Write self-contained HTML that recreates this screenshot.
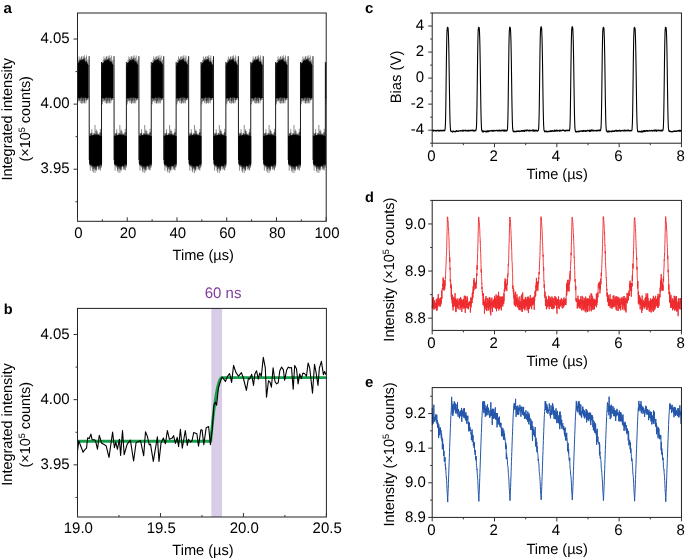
<!DOCTYPE html>
<html><head><meta charset="utf-8"><style>
html,body{margin:0;padding:0;background:#fff;}
svg{display:block;}
text{font-family:"Liberation Sans", sans-serif;text-rendering:geometricPrecision;}
</style></head><body>
<svg width="685" height="560" viewBox="0 0 685 560" font-family='"Liberation Sans", sans-serif'>
<rect width="685" height="560" fill="#fff"/>
<clipPath id="ca"><rect x="77.5" y="13" width="248.7" height="208.3"/></clipPath>
<path clip-path="url(#ca)" d="M52.28 65.68 L52.78 65.39 L53.28 62.95 L53.78 63.99 L54.28 62.5 L54.78 61.59 L55.28 61.13 L55.78 60.62 L56.28 60.76 L56.78 61.08 L57.28 60.83 L57.78 60.82 L58.28 59.69 L58.78 59.88 L59.28 61.65 L59.78 61.65 L60.28 62.62 L60.78 62.59 L61.28 62.01 L61.78 63.79 L62.28 64.16 L62.78 64.74 L63.28 65.09 L63.28 97.86 L62.78 97.31 L62.28 98.09 L61.78 97.36 L61.28 97.9 L60.78 97.39 L60.28 96.9 L59.78 97.25 L59.28 96.74 L58.78 97.23 L58.28 96.93 L57.78 97.26 L57.28 97.52 L56.78 96.44 L56.28 96.64 L55.78 97.38 L55.28 97.44 L54.78 96.91 L54.28 98.2 L53.78 97.59 L53.28 98.12 L52.78 97.75 L52.28 98ZM64.68 135.99 L65.18 136.06 L65.68 136.46 L66.18 135.96 L66.68 135.75 L67.18 135.75 L67.68 136.3 L68.18 135.39 L68.68 136.37 L69.18 134.95 L69.68 135.23 L70.18 135.93 L70.68 135.76 L71.18 135.08 L71.68 135.47 L72.18 135.21 L72.68 136.04 L73.18 135.94 L73.68 135.39 L74.18 136.04 L74.68 135.76 L75.18 136.03 L75.68 136.23 L76.18 136.06 L76.68 136.71 L76.68 163.17 L76.18 163.79 L75.68 164.05 L75.18 164.25 L74.68 163.82 L74.18 165.37 L73.68 166.03 L73.18 165.27 L72.68 165.11 L72.18 165.27 L71.68 165.78 L71.18 166.5 L70.68 165.51 L70.18 165.92 L69.68 165.86 L69.18 166.22 L68.68 165.96 L68.18 165.49 L67.68 165.35 L67.18 164.73 L66.68 163.93 L66.18 164.18 L65.68 164.47 L65.18 163.69 L64.68 163.23ZM77.15 65.68 L77.65 65.39 L78.15 62.95 L78.65 63.99 L79.15 62.5 L79.65 61.59 L80.15 61.13 L80.65 60.62 L81.15 60.76 L81.65 61.08 L82.15 60.83 L82.65 60.82 L83.15 59.69 L83.65 59.88 L84.15 61.65 L84.65 61.65 L85.15 62.62 L85.65 62.59 L86.15 62.01 L86.65 63.79 L87.15 64.16 L87.65 64.74 L88.15 65.09 L88.15 97.86 L87.65 97.31 L87.15 98.09 L86.65 97.36 L86.15 97.9 L85.65 97.39 L85.15 96.9 L84.65 97.25 L84.15 96.74 L83.65 97.23 L83.15 96.93 L82.65 97.26 L82.15 97.52 L81.65 96.44 L81.15 96.64 L80.65 97.38 L80.15 97.44 L79.65 96.91 L79.15 98.2 L78.65 97.59 L78.15 98.12 L77.65 97.75 L77.15 98ZM89.55 135.99 L90.05 136.06 L90.55 136.46 L91.05 135.96 L91.55 135.75 L92.05 135.75 L92.55 136.3 L93.05 135.39 L93.55 136.37 L94.05 134.95 L94.55 135.23 L95.05 135.93 L95.55 135.76 L96.05 135.08 L96.55 135.47 L97.05 135.21 L97.55 136.04 L98.05 135.94 L98.55 135.39 L99.05 136.04 L99.55 135.76 L100.05 136.03 L100.55 136.23 L101.05 136.06 L101.55 136.71 L101.55 163.17 L101.05 163.79 L100.55 164.05 L100.05 164.25 L99.55 163.82 L99.05 165.37 L98.55 166.03 L98.05 165.27 L97.55 165.11 L97.05 165.27 L96.55 165.78 L96.05 166.5 L95.55 165.51 L95.05 165.92 L94.55 165.86 L94.05 166.22 L93.55 165.96 L93.05 165.49 L92.55 165.35 L92.05 164.73 L91.55 163.93 L91.05 164.18 L90.55 164.47 L90.05 163.69 L89.55 163.23ZM102.02 65.68 L102.52 65.39 L103.02 62.95 L103.52 63.99 L104.02 62.5 L104.52 61.59 L105.02 61.13 L105.52 60.62 L106.02 60.76 L106.52 61.08 L107.02 60.83 L107.52 60.82 L108.02 59.69 L108.52 59.88 L109.02 61.65 L109.52 61.65 L110.02 62.62 L110.52 62.59 L111.02 62.01 L111.52 63.79 L112.02 64.16 L112.52 64.74 L113.02 65.09 L113.02 97.86 L112.52 97.31 L112.02 98.09 L111.52 97.36 L111.02 97.9 L110.52 97.39 L110.02 96.9 L109.52 97.25 L109.02 96.74 L108.52 97.23 L108.02 96.93 L107.52 97.26 L107.02 97.52 L106.52 96.44 L106.02 96.64 L105.52 97.38 L105.02 97.44 L104.52 96.91 L104.02 98.2 L103.52 97.59 L103.02 98.12 L102.52 97.75 L102.02 98ZM114.42 135.99 L114.92 136.06 L115.42 136.46 L115.92 135.96 L116.42 135.75 L116.92 135.75 L117.42 136.3 L117.92 135.39 L118.42 136.37 L118.92 134.95 L119.42 135.23 L119.92 135.93 L120.42 135.76 L120.92 135.08 L121.42 135.47 L121.92 135.21 L122.42 136.04 L122.92 135.94 L123.42 135.39 L123.92 136.04 L124.42 135.76 L124.92 136.03 L125.42 136.23 L125.92 136.06 L126.42 136.71 L126.42 163.17 L125.92 163.79 L125.42 164.05 L124.92 164.25 L124.42 163.82 L123.92 165.37 L123.42 166.03 L122.92 165.27 L122.42 165.11 L121.92 165.27 L121.42 165.78 L120.92 166.5 L120.42 165.51 L119.92 165.92 L119.42 165.86 L118.92 166.22 L118.42 165.96 L117.92 165.49 L117.42 165.35 L116.92 164.73 L116.42 163.93 L115.92 164.18 L115.42 164.47 L114.92 163.69 L114.42 163.23ZM126.89 65.68 L127.39 65.39 L127.89 62.95 L128.39 63.99 L128.89 62.5 L129.39 61.59 L129.89 61.13 L130.39 60.62 L130.89 60.76 L131.39 61.08 L131.89 60.83 L132.39 60.82 L132.89 59.69 L133.39 59.88 L133.89 61.65 L134.39 61.65 L134.89 62.62 L135.39 62.59 L135.89 62.01 L136.39 63.79 L136.89 64.16 L137.39 64.74 L137.89 65.09 L137.89 97.86 L137.39 97.31 L136.89 98.09 L136.39 97.36 L135.89 97.9 L135.39 97.39 L134.89 96.9 L134.39 97.25 L133.89 96.74 L133.39 97.23 L132.89 96.93 L132.39 97.26 L131.89 97.52 L131.39 96.44 L130.89 96.64 L130.39 97.38 L129.89 97.44 L129.39 96.91 L128.89 98.2 L128.39 97.59 L127.89 98.12 L127.39 97.75 L126.89 98ZM139.29 135.99 L139.79 136.06 L140.29 136.46 L140.79 135.96 L141.29 135.75 L141.79 135.75 L142.29 136.3 L142.79 135.39 L143.29 136.37 L143.79 134.95 L144.29 135.23 L144.79 135.93 L145.29 135.76 L145.79 135.08 L146.29 135.47 L146.79 135.21 L147.29 136.04 L147.79 135.94 L148.29 135.39 L148.79 136.04 L149.29 135.76 L149.79 136.03 L150.29 136.23 L150.79 136.06 L151.29 136.71 L151.29 163.17 L150.79 163.79 L150.29 164.05 L149.79 164.25 L149.29 163.82 L148.79 165.37 L148.29 166.03 L147.79 165.27 L147.29 165.11 L146.79 165.27 L146.29 165.78 L145.79 166.5 L145.29 165.51 L144.79 165.92 L144.29 165.86 L143.79 166.22 L143.29 165.96 L142.79 165.49 L142.29 165.35 L141.79 164.73 L141.29 163.93 L140.79 164.18 L140.29 164.47 L139.79 163.69 L139.29 163.23ZM151.76 65.68 L152.26 65.39 L152.76 62.95 L153.26 63.99 L153.76 62.5 L154.26 61.59 L154.76 61.13 L155.26 60.62 L155.76 60.76 L156.26 61.08 L156.76 60.83 L157.26 60.82 L157.76 59.69 L158.26 59.88 L158.76 61.65 L159.26 61.65 L159.76 62.62 L160.26 62.59 L160.76 62.01 L161.26 63.79 L161.76 64.16 L162.26 64.74 L162.76 65.09 L162.76 97.86 L162.26 97.31 L161.76 98.09 L161.26 97.36 L160.76 97.9 L160.26 97.39 L159.76 96.9 L159.26 97.25 L158.76 96.74 L158.26 97.23 L157.76 96.93 L157.26 97.26 L156.76 97.52 L156.26 96.44 L155.76 96.64 L155.26 97.38 L154.76 97.44 L154.26 96.91 L153.76 98.2 L153.26 97.59 L152.76 98.12 L152.26 97.75 L151.76 98ZM164.16 135.99 L164.66 136.06 L165.16 136.46 L165.66 135.96 L166.16 135.75 L166.66 135.75 L167.16 136.3 L167.66 135.39 L168.16 136.37 L168.66 134.95 L169.16 135.23 L169.66 135.93 L170.16 135.76 L170.66 135.08 L171.16 135.47 L171.66 135.21 L172.16 136.04 L172.66 135.94 L173.16 135.39 L173.66 136.04 L174.16 135.76 L174.66 136.03 L175.16 136.23 L175.66 136.06 L176.16 136.71 L176.16 163.17 L175.66 163.79 L175.16 164.05 L174.66 164.25 L174.16 163.82 L173.66 165.37 L173.16 166.03 L172.66 165.27 L172.16 165.11 L171.66 165.27 L171.16 165.78 L170.66 166.5 L170.16 165.51 L169.66 165.92 L169.16 165.86 L168.66 166.22 L168.16 165.96 L167.66 165.49 L167.16 165.35 L166.66 164.73 L166.16 163.93 L165.66 164.18 L165.16 164.47 L164.66 163.69 L164.16 163.23ZM176.63 65.68 L177.13 65.39 L177.63 62.95 L178.13 63.99 L178.63 62.5 L179.13 61.59 L179.63 61.13 L180.13 60.62 L180.63 60.76 L181.13 61.08 L181.63 60.83 L182.13 60.82 L182.63 59.69 L183.13 59.88 L183.63 61.65 L184.13 61.65 L184.63 62.62 L185.13 62.59 L185.63 62.01 L186.13 63.79 L186.63 64.16 L187.13 64.74 L187.63 65.09 L187.63 97.86 L187.13 97.31 L186.63 98.09 L186.13 97.36 L185.63 97.9 L185.13 97.39 L184.63 96.9 L184.13 97.25 L183.63 96.74 L183.13 97.23 L182.63 96.93 L182.13 97.26 L181.63 97.52 L181.13 96.44 L180.63 96.64 L180.13 97.38 L179.63 97.44 L179.13 96.91 L178.63 98.2 L178.13 97.59 L177.63 98.12 L177.13 97.75 L176.63 98ZM189.03 135.99 L189.53 136.06 L190.03 136.46 L190.53 135.96 L191.03 135.75 L191.53 135.75 L192.03 136.3 L192.53 135.39 L193.03 136.37 L193.53 134.95 L194.03 135.23 L194.53 135.93 L195.03 135.76 L195.53 135.08 L196.03 135.47 L196.53 135.21 L197.03 136.04 L197.53 135.94 L198.03 135.39 L198.53 136.04 L199.03 135.76 L199.53 136.03 L200.03 136.23 L200.53 136.06 L201.03 136.71 L201.03 163.17 L200.53 163.79 L200.03 164.05 L199.53 164.25 L199.03 163.82 L198.53 165.37 L198.03 166.03 L197.53 165.27 L197.03 165.11 L196.53 165.27 L196.03 165.78 L195.53 166.5 L195.03 165.51 L194.53 165.92 L194.03 165.86 L193.53 166.22 L193.03 165.96 L192.53 165.49 L192.03 165.35 L191.53 164.73 L191.03 163.93 L190.53 164.18 L190.03 164.47 L189.53 163.69 L189.03 163.23ZM201.5 65.68 L202 65.39 L202.5 62.95 L203 63.99 L203.5 62.5 L204 61.59 L204.5 61.13 L205 60.62 L205.5 60.76 L206 61.08 L206.5 60.83 L207 60.82 L207.5 59.69 L208 59.88 L208.5 61.65 L209 61.65 L209.5 62.62 L210 62.59 L210.5 62.01 L211 63.79 L211.5 64.16 L212 64.74 L212.5 65.09 L212.5 97.86 L212 97.31 L211.5 98.09 L211 97.36 L210.5 97.9 L210 97.39 L209.5 96.9 L209 97.25 L208.5 96.74 L208 97.23 L207.5 96.93 L207 97.26 L206.5 97.52 L206 96.44 L205.5 96.64 L205 97.38 L204.5 97.44 L204 96.91 L203.5 98.2 L203 97.59 L202.5 98.12 L202 97.75 L201.5 98ZM213.9 135.99 L214.4 136.06 L214.9 136.46 L215.4 135.96 L215.9 135.75 L216.4 135.75 L216.9 136.3 L217.4 135.39 L217.9 136.37 L218.4 134.95 L218.9 135.23 L219.4 135.93 L219.9 135.76 L220.4 135.08 L220.9 135.47 L221.4 135.21 L221.9 136.04 L222.4 135.94 L222.9 135.39 L223.4 136.04 L223.9 135.76 L224.4 136.03 L224.9 136.23 L225.4 136.06 L225.9 136.71 L225.9 163.17 L225.4 163.79 L224.9 164.05 L224.4 164.25 L223.9 163.82 L223.4 165.37 L222.9 166.03 L222.4 165.27 L221.9 165.11 L221.4 165.27 L220.9 165.78 L220.4 166.5 L219.9 165.51 L219.4 165.92 L218.9 165.86 L218.4 166.22 L217.9 165.96 L217.4 165.49 L216.9 165.35 L216.4 164.73 L215.9 163.93 L215.4 164.18 L214.9 164.47 L214.4 163.69 L213.9 163.23ZM226.37 65.68 L226.87 65.39 L227.37 62.95 L227.87 63.99 L228.37 62.5 L228.87 61.59 L229.37 61.13 L229.87 60.62 L230.37 60.76 L230.87 61.08 L231.37 60.83 L231.87 60.82 L232.37 59.69 L232.87 59.88 L233.37 61.65 L233.87 61.65 L234.37 62.62 L234.87 62.59 L235.37 62.01 L235.87 63.79 L236.37 64.16 L236.87 64.74 L237.37 65.09 L237.37 97.86 L236.87 97.31 L236.37 98.09 L235.87 97.36 L235.37 97.9 L234.87 97.39 L234.37 96.9 L233.87 97.25 L233.37 96.74 L232.87 97.23 L232.37 96.93 L231.87 97.26 L231.37 97.52 L230.87 96.44 L230.37 96.64 L229.87 97.38 L229.37 97.44 L228.87 96.91 L228.37 98.2 L227.87 97.59 L227.37 98.12 L226.87 97.75 L226.37 98ZM238.77 135.99 L239.27 136.06 L239.77 136.46 L240.27 135.96 L240.77 135.75 L241.27 135.75 L241.77 136.3 L242.27 135.39 L242.77 136.37 L243.27 134.95 L243.77 135.23 L244.27 135.93 L244.77 135.76 L245.27 135.08 L245.77 135.47 L246.27 135.21 L246.77 136.04 L247.27 135.94 L247.77 135.39 L248.27 136.04 L248.77 135.76 L249.27 136.03 L249.77 136.23 L250.27 136.06 L250.77 136.71 L250.77 163.17 L250.27 163.79 L249.77 164.05 L249.27 164.25 L248.77 163.82 L248.27 165.37 L247.77 166.03 L247.27 165.27 L246.77 165.11 L246.27 165.27 L245.77 165.78 L245.27 166.5 L244.77 165.51 L244.27 165.92 L243.77 165.86 L243.27 166.22 L242.77 165.96 L242.27 165.49 L241.77 165.35 L241.27 164.73 L240.77 163.93 L240.27 164.18 L239.77 164.47 L239.27 163.69 L238.77 163.23ZM251.24 65.68 L251.74 65.39 L252.24 62.95 L252.74 63.99 L253.24 62.5 L253.74 61.59 L254.24 61.13 L254.74 60.62 L255.24 60.76 L255.74 61.08 L256.24 60.83 L256.74 60.82 L257.24 59.69 L257.74 59.88 L258.24 61.65 L258.74 61.65 L259.24 62.62 L259.74 62.59 L260.24 62.01 L260.74 63.79 L261.24 64.16 L261.74 64.74 L262.24 65.09 L262.24 97.86 L261.74 97.31 L261.24 98.09 L260.74 97.36 L260.24 97.9 L259.74 97.39 L259.24 96.9 L258.74 97.25 L258.24 96.74 L257.74 97.23 L257.24 96.93 L256.74 97.26 L256.24 97.52 L255.74 96.44 L255.24 96.64 L254.74 97.38 L254.24 97.44 L253.74 96.91 L253.24 98.2 L252.74 97.59 L252.24 98.12 L251.74 97.75 L251.24 98ZM263.64 135.99 L264.14 136.06 L264.64 136.46 L265.14 135.96 L265.64 135.75 L266.14 135.75 L266.64 136.3 L267.14 135.39 L267.64 136.37 L268.14 134.95 L268.64 135.23 L269.14 135.93 L269.64 135.76 L270.14 135.08 L270.64 135.47 L271.14 135.21 L271.64 136.04 L272.14 135.94 L272.64 135.39 L273.14 136.04 L273.64 135.76 L274.14 136.03 L274.64 136.23 L275.14 136.06 L275.64 136.71 L275.64 163.17 L275.14 163.79 L274.64 164.05 L274.14 164.25 L273.64 163.82 L273.14 165.37 L272.64 166.03 L272.14 165.27 L271.64 165.11 L271.14 165.27 L270.64 165.78 L270.14 166.5 L269.64 165.51 L269.14 165.92 L268.64 165.86 L268.14 166.22 L267.64 165.96 L267.14 165.49 L266.64 165.35 L266.14 164.73 L265.64 163.93 L265.14 164.18 L264.64 164.47 L264.14 163.69 L263.64 163.23ZM276.11 65.68 L276.61 65.39 L277.11 62.95 L277.61 63.99 L278.11 62.5 L278.61 61.59 L279.11 61.13 L279.61 60.62 L280.11 60.76 L280.61 61.08 L281.11 60.83 L281.61 60.82 L282.11 59.69 L282.61 59.88 L283.11 61.65 L283.61 61.65 L284.11 62.62 L284.61 62.59 L285.11 62.01 L285.61 63.79 L286.11 64.16 L286.61 64.74 L287.11 65.09 L287.11 97.86 L286.61 97.31 L286.11 98.09 L285.61 97.36 L285.11 97.9 L284.61 97.39 L284.11 96.9 L283.61 97.25 L283.11 96.74 L282.61 97.23 L282.11 96.93 L281.61 97.26 L281.11 97.52 L280.61 96.44 L280.11 96.64 L279.61 97.38 L279.11 97.44 L278.61 96.91 L278.11 98.2 L277.61 97.59 L277.11 98.12 L276.61 97.75 L276.11 98ZM288.51 135.99 L289.01 136.06 L289.51 136.46 L290.01 135.96 L290.51 135.75 L291.01 135.75 L291.51 136.3 L292.01 135.39 L292.51 136.37 L293.01 134.95 L293.51 135.23 L294.01 135.93 L294.51 135.76 L295.01 135.08 L295.51 135.47 L296.01 135.21 L296.51 136.04 L297.01 135.94 L297.51 135.39 L298.01 136.04 L298.51 135.76 L299.01 136.03 L299.51 136.23 L300.01 136.06 L300.51 136.71 L300.51 163.17 L300.01 163.79 L299.51 164.05 L299.01 164.25 L298.51 163.82 L298.01 165.37 L297.51 166.03 L297.01 165.27 L296.51 165.11 L296.01 165.27 L295.51 165.78 L295.01 166.5 L294.51 165.51 L294.01 165.92 L293.51 165.86 L293.01 166.22 L292.51 165.96 L292.01 165.49 L291.51 165.35 L291.01 164.73 L290.51 163.93 L290.01 164.18 L289.51 164.47 L289.01 163.69 L288.51 163.23ZM300.98 65.68 L301.48 65.39 L301.98 62.95 L302.48 63.99 L302.98 62.5 L303.48 61.59 L303.98 61.13 L304.48 60.62 L304.98 60.76 L305.48 61.08 L305.98 60.83 L306.48 60.82 L306.98 59.69 L307.48 59.88 L307.98 61.65 L308.48 61.65 L308.98 62.62 L309.48 62.59 L309.98 62.01 L310.48 63.79 L310.98 64.16 L311.48 64.74 L311.98 65.09 L311.98 97.86 L311.48 97.31 L310.98 98.09 L310.48 97.36 L309.98 97.9 L309.48 97.39 L308.98 96.9 L308.48 97.25 L307.98 96.74 L307.48 97.23 L306.98 96.93 L306.48 97.26 L305.98 97.52 L305.48 96.44 L304.98 96.64 L304.48 97.38 L303.98 97.44 L303.48 96.91 L302.98 98.2 L302.48 97.59 L301.98 98.12 L301.48 97.75 L300.98 98ZM313.38 135.99 L313.88 136.06 L314.38 136.46 L314.88 135.96 L315.38 135.75 L315.88 135.75 L316.38 136.3 L316.88 135.39 L317.38 136.37 L317.88 134.95 L318.38 135.23 L318.88 135.93 L319.38 135.76 L319.88 135.08 L320.38 135.47 L320.88 135.21 L321.38 136.04 L321.88 135.94 L322.38 135.39 L322.88 136.04 L323.38 135.76 L323.88 136.03 L324.38 136.23 L324.88 136.06 L325.38 136.71 L325.38 163.17 L324.88 163.79 L324.38 164.05 L323.88 164.25 L323.38 163.82 L322.88 165.37 L322.38 166.03 L321.88 165.27 L321.38 165.11 L320.88 165.27 L320.38 165.78 L319.88 166.5 L319.38 165.51 L318.88 165.92 L318.38 165.86 L317.88 166.22 L317.38 165.96 L316.88 165.49 L316.38 165.35 L315.88 164.73 L315.38 163.93 L314.88 164.18 L314.38 164.47 L313.88 163.69 L313.38 163.23ZM325.85 65.68 L326.35 65.39 L326.85 62.95 L327.35 63.99 L327.85 62.5 L328.35 61.59 L328.85 61.13 L329.35 60.62 L329.85 60.76 L330.35 61.08 L330.85 60.83 L331.35 60.82 L331.85 59.69 L332.35 59.88 L332.85 61.65 L333.35 61.65 L333.85 62.62 L334.35 62.59 L334.85 62.01 L335.35 63.79 L335.85 64.16 L336.35 64.74 L336.85 65.09 L336.85 97.86 L336.35 97.31 L335.85 98.09 L335.35 97.36 L334.85 97.9 L334.35 97.39 L333.85 96.9 L333.35 97.25 L332.85 96.74 L332.35 97.23 L331.85 96.93 L331.35 97.26 L330.85 97.52 L330.35 96.44 L329.85 96.64 L329.35 97.38 L328.85 97.44 L328.35 96.91 L327.85 98.2 L327.35 97.59 L326.85 98.12 L326.35 97.75 L325.85 98ZM338.25 135.99 L338.75 136.06 L339.25 136.46 L339.75 135.96 L340.25 135.75 L340.75 135.75 L341.25 136.3 L341.75 135.39 L342.25 136.37 L342.75 134.95 L343.25 135.23 L343.75 135.93 L344.25 135.76 L344.75 135.08 L345.25 135.47 L345.75 135.21 L346.25 136.04 L346.75 135.94 L347.25 135.39 L347.75 136.04 L348.25 135.76 L348.75 136.03 L349.25 136.23 L349.75 136.06 L350.25 136.71 L350.25 163.17 L349.75 163.79 L349.25 164.05 L348.75 164.25 L348.25 163.82 L347.75 165.37 L347.25 166.03 L346.75 165.27 L346.25 165.11 L345.75 165.27 L345.25 165.78 L344.75 166.5 L344.25 165.51 L343.75 165.92 L343.25 165.86 L342.75 166.22 L342.25 165.96 L341.75 165.49 L341.25 165.35 L340.75 164.73 L340.25 163.93 L339.75 164.18 L339.25 164.47 L338.75 163.69 L338.25 163.23ZM350.72 65.68 L351.22 65.39 L351.72 62.95 L352.22 63.99 L352.72 62.5 L353.22 61.59 L353.72 61.13 L354.22 60.62 L354.72 60.76 L355.22 61.08 L355.72 60.83 L356.22 60.82 L356.72 59.69 L357.22 59.88 L357.72 61.65 L358.22 61.65 L358.72 62.62 L359.22 62.59 L359.72 62.01 L360.22 63.79 L360.72 64.16 L361.22 64.74 L361.72 65.09 L361.72 97.86 L361.22 97.31 L360.72 98.09 L360.22 97.36 L359.72 97.9 L359.22 97.39 L358.72 96.9 L358.22 97.25 L357.72 96.74 L357.22 97.23 L356.72 96.93 L356.22 97.26 L355.72 97.52 L355.22 96.44 L354.72 96.64 L354.22 97.38 L353.72 97.44 L353.22 96.91 L352.72 98.2 L352.22 97.59 L351.72 98.12 L351.22 97.75 L350.72 98ZM363.12 135.99 L363.62 136.06 L364.12 136.46 L364.62 135.96 L365.12 135.75 L365.62 135.75 L366.12 136.3 L366.62 135.39 L367.12 136.37 L367.62 134.95 L368.12 135.23 L368.62 135.93 L369.12 135.76 L369.62 135.08 L370.12 135.47 L370.62 135.21 L371.12 136.04 L371.62 135.94 L372.12 135.39 L372.62 136.04 L373.12 135.76 L373.62 136.03 L374.12 136.23 L374.62 136.06 L375.12 136.71 L375.12 163.17 L374.62 163.79 L374.12 164.05 L373.62 164.25 L373.12 163.82 L372.62 165.37 L372.12 166.03 L371.62 165.27 L371.12 165.11 L370.62 165.27 L370.12 165.78 L369.62 166.5 L369.12 165.51 L368.62 165.92 L368.12 165.86 L367.62 166.22 L367.12 165.96 L366.62 165.49 L366.12 165.35 L365.62 164.73 L365.12 163.93 L364.62 164.18 L364.12 164.47 L363.62 163.69 L363.12 163.23ZM51.78 165.5L51.78 62M64.28 56.2L64.38 160M76.65 165.5L76.65 62M89.15 56.2L89.25 160M101.52 165.5L101.52 62M114.02 56.2L114.12 160M126.39 165.5L126.39 62M138.89 56.2L138.99 160M151.26 165.5L151.26 62M163.76 56.2L163.86 160M176.13 165.5L176.13 62M188.63 56.2L188.73 160M201 165.5L201 62M213.5 56.2L213.6 160M225.87 165.5L225.87 62M238.37 56.2L238.47 160M250.74 165.5L250.74 62M263.24 56.2L263.34 160M275.61 165.5L275.61 62M288.11 56.2L288.21 160M300.48 165.5L300.48 62M312.98 56.2L313.08 160M325.35 165.5L325.35 62M337.85 56.2L337.95 160M350.22 165.5L350.22 62M362.72 56.2L362.82 160" fill="#000" stroke="#000" stroke-width="0.9" stroke-linejoin="round"/>
<path clip-path="url(#ca)" d="M52.53 65.85L52.53 62.44M52.53 97.11L52.53 98.32M52.65 65.65L52.65 63.53M52.65 97.07L52.65 104.37M53.17 64.81L53.17 62.98M53.17 96.9L53.17 101.75M53.4 64.47L53.4 59.91M53.4 96.83L53.4 97.8M53.65 64.12L53.65 62.96M53.65 96.76L53.65 98.58M54.22 63.4L54.22 56.43M54.22 96.62L54.22 101.13M54.33 63.27L54.33 62.23M54.33 96.59L54.33 100.86M54.82 62.75L54.82 60.41M54.82 96.49L54.82 100.02M55.06 62.53L55.06 58.98M55.06 96.45L55.06 98.32M55.38 62.25L55.38 58.46M55.38 96.39L55.38 103.08M55.86 61.91L55.86 61M55.86 96.32L55.86 98.25M55.99 61.83L55.99 59.82M55.99 96.31L55.99 100.69M56.4 61.62L56.4 56.8M56.4 96.26L56.4 97.55M56.82 61.45L56.82 56.28M56.82 96.23L56.82 103.53M57.21 61.36L57.21 60.5M57.21 96.21L57.21 103.51M57.4 61.32L57.4 59.07M57.4 96.2L57.4 101.18M57.86 61.3L57.86 58.94M57.86 96.2L57.86 97.03M58.06 61.31L58.06 59.49M58.06 96.2L58.06 100.98M58.35 61.35L58.35 56.2M58.35 96.21L58.35 103.05M58.67 61.43L58.67 60.19M58.67 96.23L58.67 99.36M59.11 61.59L59.11 57.74M59.11 96.26L59.11 97.57M59.48 61.77L59.48 55.23M59.48 96.29L59.48 103.59M59.65 61.88L59.65 58.11M59.65 96.32L59.65 102.47M60 62.11L60 60.1M60 96.36L60 100.2M60.57 62.58L60.57 61.38M60.57 96.46L60.57 97.43M60.88 62.89L60.88 57.64M60.88 96.52L60.88 97.83M61.08 63.09L61.08 60.62M61.08 96.56L61.08 103.24M61.46 63.53L61.46 61.1M61.46 96.65L61.46 100.71M61.65 63.77L61.65 55.47M61.65 96.69L61.65 98.99M62.08 64.36L62.08 62.71M62.08 96.81L62.08 100.18M62.32 64.71L62.32 61.85M62.32 96.88L62.32 99.52M62.83 65.5L62.83 63.6M62.83 97.04L62.83 97.92M63.03 65.86L63.03 59.69M63.03 97.11L63.03 99.91M64.87 137.24L64.87 135.58M64.87 162.38L64.87 165.06M65.11 137.16L65.11 135.91M65.11 162.61L65.11 165.5M65.4 137.07L65.4 132.96M65.4 162.88L65.4 170.68M65.79 136.96L65.79 133.76M65.79 163.21L65.79 165.47M66.18 136.86L66.18 134.05M66.18 163.51L66.18 166.31M66.53 136.78L66.53 133.04M66.53 163.76L66.53 166.43M66.94 136.69L66.94 129.21M66.94 164.03L66.94 167.54M67.14 136.65L67.14 132.56M67.14 164.15L67.14 165.51M67.63 136.56L67.63 135.71M67.63 164.42L67.63 166.96M67.79 136.53L67.79 135.3M67.79 164.5L67.79 170.99M68.26 136.46L68.26 135.28M68.26 164.71L68.26 169.14M68.41 136.44L68.41 134.62M68.41 164.77L68.41 172.57M68.79 136.4L68.79 133.28M68.79 164.9L68.79 165.76M69.08 136.37L69.08 135.3M69.08 164.98L69.08 168.63M69.44 136.34L69.44 133.05M69.44 165.07L69.44 167.72M69.86 136.32L69.86 133.68M69.86 165.14L69.86 169.44M70.12 136.31L70.12 125.01M70.12 165.17L70.12 172.97M70.51 136.3L70.51 134.03M70.51 165.2L70.51 167.82M70.86 136.3L70.86 134.36M70.86 165.2L70.86 169.78M71.14 136.31L71.14 131.09M71.14 165.18L71.14 169.87M71.42 136.32L71.42 129.46M71.42 165.15L71.42 171.13M71.87 136.34L71.87 133.83M71.87 165.08L71.87 168.69M72.24 136.37L72.24 131M72.24 165L72.24 165.86M72.47 136.39L72.47 133.21M72.47 164.93L72.47 166.18M72.82 136.43L72.82 134.34M72.82 164.82L72.82 166.38M73.23 136.48L73.23 134.78M73.23 164.66L73.23 166.96M73.59 136.53L73.59 134.38M73.59 164.5L73.59 169.72M73.84 136.58L73.84 133.52M73.84 164.37L73.84 165.6M74.19 136.64L74.19 135.32M74.19 164.18L74.19 168.56M74.43 136.69L74.43 135.81M74.43 164.03L74.43 167.49M74.98 136.81L74.98 133.16M74.98 163.66L74.98 169.76M75.24 136.88L75.24 132.15M75.24 163.47L75.24 165.29M75.52 136.95L75.52 128.8M75.52 163.25L75.52 170.49M75.97 137.08L75.97 132.27M75.97 162.87L75.97 167.23M76.3 137.18L76.3 136.28M76.3 162.57L76.3 163.43M76.45 137.22L76.45 136.39M76.45 162.43L76.45 167.59M77.4 65.85L77.4 62.44M77.4 97.11L77.4 98.32M77.52 65.65L77.52 63.53M77.52 97.07L77.52 104.37M78.04 64.81L78.04 62.98M78.04 96.9L78.04 101.75M78.27 64.47L78.27 59.91M78.27 96.83L78.27 97.8M78.52 64.12L78.52 62.96M78.52 96.76L78.52 98.58M79.09 63.4L79.09 56.43M79.09 96.62L79.09 101.13M79.2 63.27L79.2 62.23M79.2 96.59L79.2 100.86M79.69 62.75L79.69 60.41M79.69 96.49L79.69 100.02M79.93 62.53L79.93 58.98M79.93 96.45L79.93 98.32M80.25 62.25L80.25 58.46M80.25 96.39L80.25 103.08M80.73 61.91L80.73 61M80.73 96.32L80.73 98.25M80.86 61.83L80.86 59.82M80.86 96.31L80.86 100.69M81.27 61.62L81.27 56.8M81.27 96.26L81.27 97.55M81.69 61.45L81.69 56.28M81.69 96.23L81.69 103.53M82.08 61.36L82.08 60.5M82.08 96.21L82.08 103.51M82.27 61.32L82.27 59.07M82.27 96.2L82.27 101.18M82.73 61.3L82.73 58.94M82.73 96.2L82.73 97.03M82.93 61.31L82.93 59.49M82.93 96.2L82.93 100.98M83.22 61.35L83.22 56.2M83.22 96.21L83.22 103.05M83.54 61.43L83.54 60.19M83.54 96.23L83.54 99.36M83.98 61.59L83.98 57.74M83.98 96.26L83.98 97.57M84.35 61.77L84.35 55.23M84.35 96.29L84.35 103.59M84.52 61.88L84.52 58.11M84.52 96.32L84.52 102.47M84.87 62.11L84.87 60.1M84.87 96.36L84.87 100.2M85.44 62.58L85.44 61.38M85.44 96.46L85.44 97.43M85.75 62.89L85.75 57.64M85.75 96.52L85.75 97.83M85.95 63.09L85.95 60.62M85.95 96.56L85.95 103.24M86.33 63.53L86.33 61.1M86.33 96.65L86.33 100.71M86.52 63.77L86.52 55.47M86.52 96.69L86.52 98.99M86.95 64.36L86.95 62.71M86.95 96.81L86.95 100.18M87.19 64.71L87.19 61.85M87.19 96.88L87.19 99.52M87.7 65.5L87.7 63.6M87.7 97.04L87.7 97.92M87.9 65.86L87.9 59.69M87.9 97.11L87.9 99.91M89.74 137.24L89.74 135.58M89.74 162.38L89.74 165.06M89.98 137.16L89.98 135.91M89.98 162.61L89.98 165.5M90.27 137.07L90.27 132.96M90.27 162.88L90.27 170.68M90.66 136.96L90.66 133.76M90.66 163.21L90.66 165.47M91.05 136.86L91.05 134.05M91.05 163.51L91.05 166.31M91.4 136.78L91.4 133.04M91.4 163.76L91.4 166.43M91.81 136.69L91.81 129.21M91.81 164.03L91.81 167.54M92.01 136.65L92.01 132.56M92.01 164.15L92.01 165.51M92.5 136.56L92.5 135.71M92.5 164.42L92.5 166.96M92.66 136.53L92.66 135.3M92.66 164.5L92.66 170.99M93.13 136.46L93.13 135.28M93.13 164.71L93.13 169.14M93.28 136.44L93.28 134.62M93.28 164.77L93.28 172.57M93.66 136.4L93.66 133.28M93.66 164.9L93.66 165.76M93.95 136.37L93.95 135.3M93.95 164.98L93.95 168.63M94.31 136.34L94.31 133.05M94.31 165.07L94.31 167.72M94.73 136.32L94.73 133.68M94.73 165.14L94.73 169.44M94.99 136.31L94.99 125.01M94.99 165.17L94.99 172.97M95.38 136.3L95.38 134.03M95.38 165.2L95.38 167.82M95.73 136.3L95.73 134.36M95.73 165.2L95.73 169.78M96.01 136.31L96.01 131.09M96.01 165.18L96.01 169.87M96.29 136.32L96.29 129.46M96.29 165.15L96.29 171.13M96.74 136.34L96.74 133.83M96.74 165.08L96.74 168.69M97.11 136.37L97.11 131M97.11 165L97.11 165.86M97.34 136.39L97.34 133.21M97.34 164.93L97.34 166.18M97.69 136.43L97.69 134.34M97.69 164.82L97.69 166.38M98.1 136.48L98.1 134.78M98.1 164.66L98.1 166.96M98.46 136.53L98.46 134.38M98.46 164.5L98.46 169.72M98.71 136.58L98.71 133.52M98.71 164.37L98.71 165.6M99.06 136.64L99.06 135.32M99.06 164.18L99.06 168.56M99.3 136.69L99.3 135.81M99.3 164.03L99.3 167.49M99.85 136.81L99.85 133.16M99.85 163.66L99.85 169.76M100.11 136.88L100.11 132.15M100.11 163.47L100.11 165.29M100.39 136.95L100.39 128.8M100.39 163.25L100.39 170.49M100.84 137.08L100.84 132.27M100.84 162.87L100.84 167.23M101.17 137.18L101.17 136.28M101.17 162.57L101.17 163.43M101.32 137.22L101.32 136.39M101.32 162.43L101.32 167.59M102.27 65.85L102.27 62.44M102.27 97.11L102.27 98.32M102.39 65.65L102.39 63.53M102.39 97.07L102.39 104.37M102.91 64.81L102.91 62.98M102.91 96.9L102.91 101.75M103.14 64.47L103.14 59.91M103.14 96.83L103.14 97.8M103.39 64.12L103.39 62.96M103.39 96.76L103.39 98.58M103.96 63.4L103.96 56.43M103.96 96.62L103.96 101.13M104.07 63.27L104.07 62.23M104.07 96.59L104.07 100.86M104.56 62.75L104.56 60.41M104.56 96.49L104.56 100.02M104.8 62.53L104.8 58.98M104.8 96.45L104.8 98.32M105.12 62.25L105.12 58.46M105.12 96.39L105.12 103.08M105.6 61.91L105.6 61M105.6 96.32L105.6 98.25M105.73 61.83L105.73 59.82M105.73 96.31L105.73 100.69M106.14 61.62L106.14 56.8M106.14 96.26L106.14 97.55M106.56 61.45L106.56 56.28M106.56 96.23L106.56 103.53M106.95 61.36L106.95 60.5M106.95 96.21L106.95 103.51M107.14 61.32L107.14 59.07M107.14 96.2L107.14 101.18M107.6 61.3L107.6 58.94M107.6 96.2L107.6 97.03M107.8 61.31L107.8 59.49M107.8 96.2L107.8 100.98M108.09 61.35L108.09 56.2M108.09 96.21L108.09 103.05M108.41 61.43L108.41 60.19M108.41 96.23L108.41 99.36M108.85 61.59L108.85 57.74M108.85 96.26L108.85 97.57M109.22 61.77L109.22 55.23M109.22 96.29L109.22 103.59M109.39 61.88L109.39 58.11M109.39 96.32L109.39 102.47M109.74 62.11L109.74 60.1M109.74 96.36L109.74 100.2M110.31 62.58L110.31 61.38M110.31 96.46L110.31 97.43M110.62 62.89L110.62 57.64M110.62 96.52L110.62 97.83M110.82 63.09L110.82 60.62M110.82 96.56L110.82 103.24M111.2 63.53L111.2 61.1M111.2 96.65L111.2 100.71M111.39 63.77L111.39 55.47M111.39 96.69L111.39 98.99M111.82 64.36L111.82 62.71M111.82 96.81L111.82 100.18M112.06 64.71L112.06 61.85M112.06 96.88L112.06 99.52M112.57 65.5L112.57 63.6M112.57 97.04L112.57 97.92M112.77 65.86L112.77 59.69M112.77 97.11L112.77 99.91M114.61 137.24L114.61 135.58M114.61 162.38L114.61 165.06M114.85 137.16L114.85 135.91M114.85 162.61L114.85 165.5M115.14 137.07L115.14 132.96M115.14 162.88L115.14 170.68M115.53 136.96L115.53 133.76M115.53 163.21L115.53 165.47M115.92 136.86L115.92 134.05M115.92 163.51L115.92 166.31M116.27 136.78L116.27 133.04M116.27 163.76L116.27 166.43M116.68 136.69L116.68 129.21M116.68 164.03L116.68 167.54M116.88 136.65L116.88 132.56M116.88 164.15L116.88 165.51M117.37 136.56L117.37 135.71M117.37 164.42L117.37 166.96M117.53 136.53L117.53 135.3M117.53 164.5L117.53 170.99M118 136.46L118 135.28M118 164.71L118 169.14M118.15 136.44L118.15 134.62M118.15 164.77L118.15 172.57M118.53 136.4L118.53 133.28M118.53 164.9L118.53 165.76M118.82 136.37L118.82 135.3M118.82 164.98L118.82 168.63M119.18 136.34L119.18 133.05M119.18 165.07L119.18 167.72M119.6 136.32L119.6 133.68M119.6 165.14L119.6 169.44M119.86 136.31L119.86 125.01M119.86 165.17L119.86 172.97M120.25 136.3L120.25 134.03M120.25 165.2L120.25 167.82M120.6 136.3L120.6 134.36M120.6 165.2L120.6 169.78M120.88 136.31L120.88 131.09M120.88 165.18L120.88 169.87M121.16 136.32L121.16 129.46M121.16 165.15L121.16 171.13M121.61 136.34L121.61 133.83M121.61 165.08L121.61 168.69M121.98 136.37L121.98 131M121.98 165L121.98 165.86M122.21 136.39L122.21 133.21M122.21 164.93L122.21 166.18M122.56 136.43L122.56 134.34M122.56 164.82L122.56 166.38M122.97 136.48L122.97 134.78M122.97 164.66L122.97 166.96M123.33 136.53L123.33 134.38M123.33 164.5L123.33 169.72M123.58 136.58L123.58 133.52M123.58 164.37L123.58 165.6M123.93 136.64L123.93 135.32M123.93 164.18L123.93 168.56M124.17 136.69L124.17 135.81M124.17 164.03L124.17 167.49M124.72 136.81L124.72 133.16M124.72 163.66L124.72 169.76M124.98 136.88L124.98 132.15M124.98 163.47L124.98 165.29M125.26 136.95L125.26 128.8M125.26 163.25L125.26 170.49M125.71 137.08L125.71 132.27M125.71 162.87L125.71 167.23M126.04 137.18L126.04 136.28M126.04 162.57L126.04 163.43M126.19 137.22L126.19 136.39M126.19 162.43L126.19 167.59M127.14 65.85L127.14 62.44M127.14 97.11L127.14 98.32M127.26 65.65L127.26 63.53M127.26 97.07L127.26 104.37M127.78 64.81L127.78 62.98M127.78 96.9L127.78 101.75M128.01 64.47L128.01 59.91M128.01 96.83L128.01 97.8M128.26 64.12L128.26 62.96M128.26 96.76L128.26 98.58M128.83 63.4L128.83 56.43M128.83 96.62L128.83 101.13M128.94 63.27L128.94 62.23M128.94 96.59L128.94 100.86M129.43 62.75L129.43 60.41M129.43 96.49L129.43 100.02M129.67 62.53L129.67 58.98M129.67 96.45L129.67 98.32M129.99 62.25L129.99 58.46M129.99 96.39L129.99 103.08M130.47 61.91L130.47 61M130.47 96.32L130.47 98.25M130.6 61.83L130.6 59.82M130.6 96.31L130.6 100.69M131.01 61.62L131.01 56.8M131.01 96.26L131.01 97.55M131.43 61.45L131.43 56.28M131.43 96.23L131.43 103.53M131.82 61.36L131.82 60.5M131.82 96.21L131.82 103.51M132.01 61.32L132.01 59.07M132.01 96.2L132.01 101.18M132.47 61.3L132.47 58.94M132.47 96.2L132.47 97.03M132.67 61.31L132.67 59.49M132.67 96.2L132.67 100.98M132.96 61.35L132.96 56.2M132.96 96.21L132.96 103.05M133.28 61.43L133.28 60.19M133.28 96.23L133.28 99.36M133.72 61.59L133.72 57.74M133.72 96.26L133.72 97.57M134.09 61.77L134.09 55.23M134.09 96.29L134.09 103.59M134.26 61.88L134.26 58.11M134.26 96.32L134.26 102.47M134.61 62.11L134.61 60.1M134.61 96.36L134.61 100.2M135.18 62.58L135.18 61.38M135.18 96.46L135.18 97.43M135.49 62.89L135.49 57.64M135.49 96.52L135.49 97.83M135.69 63.09L135.69 60.62M135.69 96.56L135.69 103.24M136.07 63.53L136.07 61.1M136.07 96.65L136.07 100.71M136.26 63.77L136.26 55.47M136.26 96.69L136.26 98.99M136.69 64.36L136.69 62.71M136.69 96.81L136.69 100.18M136.93 64.71L136.93 61.85M136.93 96.88L136.93 99.52M137.44 65.5L137.44 63.6M137.44 97.04L137.44 97.92M137.64 65.86L137.64 59.69M137.64 97.11L137.64 99.91M139.48 137.24L139.48 135.58M139.48 162.38L139.48 165.06M139.72 137.16L139.72 135.91M139.72 162.61L139.72 165.5M140.01 137.07L140.01 132.96M140.01 162.88L140.01 170.68M140.4 136.96L140.4 133.76M140.4 163.21L140.4 165.47M140.79 136.86L140.79 134.05M140.79 163.51L140.79 166.31M141.14 136.78L141.14 133.04M141.14 163.76L141.14 166.43M141.55 136.69L141.55 129.21M141.55 164.03L141.55 167.54M141.75 136.65L141.75 132.56M141.75 164.15L141.75 165.51M142.24 136.56L142.24 135.71M142.24 164.42L142.24 166.96M142.4 136.53L142.4 135.3M142.4 164.5L142.4 170.99M142.87 136.46L142.87 135.28M142.87 164.71L142.87 169.14M143.02 136.44L143.02 134.62M143.02 164.77L143.02 172.57M143.4 136.4L143.4 133.28M143.4 164.9L143.4 165.76M143.69 136.37L143.69 135.3M143.69 164.98L143.69 168.63M144.05 136.34L144.05 133.05M144.05 165.07L144.05 167.72M144.47 136.32L144.47 133.68M144.47 165.14L144.47 169.44M144.73 136.31L144.73 125.01M144.73 165.17L144.73 172.97M145.12 136.3L145.12 134.03M145.12 165.2L145.12 167.82M145.47 136.3L145.47 134.36M145.47 165.2L145.47 169.78M145.75 136.31L145.75 131.09M145.75 165.18L145.75 169.87M146.03 136.32L146.03 129.46M146.03 165.15L146.03 171.13M146.48 136.34L146.48 133.83M146.48 165.08L146.48 168.69M146.85 136.37L146.85 131M146.85 165L146.85 165.86M147.08 136.39L147.08 133.21M147.08 164.93L147.08 166.18M147.43 136.43L147.43 134.34M147.43 164.82L147.43 166.38M147.84 136.48L147.84 134.78M147.84 164.66L147.84 166.96M148.2 136.53L148.2 134.38M148.2 164.5L148.2 169.72M148.45 136.58L148.45 133.52M148.45 164.37L148.45 165.6M148.8 136.64L148.8 135.32M148.8 164.18L148.8 168.56M149.04 136.69L149.04 135.81M149.04 164.03L149.04 167.49M149.59 136.81L149.59 133.16M149.59 163.66L149.59 169.76M149.85 136.88L149.85 132.15M149.85 163.47L149.85 165.29M150.13 136.95L150.13 128.8M150.13 163.25L150.13 170.49M150.58 137.08L150.58 132.27M150.58 162.87L150.58 167.23M150.91 137.18L150.91 136.28M150.91 162.57L150.91 163.43M151.06 137.22L151.06 136.39M151.06 162.43L151.06 167.59M152.01 65.85L152.01 62.44M152.01 97.11L152.01 98.32M152.13 65.65L152.13 63.53M152.13 97.07L152.13 104.37M152.65 64.81L152.65 62.98M152.65 96.9L152.65 101.75M152.88 64.47L152.88 59.91M152.88 96.83L152.88 97.8M153.13 64.12L153.13 62.96M153.13 96.76L153.13 98.58M153.7 63.4L153.7 56.43M153.7 96.62L153.7 101.13M153.81 63.27L153.81 62.23M153.81 96.59L153.81 100.86M154.3 62.75L154.3 60.41M154.3 96.49L154.3 100.02M154.54 62.53L154.54 58.98M154.54 96.45L154.54 98.32M154.86 62.25L154.86 58.46M154.86 96.39L154.86 103.08M155.34 61.91L155.34 61M155.34 96.32L155.34 98.25M155.47 61.83L155.47 59.82M155.47 96.31L155.47 100.69M155.88 61.62L155.88 56.8M155.88 96.26L155.88 97.55M156.3 61.45L156.3 56.28M156.3 96.23L156.3 103.53M156.69 61.36L156.69 60.5M156.69 96.21L156.69 103.51M156.88 61.32L156.88 59.07M156.88 96.2L156.88 101.18M157.34 61.3L157.34 58.94M157.34 96.2L157.34 97.03M157.54 61.31L157.54 59.49M157.54 96.2L157.54 100.98M157.83 61.35L157.83 56.2M157.83 96.21L157.83 103.05M158.15 61.43L158.15 60.19M158.15 96.23L158.15 99.36M158.59 61.59L158.59 57.74M158.59 96.26L158.59 97.57M158.96 61.77L158.96 55.23M158.96 96.29L158.96 103.59M159.13 61.88L159.13 58.11M159.13 96.32L159.13 102.47M159.48 62.11L159.48 60.1M159.48 96.36L159.48 100.2M160.05 62.58L160.05 61.38M160.05 96.46L160.05 97.43M160.36 62.89L160.36 57.64M160.36 96.52L160.36 97.83M160.56 63.09L160.56 60.62M160.56 96.56L160.56 103.24M160.94 63.53L160.94 61.1M160.94 96.65L160.94 100.71M161.13 63.77L161.13 55.47M161.13 96.69L161.13 98.99M161.56 64.36L161.56 62.71M161.56 96.81L161.56 100.18M161.8 64.71L161.8 61.85M161.8 96.88L161.8 99.52M162.31 65.5L162.31 63.6M162.31 97.04L162.31 97.92M162.51 65.86L162.51 59.69M162.51 97.11L162.51 99.91M164.35 137.24L164.35 135.58M164.35 162.38L164.35 165.06M164.59 137.16L164.59 135.91M164.59 162.61L164.59 165.5M164.88 137.07L164.88 132.96M164.88 162.88L164.88 170.68M165.27 136.96L165.27 133.76M165.27 163.21L165.27 165.47M165.66 136.86L165.66 134.05M165.66 163.51L165.66 166.31M166.01 136.78L166.01 133.04M166.01 163.76L166.01 166.43M166.42 136.69L166.42 129.21M166.42 164.03L166.42 167.54M166.62 136.65L166.62 132.56M166.62 164.15L166.62 165.51M167.11 136.56L167.11 135.71M167.11 164.42L167.11 166.96M167.27 136.53L167.27 135.3M167.27 164.5L167.27 170.99M167.74 136.46L167.74 135.28M167.74 164.71L167.74 169.14M167.89 136.44L167.89 134.62M167.89 164.77L167.89 172.57M168.27 136.4L168.27 133.28M168.27 164.9L168.27 165.76M168.56 136.37L168.56 135.3M168.56 164.98L168.56 168.63M168.92 136.34L168.92 133.05M168.92 165.07L168.92 167.72M169.34 136.32L169.34 133.68M169.34 165.14L169.34 169.44M169.6 136.31L169.6 125.01M169.6 165.17L169.6 172.97M169.99 136.3L169.99 134.03M169.99 165.2L169.99 167.82M170.34 136.3L170.34 134.36M170.34 165.2L170.34 169.78M170.62 136.31L170.62 131.09M170.62 165.18L170.62 169.87M170.9 136.32L170.9 129.46M170.9 165.15L170.9 171.13M171.35 136.34L171.35 133.83M171.35 165.08L171.35 168.69M171.72 136.37L171.72 131M171.72 165L171.72 165.86M171.95 136.39L171.95 133.21M171.95 164.93L171.95 166.18M172.3 136.43L172.3 134.34M172.3 164.82L172.3 166.38M172.71 136.48L172.71 134.78M172.71 164.66L172.71 166.96M173.07 136.53L173.07 134.38M173.07 164.5L173.07 169.72M173.32 136.58L173.32 133.52M173.32 164.37L173.32 165.6M173.67 136.64L173.67 135.32M173.67 164.18L173.67 168.56M173.91 136.69L173.91 135.81M173.91 164.03L173.91 167.49M174.46 136.81L174.46 133.16M174.46 163.66L174.46 169.76M174.72 136.88L174.72 132.15M174.72 163.47L174.72 165.29M175 136.95L175 128.8M175 163.25L175 170.49M175.45 137.08L175.45 132.27M175.45 162.87L175.45 167.23M175.78 137.18L175.78 136.28M175.78 162.57L175.78 163.43M175.93 137.22L175.93 136.39M175.93 162.43L175.93 167.59M176.88 65.85L176.88 62.44M176.88 97.11L176.88 98.32M177 65.65L177 63.53M177 97.07L177 104.37M177.52 64.81L177.52 62.98M177.52 96.9L177.52 101.75M177.75 64.47L177.75 59.91M177.75 96.83L177.75 97.8M178 64.12L178 62.96M178 96.76L178 98.58M178.57 63.4L178.57 56.43M178.57 96.62L178.57 101.13M178.68 63.27L178.68 62.23M178.68 96.59L178.68 100.86M179.17 62.75L179.17 60.41M179.17 96.49L179.17 100.02M179.41 62.53L179.41 58.98M179.41 96.45L179.41 98.32M179.73 62.25L179.73 58.46M179.73 96.39L179.73 103.08M180.21 61.91L180.21 61M180.21 96.32L180.21 98.25M180.34 61.83L180.34 59.82M180.34 96.31L180.34 100.69M180.75 61.62L180.75 56.8M180.75 96.26L180.75 97.55M181.17 61.45L181.17 56.28M181.17 96.23L181.17 103.53M181.56 61.36L181.56 60.5M181.56 96.21L181.56 103.51M181.75 61.32L181.75 59.07M181.75 96.2L181.75 101.18M182.21 61.3L182.21 58.94M182.21 96.2L182.21 97.03M182.41 61.31L182.41 59.49M182.41 96.2L182.41 100.98M182.7 61.35L182.7 56.2M182.7 96.21L182.7 103.05M183.02 61.43L183.02 60.19M183.02 96.23L183.02 99.36M183.46 61.59L183.46 57.74M183.46 96.26L183.46 97.57M183.83 61.77L183.83 55.23M183.83 96.29L183.83 103.59M184 61.88L184 58.11M184 96.32L184 102.47M184.35 62.11L184.35 60.1M184.35 96.36L184.35 100.2M184.92 62.58L184.92 61.38M184.92 96.46L184.92 97.43M185.23 62.89L185.23 57.64M185.23 96.52L185.23 97.83M185.43 63.09L185.43 60.62M185.43 96.56L185.43 103.24M185.81 63.53L185.81 61.1M185.81 96.65L185.81 100.71M186 63.77L186 55.47M186 96.69L186 98.99M186.43 64.36L186.43 62.71M186.43 96.81L186.43 100.18M186.67 64.71L186.67 61.85M186.67 96.88L186.67 99.52M187.18 65.5L187.18 63.6M187.18 97.04L187.18 97.92M187.38 65.86L187.38 59.69M187.38 97.11L187.38 99.91M189.22 137.24L189.22 135.58M189.22 162.38L189.22 165.06M189.46 137.16L189.46 135.91M189.46 162.61L189.46 165.5M189.75 137.07L189.75 132.96M189.75 162.88L189.75 170.68M190.14 136.96L190.14 133.76M190.14 163.21L190.14 165.47M190.53 136.86L190.53 134.05M190.53 163.51L190.53 166.31M190.88 136.78L190.88 133.04M190.88 163.76L190.88 166.43M191.29 136.69L191.29 129.21M191.29 164.03L191.29 167.54M191.49 136.65L191.49 132.56M191.49 164.15L191.49 165.51M191.98 136.56L191.98 135.71M191.98 164.42L191.98 166.96M192.14 136.53L192.14 135.3M192.14 164.5L192.14 170.99M192.61 136.46L192.61 135.28M192.61 164.71L192.61 169.14M192.76 136.44L192.76 134.62M192.76 164.77L192.76 172.57M193.14 136.4L193.14 133.28M193.14 164.9L193.14 165.76M193.43 136.37L193.43 135.3M193.43 164.98L193.43 168.63M193.79 136.34L193.79 133.05M193.79 165.07L193.79 167.72M194.21 136.32L194.21 133.68M194.21 165.14L194.21 169.44M194.47 136.31L194.47 125.01M194.47 165.17L194.47 172.97M194.86 136.3L194.86 134.03M194.86 165.2L194.86 167.82M195.21 136.3L195.21 134.36M195.21 165.2L195.21 169.78M195.49 136.31L195.49 131.09M195.49 165.18L195.49 169.87M195.77 136.32L195.77 129.46M195.77 165.15L195.77 171.13M196.22 136.34L196.22 133.83M196.22 165.08L196.22 168.69M196.59 136.37L196.59 131M196.59 165L196.59 165.86M196.82 136.39L196.82 133.21M196.82 164.93L196.82 166.18M197.17 136.43L197.17 134.34M197.17 164.82L197.17 166.38M197.58 136.48L197.58 134.78M197.58 164.66L197.58 166.96M197.94 136.53L197.94 134.38M197.94 164.5L197.94 169.72M198.19 136.58L198.19 133.52M198.19 164.37L198.19 165.6M198.54 136.64L198.54 135.32M198.54 164.18L198.54 168.56M198.78 136.69L198.78 135.81M198.78 164.03L198.78 167.49M199.33 136.81L199.33 133.16M199.33 163.66L199.33 169.76M199.59 136.88L199.59 132.15M199.59 163.47L199.59 165.29M199.87 136.95L199.87 128.8M199.87 163.25L199.87 170.49M200.32 137.08L200.32 132.27M200.32 162.87L200.32 167.23M200.65 137.18L200.65 136.28M200.65 162.57L200.65 163.43M200.8 137.22L200.8 136.39M200.8 162.43L200.8 167.59M201.75 65.85L201.75 62.44M201.75 97.11L201.75 98.32M201.87 65.65L201.87 63.53M201.87 97.07L201.87 104.37M202.39 64.81L202.39 62.98M202.39 96.9L202.39 101.75M202.62 64.47L202.62 59.91M202.62 96.83L202.62 97.8M202.87 64.12L202.87 62.96M202.87 96.76L202.87 98.58M203.44 63.4L203.44 56.43M203.44 96.62L203.44 101.13M203.55 63.27L203.55 62.23M203.55 96.59L203.55 100.86M204.04 62.75L204.04 60.41M204.04 96.49L204.04 100.02M204.28 62.53L204.28 58.98M204.28 96.45L204.28 98.32M204.6 62.25L204.6 58.46M204.6 96.39L204.6 103.08M205.08 61.91L205.08 61M205.08 96.32L205.08 98.25M205.21 61.83L205.21 59.82M205.21 96.31L205.21 100.69M205.62 61.62L205.62 56.8M205.62 96.26L205.62 97.55M206.04 61.45L206.04 56.28M206.04 96.23L206.04 103.53M206.43 61.36L206.43 60.5M206.43 96.21L206.43 103.51M206.62 61.32L206.62 59.07M206.62 96.2L206.62 101.18M207.08 61.3L207.08 58.94M207.08 96.2L207.08 97.03M207.28 61.31L207.28 59.49M207.28 96.2L207.28 100.98M207.57 61.35L207.57 56.2M207.57 96.21L207.57 103.05M207.89 61.43L207.89 60.19M207.89 96.23L207.89 99.36M208.33 61.59L208.33 57.74M208.33 96.26L208.33 97.57M208.7 61.77L208.7 55.23M208.7 96.29L208.7 103.59M208.87 61.88L208.87 58.11M208.87 96.32L208.87 102.47M209.22 62.11L209.22 60.1M209.22 96.36L209.22 100.2M209.79 62.58L209.79 61.38M209.79 96.46L209.79 97.43M210.1 62.89L210.1 57.64M210.1 96.52L210.1 97.83M210.3 63.09L210.3 60.62M210.3 96.56L210.3 103.24M210.68 63.53L210.68 61.1M210.68 96.65L210.68 100.71M210.87 63.77L210.87 55.47M210.87 96.69L210.87 98.99M211.3 64.36L211.3 62.71M211.3 96.81L211.3 100.18M211.54 64.71L211.54 61.85M211.54 96.88L211.54 99.52M212.05 65.5L212.05 63.6M212.05 97.04L212.05 97.92M212.25 65.86L212.25 59.69M212.25 97.11L212.25 99.91M214.09 137.24L214.09 135.58M214.09 162.38L214.09 165.06M214.33 137.16L214.33 135.91M214.33 162.61L214.33 165.5M214.62 137.07L214.62 132.96M214.62 162.88L214.62 170.68M215.01 136.96L215.01 133.76M215.01 163.21L215.01 165.47M215.4 136.86L215.4 134.05M215.4 163.51L215.4 166.31M215.75 136.78L215.75 133.04M215.75 163.76L215.75 166.43M216.16 136.69L216.16 129.21M216.16 164.03L216.16 167.54M216.36 136.65L216.36 132.56M216.36 164.15L216.36 165.51M216.85 136.56L216.85 135.71M216.85 164.42L216.85 166.96M217.01 136.53L217.01 135.3M217.01 164.5L217.01 170.99M217.48 136.46L217.48 135.28M217.48 164.71L217.48 169.14M217.63 136.44L217.63 134.62M217.63 164.77L217.63 172.57M218.01 136.4L218.01 133.28M218.01 164.9L218.01 165.76M218.3 136.37L218.3 135.3M218.3 164.98L218.3 168.63M218.66 136.34L218.66 133.05M218.66 165.07L218.66 167.72M219.08 136.32L219.08 133.68M219.08 165.14L219.08 169.44M219.34 136.31L219.34 125.01M219.34 165.17L219.34 172.97M219.73 136.3L219.73 134.03M219.73 165.2L219.73 167.82M220.08 136.3L220.08 134.36M220.08 165.2L220.08 169.78M220.36 136.31L220.36 131.09M220.36 165.18L220.36 169.87M220.64 136.32L220.64 129.46M220.64 165.15L220.64 171.13M221.09 136.34L221.09 133.83M221.09 165.08L221.09 168.69M221.46 136.37L221.46 131M221.46 165L221.46 165.86M221.69 136.39L221.69 133.21M221.69 164.93L221.69 166.18M222.04 136.43L222.04 134.34M222.04 164.82L222.04 166.38M222.45 136.48L222.45 134.78M222.45 164.66L222.45 166.96M222.81 136.53L222.81 134.38M222.81 164.5L222.81 169.72M223.06 136.58L223.06 133.52M223.06 164.37L223.06 165.6M223.41 136.64L223.41 135.32M223.41 164.18L223.41 168.56M223.65 136.69L223.65 135.81M223.65 164.03L223.65 167.49M224.2 136.81L224.2 133.16M224.2 163.66L224.2 169.76M224.46 136.88L224.46 132.15M224.46 163.47L224.46 165.29M224.74 136.95L224.74 128.8M224.74 163.25L224.74 170.49M225.19 137.08L225.19 132.27M225.19 162.87L225.19 167.23M225.52 137.18L225.52 136.28M225.52 162.57L225.52 163.43M225.67 137.22L225.67 136.39M225.67 162.43L225.67 167.59M226.62 65.85L226.62 62.44M226.62 97.11L226.62 98.32M226.74 65.65L226.74 63.53M226.74 97.07L226.74 104.37M227.26 64.81L227.26 62.98M227.26 96.9L227.26 101.75M227.49 64.47L227.49 59.91M227.49 96.83L227.49 97.8M227.74 64.12L227.74 62.96M227.74 96.76L227.74 98.58M228.31 63.4L228.31 56.43M228.31 96.62L228.31 101.13M228.42 63.27L228.42 62.23M228.42 96.59L228.42 100.86M228.91 62.75L228.91 60.41M228.91 96.49L228.91 100.02M229.15 62.53L229.15 58.98M229.15 96.45L229.15 98.32M229.47 62.25L229.47 58.46M229.47 96.39L229.47 103.08M229.95 61.91L229.95 61M229.95 96.32L229.95 98.25M230.08 61.83L230.08 59.82M230.08 96.31L230.08 100.69M230.49 61.62L230.49 56.8M230.49 96.26L230.49 97.55M230.91 61.45L230.91 56.28M230.91 96.23L230.91 103.53M231.3 61.36L231.3 60.5M231.3 96.21L231.3 103.51M231.49 61.32L231.49 59.07M231.49 96.2L231.49 101.18M231.95 61.3L231.95 58.94M231.95 96.2L231.95 97.03M232.15 61.31L232.15 59.49M232.15 96.2L232.15 100.98M232.44 61.35L232.44 56.2M232.44 96.21L232.44 103.05M232.76 61.43L232.76 60.19M232.76 96.23L232.76 99.36M233.2 61.59L233.2 57.74M233.2 96.26L233.2 97.57M233.57 61.77L233.57 55.23M233.57 96.29L233.57 103.59M233.74 61.88L233.74 58.11M233.74 96.32L233.74 102.47M234.09 62.11L234.09 60.1M234.09 96.36L234.09 100.2M234.66 62.58L234.66 61.38M234.66 96.46L234.66 97.43M234.97 62.89L234.97 57.64M234.97 96.52L234.97 97.83M235.17 63.09L235.17 60.62M235.17 96.56L235.17 103.24M235.55 63.53L235.55 61.1M235.55 96.65L235.55 100.71M235.74 63.77L235.74 55.47M235.74 96.69L235.74 98.99M236.17 64.36L236.17 62.71M236.17 96.81L236.17 100.18M236.41 64.71L236.41 61.85M236.41 96.88L236.41 99.52M236.92 65.5L236.92 63.6M236.92 97.04L236.92 97.92M237.12 65.86L237.12 59.69M237.12 97.11L237.12 99.91M238.96 137.24L238.96 135.58M238.96 162.38L238.96 165.06M239.2 137.16L239.2 135.91M239.2 162.61L239.2 165.5M239.49 137.07L239.49 132.96M239.49 162.88L239.49 170.68M239.88 136.96L239.88 133.76M239.88 163.21L239.88 165.47M240.27 136.86L240.27 134.05M240.27 163.51L240.27 166.31M240.62 136.78L240.62 133.04M240.62 163.76L240.62 166.43M241.03 136.69L241.03 129.21M241.03 164.03L241.03 167.54M241.23 136.65L241.23 132.56M241.23 164.15L241.23 165.51M241.72 136.56L241.72 135.71M241.72 164.42L241.72 166.96M241.88 136.53L241.88 135.3M241.88 164.5L241.88 170.99M242.35 136.46L242.35 135.28M242.35 164.71L242.35 169.14M242.5 136.44L242.5 134.62M242.5 164.77L242.5 172.57M242.88 136.4L242.88 133.28M242.88 164.9L242.88 165.76M243.17 136.37L243.17 135.3M243.17 164.98L243.17 168.63M243.53 136.34L243.53 133.05M243.53 165.07L243.53 167.72M243.95 136.32L243.95 133.68M243.95 165.14L243.95 169.44M244.21 136.31L244.21 125.01M244.21 165.17L244.21 172.97M244.6 136.3L244.6 134.03M244.6 165.2L244.6 167.82M244.95 136.3L244.95 134.36M244.95 165.2L244.95 169.78M245.23 136.31L245.23 131.09M245.23 165.18L245.23 169.87M245.51 136.32L245.51 129.46M245.51 165.15L245.51 171.13M245.96 136.34L245.96 133.83M245.96 165.08L245.96 168.69M246.33 136.37L246.33 131M246.33 165L246.33 165.86M246.56 136.39L246.56 133.21M246.56 164.93L246.56 166.18M246.91 136.43L246.91 134.34M246.91 164.82L246.91 166.38M247.32 136.48L247.32 134.78M247.32 164.66L247.32 166.96M247.68 136.53L247.68 134.38M247.68 164.5L247.68 169.72M247.93 136.58L247.93 133.52M247.93 164.37L247.93 165.6M248.28 136.64L248.28 135.32M248.28 164.18L248.28 168.56M248.52 136.69L248.52 135.81M248.52 164.03L248.52 167.49M249.07 136.81L249.07 133.16M249.07 163.66L249.07 169.76M249.33 136.88L249.33 132.15M249.33 163.47L249.33 165.29M249.61 136.95L249.61 128.8M249.61 163.25L249.61 170.49M250.06 137.08L250.06 132.27M250.06 162.87L250.06 167.23M250.39 137.18L250.39 136.28M250.39 162.57L250.39 163.43M250.54 137.22L250.54 136.39M250.54 162.43L250.54 167.59M251.49 65.85L251.49 62.44M251.49 97.11L251.49 98.32M251.61 65.65L251.61 63.53M251.61 97.07L251.61 104.37M252.13 64.81L252.13 62.98M252.13 96.9L252.13 101.75M252.36 64.47L252.36 59.91M252.36 96.83L252.36 97.8M252.61 64.12L252.61 62.96M252.61 96.76L252.61 98.58M253.18 63.4L253.18 56.43M253.18 96.62L253.18 101.13M253.29 63.27L253.29 62.23M253.29 96.59L253.29 100.86M253.78 62.75L253.78 60.41M253.78 96.49L253.78 100.02M254.02 62.53L254.02 58.98M254.02 96.45L254.02 98.32M254.34 62.25L254.34 58.46M254.34 96.39L254.34 103.08M254.82 61.91L254.82 61M254.82 96.32L254.82 98.25M254.95 61.83L254.95 59.82M254.95 96.31L254.95 100.69M255.36 61.62L255.36 56.8M255.36 96.26L255.36 97.55M255.78 61.45L255.78 56.28M255.78 96.23L255.78 103.53M256.17 61.36L256.17 60.5M256.17 96.21L256.17 103.51M256.36 61.32L256.36 59.07M256.36 96.2L256.36 101.18M256.82 61.3L256.82 58.94M256.82 96.2L256.82 97.03M257.02 61.31L257.02 59.49M257.02 96.2L257.02 100.98M257.31 61.35L257.31 56.2M257.31 96.21L257.31 103.05M257.63 61.43L257.63 60.19M257.63 96.23L257.63 99.36M258.07 61.59L258.07 57.74M258.07 96.26L258.07 97.57M258.44 61.77L258.44 55.23M258.44 96.29L258.44 103.59M258.61 61.88L258.61 58.11M258.61 96.32L258.61 102.47M258.96 62.11L258.96 60.1M258.96 96.36L258.96 100.2M259.53 62.58L259.53 61.38M259.53 96.46L259.53 97.43M259.84 62.89L259.84 57.64M259.84 96.52L259.84 97.83M260.04 63.09L260.04 60.62M260.04 96.56L260.04 103.24M260.42 63.53L260.42 61.1M260.42 96.65L260.42 100.71M260.61 63.77L260.61 55.47M260.61 96.69L260.61 98.99M261.04 64.36L261.04 62.71M261.04 96.81L261.04 100.18M261.28 64.71L261.28 61.85M261.28 96.88L261.28 99.52M261.79 65.5L261.79 63.6M261.79 97.04L261.79 97.92M261.99 65.86L261.99 59.69M261.99 97.11L261.99 99.91M263.83 137.24L263.83 135.58M263.83 162.38L263.83 165.06M264.07 137.16L264.07 135.91M264.07 162.61L264.07 165.5M264.36 137.07L264.36 132.96M264.36 162.88L264.36 170.68M264.75 136.96L264.75 133.76M264.75 163.21L264.75 165.47M265.14 136.86L265.14 134.05M265.14 163.51L265.14 166.31M265.49 136.78L265.49 133.04M265.49 163.76L265.49 166.43M265.9 136.69L265.9 129.21M265.9 164.03L265.9 167.54M266.1 136.65L266.1 132.56M266.1 164.15L266.1 165.51M266.59 136.56L266.59 135.71M266.59 164.42L266.59 166.96M266.75 136.53L266.75 135.3M266.75 164.5L266.75 170.99M267.22 136.46L267.22 135.28M267.22 164.71L267.22 169.14M267.37 136.44L267.37 134.62M267.37 164.77L267.37 172.57M267.75 136.4L267.75 133.28M267.75 164.9L267.75 165.76M268.04 136.37L268.04 135.3M268.04 164.98L268.04 168.63M268.4 136.34L268.4 133.05M268.4 165.07L268.4 167.72M268.82 136.32L268.82 133.68M268.82 165.14L268.82 169.44M269.08 136.31L269.08 125.01M269.08 165.17L269.08 172.97M269.47 136.3L269.47 134.03M269.47 165.2L269.47 167.82M269.82 136.3L269.82 134.36M269.82 165.2L269.82 169.78M270.1 136.31L270.1 131.09M270.1 165.18L270.1 169.87M270.38 136.32L270.38 129.46M270.38 165.15L270.38 171.13M270.83 136.34L270.83 133.83M270.83 165.08L270.83 168.69M271.2 136.37L271.2 131M271.2 165L271.2 165.86M271.43 136.39L271.43 133.21M271.43 164.93L271.43 166.18M271.78 136.43L271.78 134.34M271.78 164.82L271.78 166.38M272.19 136.48L272.19 134.78M272.19 164.66L272.19 166.96M272.55 136.53L272.55 134.38M272.55 164.5L272.55 169.72M272.8 136.58L272.8 133.52M272.8 164.37L272.8 165.6M273.15 136.64L273.15 135.32M273.15 164.18L273.15 168.56M273.39 136.69L273.39 135.81M273.39 164.03L273.39 167.49M273.94 136.81L273.94 133.16M273.94 163.66L273.94 169.76M274.2 136.88L274.2 132.15M274.2 163.47L274.2 165.29M274.48 136.95L274.48 128.8M274.48 163.25L274.48 170.49M274.93 137.08L274.93 132.27M274.93 162.87L274.93 167.23M275.26 137.18L275.26 136.28M275.26 162.57L275.26 163.43M275.41 137.22L275.41 136.39M275.41 162.43L275.41 167.59M276.36 65.85L276.36 62.44M276.36 97.11L276.36 98.32M276.48 65.65L276.48 63.53M276.48 97.07L276.48 104.37M277 64.81L277 62.98M277 96.9L277 101.75M277.23 64.47L277.23 59.91M277.23 96.83L277.23 97.8M277.48 64.12L277.48 62.96M277.48 96.76L277.48 98.58M278.05 63.4L278.05 56.43M278.05 96.62L278.05 101.13M278.16 63.27L278.16 62.23M278.16 96.59L278.16 100.86M278.65 62.75L278.65 60.41M278.65 96.49L278.65 100.02M278.89 62.53L278.89 58.98M278.89 96.45L278.89 98.32M279.21 62.25L279.21 58.46M279.21 96.39L279.21 103.08M279.69 61.91L279.69 61M279.69 96.32L279.69 98.25M279.82 61.83L279.82 59.82M279.82 96.31L279.82 100.69M280.23 61.62L280.23 56.8M280.23 96.26L280.23 97.55M280.65 61.45L280.65 56.28M280.65 96.23L280.65 103.53M281.04 61.36L281.04 60.5M281.04 96.21L281.04 103.51M281.23 61.32L281.23 59.07M281.23 96.2L281.23 101.18M281.69 61.3L281.69 58.94M281.69 96.2L281.69 97.03M281.89 61.31L281.89 59.49M281.89 96.2L281.89 100.98M282.18 61.35L282.18 56.2M282.18 96.21L282.18 103.05M282.5 61.43L282.5 60.19M282.5 96.23L282.5 99.36M282.94 61.59L282.94 57.74M282.94 96.26L282.94 97.57M283.31 61.77L283.31 55.23M283.31 96.29L283.31 103.59M283.48 61.88L283.48 58.11M283.48 96.32L283.48 102.47M283.83 62.11L283.83 60.1M283.83 96.36L283.83 100.2M284.4 62.58L284.4 61.38M284.4 96.46L284.4 97.43M284.71 62.89L284.71 57.64M284.71 96.52L284.71 97.83M284.91 63.09L284.91 60.62M284.91 96.56L284.91 103.24M285.29 63.53L285.29 61.1M285.29 96.65L285.29 100.71M285.48 63.77L285.48 55.47M285.48 96.69L285.48 98.99M285.91 64.36L285.91 62.71M285.91 96.81L285.91 100.18M286.15 64.71L286.15 61.85M286.15 96.88L286.15 99.52M286.66 65.5L286.66 63.6M286.66 97.04L286.66 97.92M286.86 65.86L286.86 59.69M286.86 97.11L286.86 99.91M288.7 137.24L288.7 135.58M288.7 162.38L288.7 165.06M288.94 137.16L288.94 135.91M288.94 162.61L288.94 165.5M289.23 137.07L289.23 132.96M289.23 162.88L289.23 170.68M289.62 136.96L289.62 133.76M289.62 163.21L289.62 165.47M290.01 136.86L290.01 134.05M290.01 163.51L290.01 166.31M290.36 136.78L290.36 133.04M290.36 163.76L290.36 166.43M290.77 136.69L290.77 129.21M290.77 164.03L290.77 167.54M290.97 136.65L290.97 132.56M290.97 164.15L290.97 165.51M291.46 136.56L291.46 135.71M291.46 164.42L291.46 166.96M291.62 136.53L291.62 135.3M291.62 164.5L291.62 170.99M292.09 136.46L292.09 135.28M292.09 164.71L292.09 169.14M292.24 136.44L292.24 134.62M292.24 164.77L292.24 172.57M292.62 136.4L292.62 133.28M292.62 164.9L292.62 165.76M292.91 136.37L292.91 135.3M292.91 164.98L292.91 168.63M293.27 136.34L293.27 133.05M293.27 165.07L293.27 167.72M293.69 136.32L293.69 133.68M293.69 165.14L293.69 169.44M293.95 136.31L293.95 125.01M293.95 165.17L293.95 172.97M294.34 136.3L294.34 134.03M294.34 165.2L294.34 167.82M294.69 136.3L294.69 134.36M294.69 165.2L294.69 169.78M294.97 136.31L294.97 131.09M294.97 165.18L294.97 169.87M295.25 136.32L295.25 129.46M295.25 165.15L295.25 171.13M295.7 136.34L295.7 133.83M295.7 165.08L295.7 168.69M296.07 136.37L296.07 131M296.07 165L296.07 165.86M296.3 136.39L296.3 133.21M296.3 164.93L296.3 166.18M296.65 136.43L296.65 134.34M296.65 164.82L296.65 166.38M297.06 136.48L297.06 134.78M297.06 164.66L297.06 166.96M297.42 136.53L297.42 134.38M297.42 164.5L297.42 169.72M297.67 136.58L297.67 133.52M297.67 164.37L297.67 165.6M298.02 136.64L298.02 135.32M298.02 164.18L298.02 168.56M298.26 136.69L298.26 135.81M298.26 164.03L298.26 167.49M298.81 136.81L298.81 133.16M298.81 163.66L298.81 169.76M299.07 136.88L299.07 132.15M299.07 163.47L299.07 165.29M299.35 136.95L299.35 128.8M299.35 163.25L299.35 170.49M299.8 137.08L299.8 132.27M299.8 162.87L299.8 167.23M300.13 137.18L300.13 136.28M300.13 162.57L300.13 163.43M300.28 137.22L300.28 136.39M300.28 162.43L300.28 167.59M301.23 65.85L301.23 62.44M301.23 97.11L301.23 98.32M301.35 65.65L301.35 63.53M301.35 97.07L301.35 104.37M301.87 64.81L301.87 62.98M301.87 96.9L301.87 101.75M302.1 64.47L302.1 59.91M302.1 96.83L302.1 97.8M302.35 64.12L302.35 62.96M302.35 96.76L302.35 98.58M302.92 63.4L302.92 56.43M302.92 96.62L302.92 101.13M303.03 63.27L303.03 62.23M303.03 96.59L303.03 100.86M303.52 62.75L303.52 60.41M303.52 96.49L303.52 100.02M303.76 62.53L303.76 58.98M303.76 96.45L303.76 98.32M304.08 62.25L304.08 58.46M304.08 96.39L304.08 103.08M304.56 61.91L304.56 61M304.56 96.32L304.56 98.25M304.69 61.83L304.69 59.82M304.69 96.31L304.69 100.69M305.1 61.62L305.1 56.8M305.1 96.26L305.1 97.55M305.52 61.45L305.52 56.28M305.52 96.23L305.52 103.53M305.91 61.36L305.91 60.5M305.91 96.21L305.91 103.51M306.1 61.32L306.1 59.07M306.1 96.2L306.1 101.18M306.56 61.3L306.56 58.94M306.56 96.2L306.56 97.03M306.76 61.31L306.76 59.49M306.76 96.2L306.76 100.98M307.05 61.35L307.05 56.2M307.05 96.21L307.05 103.05M307.37 61.43L307.37 60.19M307.37 96.23L307.37 99.36M307.81 61.59L307.81 57.74M307.81 96.26L307.81 97.57M308.18 61.77L308.18 55.23M308.18 96.29L308.18 103.59M308.35 61.88L308.35 58.11M308.35 96.32L308.35 102.47M308.7 62.11L308.7 60.1M308.7 96.36L308.7 100.2M309.27 62.58L309.27 61.38M309.27 96.46L309.27 97.43M309.58 62.89L309.58 57.64M309.58 96.52L309.58 97.83M309.78 63.09L309.78 60.62M309.78 96.56L309.78 103.24M310.16 63.53L310.16 61.1M310.16 96.65L310.16 100.71M310.35 63.77L310.35 55.47M310.35 96.69L310.35 98.99M310.78 64.36L310.78 62.71M310.78 96.81L310.78 100.18M311.02 64.71L311.02 61.85M311.02 96.88L311.02 99.52M311.53 65.5L311.53 63.6M311.53 97.04L311.53 97.92M311.73 65.86L311.73 59.69M311.73 97.11L311.73 99.91M313.57 137.24L313.57 135.58M313.57 162.38L313.57 165.06M313.81 137.16L313.81 135.91M313.81 162.61L313.81 165.5M314.1 137.07L314.1 132.96M314.1 162.88L314.1 170.68M314.49 136.96L314.49 133.76M314.49 163.21L314.49 165.47M314.88 136.86L314.88 134.05M314.88 163.51L314.88 166.31M315.23 136.78L315.23 133.04M315.23 163.76L315.23 166.43M315.64 136.69L315.64 129.21M315.64 164.03L315.64 167.54M315.84 136.65L315.84 132.56M315.84 164.15L315.84 165.51M316.33 136.56L316.33 135.71M316.33 164.42L316.33 166.96M316.49 136.53L316.49 135.3M316.49 164.5L316.49 170.99M316.96 136.46L316.96 135.28M316.96 164.71L316.96 169.14M317.11 136.44L317.11 134.62M317.11 164.77L317.11 172.57M317.49 136.4L317.49 133.28M317.49 164.9L317.49 165.76M317.78 136.37L317.78 135.3M317.78 164.98L317.78 168.63M318.14 136.34L318.14 133.05M318.14 165.07L318.14 167.72M318.56 136.32L318.56 133.68M318.56 165.14L318.56 169.44M318.82 136.31L318.82 125.01M318.82 165.17L318.82 172.97M319.21 136.3L319.21 134.03M319.21 165.2L319.21 167.82M319.56 136.3L319.56 134.36M319.56 165.2L319.56 169.78M319.84 136.31L319.84 131.09M319.84 165.18L319.84 169.87M320.12 136.32L320.12 129.46M320.12 165.15L320.12 171.13M320.57 136.34L320.57 133.83M320.57 165.08L320.57 168.69M320.94 136.37L320.94 131M320.94 165L320.94 165.86M321.17 136.39L321.17 133.21M321.17 164.93L321.17 166.18M321.52 136.43L321.52 134.34M321.52 164.82L321.52 166.38M321.93 136.48L321.93 134.78M321.93 164.66L321.93 166.96M322.29 136.53L322.29 134.38M322.29 164.5L322.29 169.72M322.54 136.58L322.54 133.52M322.54 164.37L322.54 165.6M322.89 136.64L322.89 135.32M322.89 164.18L322.89 168.56M323.13 136.69L323.13 135.81M323.13 164.03L323.13 167.49M323.68 136.81L323.68 133.16M323.68 163.66L323.68 169.76M323.94 136.88L323.94 132.15M323.94 163.47L323.94 165.29M324.22 136.95L324.22 128.8M324.22 163.25L324.22 170.49M324.67 137.08L324.67 132.27M324.67 162.87L324.67 167.23M325 137.18L325 136.28M325 162.57L325 163.43M325.15 137.22L325.15 136.39M325.15 162.43L325.15 167.59M326.1 65.85L326.1 62.44M326.1 97.11L326.1 98.32M326.22 65.65L326.22 63.53M326.22 97.07L326.22 104.37M326.74 64.81L326.74 62.98M326.74 96.9L326.74 101.75M326.97 64.47L326.97 59.91M326.97 96.83L326.97 97.8M327.22 64.12L327.22 62.96M327.22 96.76L327.22 98.58M327.79 63.4L327.79 56.43M327.79 96.62L327.79 101.13M327.9 63.27L327.9 62.23M327.9 96.59L327.9 100.86M328.39 62.75L328.39 60.41M328.39 96.49L328.39 100.02M328.63 62.53L328.63 58.98M328.63 96.45L328.63 98.32M328.95 62.25L328.95 58.46M328.95 96.39L328.95 103.08M329.43 61.91L329.43 61M329.43 96.32L329.43 98.25M329.56 61.83L329.56 59.82M329.56 96.31L329.56 100.69M329.97 61.62L329.97 56.8M329.97 96.26L329.97 97.55M330.39 61.45L330.39 56.28M330.39 96.23L330.39 103.53M330.78 61.36L330.78 60.5M330.78 96.21L330.78 103.51M330.97 61.32L330.97 59.07M330.97 96.2L330.97 101.18M331.43 61.3L331.43 58.94M331.43 96.2L331.43 97.03M331.63 61.31L331.63 59.49M331.63 96.2L331.63 100.98M331.92 61.35L331.92 56.2M331.92 96.21L331.92 103.05M332.24 61.43L332.24 60.19M332.24 96.23L332.24 99.36M332.68 61.59L332.68 57.74M332.68 96.26L332.68 97.57M333.05 61.77L333.05 55.23M333.05 96.29L333.05 103.59M333.22 61.88L333.22 58.11M333.22 96.32L333.22 102.47M333.57 62.11L333.57 60.1M333.57 96.36L333.57 100.2M334.14 62.58L334.14 61.38M334.14 96.46L334.14 97.43M334.45 62.89L334.45 57.64M334.45 96.52L334.45 97.83M334.65 63.09L334.65 60.62M334.65 96.56L334.65 103.24M335.03 63.53L335.03 61.1M335.03 96.65L335.03 100.71M335.22 63.77L335.22 55.47M335.22 96.69L335.22 98.99M335.65 64.36L335.65 62.71M335.65 96.81L335.65 100.18M335.89 64.71L335.89 61.85M335.89 96.88L335.89 99.52M336.4 65.5L336.4 63.6M336.4 97.04L336.4 97.92M336.6 65.86L336.6 59.69M336.6 97.11L336.6 99.91M338.44 137.24L338.44 135.58M338.44 162.38L338.44 165.06M338.68 137.16L338.68 135.91M338.68 162.61L338.68 165.5M338.97 137.07L338.97 132.96M338.97 162.88L338.97 170.68M339.36 136.96L339.36 133.76M339.36 163.21L339.36 165.47M339.75 136.86L339.75 134.05M339.75 163.51L339.75 166.31M340.1 136.78L340.1 133.04M340.1 163.76L340.1 166.43M340.51 136.69L340.51 129.21M340.51 164.03L340.51 167.54M340.71 136.65L340.71 132.56M340.71 164.15L340.71 165.51M341.2 136.56L341.2 135.71M341.2 164.42L341.2 166.96M341.36 136.53L341.36 135.3M341.36 164.5L341.36 170.99M341.83 136.46L341.83 135.28M341.83 164.71L341.83 169.14M341.98 136.44L341.98 134.62M341.98 164.77L341.98 172.57M342.36 136.4L342.36 133.28M342.36 164.9L342.36 165.76M342.65 136.37L342.65 135.3M342.65 164.98L342.65 168.63M343.01 136.34L343.01 133.05M343.01 165.07L343.01 167.72M343.43 136.32L343.43 133.68M343.43 165.14L343.43 169.44M343.69 136.31L343.69 125.01M343.69 165.17L343.69 172.97M344.08 136.3L344.08 134.03M344.08 165.2L344.08 167.82M344.43 136.3L344.43 134.36M344.43 165.2L344.43 169.78M344.71 136.31L344.71 131.09M344.71 165.18L344.71 169.87M344.99 136.32L344.99 129.46M344.99 165.15L344.99 171.13M345.44 136.34L345.44 133.83M345.44 165.08L345.44 168.69M345.81 136.37L345.81 131M345.81 165L345.81 165.86M346.04 136.39L346.04 133.21M346.04 164.93L346.04 166.18M346.39 136.43L346.39 134.34M346.39 164.82L346.39 166.38M346.8 136.48L346.8 134.78M346.8 164.66L346.8 166.96M347.16 136.53L347.16 134.38M347.16 164.5L347.16 169.72M347.41 136.58L347.41 133.52M347.41 164.37L347.41 165.6M347.76 136.64L347.76 135.32M347.76 164.18L347.76 168.56M348 136.69L348 135.81M348 164.03L348 167.49M348.55 136.81L348.55 133.16M348.55 163.66L348.55 169.76M348.81 136.88L348.81 132.15M348.81 163.47L348.81 165.29M349.09 136.95L349.09 128.8M349.09 163.25L349.09 170.49M349.54 137.08L349.54 132.27M349.54 162.87L349.54 167.23M349.87 137.18L349.87 136.28M349.87 162.57L349.87 163.43M350.02 137.22L350.02 136.39M350.02 162.43L350.02 167.59M350.97 65.85L350.97 62.44M350.97 97.11L350.97 98.32M351.09 65.65L351.09 63.53M351.09 97.07L351.09 104.37M351.61 64.81L351.61 62.98M351.61 96.9L351.61 101.75M351.84 64.47L351.84 59.91M351.84 96.83L351.84 97.8M352.09 64.12L352.09 62.96M352.09 96.76L352.09 98.58M352.66 63.4L352.66 56.43M352.66 96.62L352.66 101.13M352.77 63.27L352.77 62.23M352.77 96.59L352.77 100.86M353.26 62.75L353.26 60.41M353.26 96.49L353.26 100.02M353.5 62.53L353.5 58.98M353.5 96.45L353.5 98.32M353.82 62.25L353.82 58.46M353.82 96.39L353.82 103.08M354.3 61.91L354.3 61M354.3 96.32L354.3 98.25M354.43 61.83L354.43 59.82M354.43 96.31L354.43 100.69M354.84 61.62L354.84 56.8M354.84 96.26L354.84 97.55M355.26 61.45L355.26 56.28M355.26 96.23L355.26 103.53M355.65 61.36L355.65 60.5M355.65 96.21L355.65 103.51M355.84 61.32L355.84 59.07M355.84 96.2L355.84 101.18M356.3 61.3L356.3 58.94M356.3 96.2L356.3 97.03M356.5 61.31L356.5 59.49M356.5 96.2L356.5 100.98M356.79 61.35L356.79 56.2M356.79 96.21L356.79 103.05M357.11 61.43L357.11 60.19M357.11 96.23L357.11 99.36M357.55 61.59L357.55 57.74M357.55 96.26L357.55 97.57M357.92 61.77L357.92 55.23M357.92 96.29L357.92 103.59M358.09 61.88L358.09 58.11M358.09 96.32L358.09 102.47M358.44 62.11L358.44 60.1M358.44 96.36L358.44 100.2M359.01 62.58L359.01 61.38M359.01 96.46L359.01 97.43M359.32 62.89L359.32 57.64M359.32 96.52L359.32 97.83M359.52 63.09L359.52 60.62M359.52 96.56L359.52 103.24M359.9 63.53L359.9 61.1M359.9 96.65L359.9 100.71M360.09 63.77L360.09 55.47M360.09 96.69L360.09 98.99M360.52 64.36L360.52 62.71M360.52 96.81L360.52 100.18M360.76 64.71L360.76 61.85M360.76 96.88L360.76 99.52M361.27 65.5L361.27 63.6M361.27 97.04L361.27 97.92M361.47 65.86L361.47 59.69M361.47 97.11L361.47 99.91M363.31 137.24L363.31 135.58M363.31 162.38L363.31 165.06M363.55 137.16L363.55 135.91M363.55 162.61L363.55 165.5M363.84 137.07L363.84 132.96M363.84 162.88L363.84 170.68M364.23 136.96L364.23 133.76M364.23 163.21L364.23 165.47M364.62 136.86L364.62 134.05M364.62 163.51L364.62 166.31M364.97 136.78L364.97 133.04M364.97 163.76L364.97 166.43M365.38 136.69L365.38 129.21M365.38 164.03L365.38 167.54M365.58 136.65L365.58 132.56M365.58 164.15L365.58 165.51M366.07 136.56L366.07 135.71M366.07 164.42L366.07 166.96M366.23 136.53L366.23 135.3M366.23 164.5L366.23 170.99M366.7 136.46L366.7 135.28M366.7 164.71L366.7 169.14M366.85 136.44L366.85 134.62M366.85 164.77L366.85 172.57M367.23 136.4L367.23 133.28M367.23 164.9L367.23 165.76M367.52 136.37L367.52 135.3M367.52 164.98L367.52 168.63M367.88 136.34L367.88 133.05M367.88 165.07L367.88 167.72M368.3 136.32L368.3 133.68M368.3 165.14L368.3 169.44M368.56 136.31L368.56 125.01M368.56 165.17L368.56 172.97M368.95 136.3L368.95 134.03M368.95 165.2L368.95 167.82M369.3 136.3L369.3 134.36M369.3 165.2L369.3 169.78M369.58 136.31L369.58 131.09M369.58 165.18L369.58 169.87M369.86 136.32L369.86 129.46M369.86 165.15L369.86 171.13M370.31 136.34L370.31 133.83M370.31 165.08L370.31 168.69M370.68 136.37L370.68 131M370.68 165L370.68 165.86M370.91 136.39L370.91 133.21M370.91 164.93L370.91 166.18M371.26 136.43L371.26 134.34M371.26 164.82L371.26 166.38M371.67 136.48L371.67 134.78M371.67 164.66L371.67 166.96M372.03 136.53L372.03 134.38M372.03 164.5L372.03 169.72M372.28 136.58L372.28 133.52M372.28 164.37L372.28 165.6M372.63 136.64L372.63 135.32M372.63 164.18L372.63 168.56M372.87 136.69L372.87 135.81M372.87 164.03L372.87 167.49M373.42 136.81L373.42 133.16M373.42 163.66L373.42 169.76M373.68 136.88L373.68 132.15M373.68 163.47L373.68 165.29M373.96 136.95L373.96 128.8M373.96 163.25L373.96 170.49M374.41 137.08L374.41 132.27M374.41 162.87L374.41 167.23M374.74 137.18L374.74 136.28M374.74 162.57L374.74 163.43M374.89 137.22L374.89 136.39M374.89 162.43L374.89 167.59" fill="none" stroke="#000" stroke-width="0.45"/>
<rect x="77.5" y="13" width="248.7" height="208.3" fill="none" stroke="#222" stroke-width="1.0"/>
<line x1="73.5" y1="169.23" x2="77.5" y2="169.23" stroke="#333" stroke-width="1.0"/>
<line x1="73.5" y1="104.13" x2="77.5" y2="104.13" stroke="#333" stroke-width="1.0"/>
<line x1="73.5" y1="39.04" x2="77.5" y2="39.04" stroke="#333" stroke-width="1.0"/>
<line x1="75.5" y1="201.77" x2="77.5" y2="201.77" stroke="#333" stroke-width="1.0"/>
<line x1="75.5" y1="136.68" x2="77.5" y2="136.68" stroke="#333" stroke-width="1.0"/>
<line x1="75.5" y1="71.58" x2="77.5" y2="71.58" stroke="#333" stroke-width="1.0"/>
<line x1="77.5" y1="221.3" x2="77.5" y2="217.3" stroke="#333" stroke-width="1.0"/>
<line x1="127.24" y1="221.3" x2="127.24" y2="217.3" stroke="#333" stroke-width="1.0"/>
<line x1="176.98" y1="221.3" x2="176.98" y2="217.3" stroke="#333" stroke-width="1.0"/>
<line x1="226.72" y1="221.3" x2="226.72" y2="217.3" stroke="#333" stroke-width="1.0"/>
<line x1="276.46" y1="221.3" x2="276.46" y2="217.3" stroke="#333" stroke-width="1.0"/>
<line x1="326.2" y1="221.3" x2="326.2" y2="217.3" stroke="#333" stroke-width="1.0"/>
<line x1="102.37" y1="221.3" x2="102.37" y2="219.3" stroke="#333" stroke-width="1.0"/>
<line x1="152.11" y1="221.3" x2="152.11" y2="219.3" stroke="#333" stroke-width="1.0"/>
<line x1="201.85" y1="221.3" x2="201.85" y2="219.3" stroke="#333" stroke-width="1.0"/>
<line x1="251.59" y1="221.3" x2="251.59" y2="219.3" stroke="#333" stroke-width="1.0"/>
<line x1="301.33" y1="221.3" x2="301.33" y2="219.3" stroke="#333" stroke-width="1.0"/>
<rect x="211.35" y="308.4" width="10.7" height="208.6" fill="#d8cce6"/>
<path d="M77.5 441.25 L77.67 441.25 L77.83 441.25 L78 441.25 L78.16 441.25 L78.33 441.25 L78.5 441.25 L78.66 441.25 L78.83 441.25 L78.99 441.25 L79.16 441.25 L79.33 441.25 L79.49 441.25 L79.66 441.25 L79.82 441.25 L79.99 441.25 L80.16 441.25 L80.32 441.25 L80.49 441.25 L80.65 441.25 L80.82 441.25 L80.99 441.25 L81.15 441.25 L81.32 441.25 L81.49 441.25 L81.65 441.25 L81.82 441.25 L81.98 441.25 L82.15 441.25 L82.32 441.25 L82.48 441.25 L82.65 441.25 L82.81 441.25 L82.98 441.25 L83.15 441.25 L83.31 441.25 L83.48 441.25 L83.64 441.25 L83.81 441.25 L83.98 441.25 L84.14 441.25 L84.31 441.25 L84.47 441.25 L84.64 441.25 L84.81 441.25 L84.97 441.25 L85.14 441.25 L85.3 441.25 L85.47 441.25 L85.64 441.25 L85.8 441.25 L85.97 441.25 L86.13 441.25 L86.3 441.25 L86.47 441.25 L86.63 441.25 L86.8 441.25 L86.96 441.25 L87.13 441.25 L87.3 441.25 L87.46 441.25 L87.63 441.25 L87.79 441.25 L87.96 441.25 L88.13 441.25 L88.29 441.25 L88.46 441.25 L88.62 441.25 L88.79 441.25 L88.96 441.25 L89.12 441.25 L89.29 441.25 L89.46 441.25 L89.62 441.25 L89.79 441.25 L89.95 441.25 L90.12 441.25 L90.29 441.25 L90.45 441.25 L90.62 441.25 L90.78 441.25 L90.95 441.25 L91.12 441.25 L91.28 441.25 L91.45 441.25 L91.61 441.25 L91.78 441.25 L91.95 441.25 L92.11 441.25 L92.28 441.25 L92.44 441.25 L92.61 441.25 L92.78 441.25 L92.94 441.25 L93.11 441.25 L93.27 441.25 L93.44 441.25 L93.61 441.25 L93.77 441.25 L93.94 441.25 L94.1 441.25 L94.27 441.25 L94.44 441.25 L94.6 441.25 L94.77 441.25 L94.93 441.25 L95.1 441.25 L95.27 441.25 L95.43 441.25 L95.6 441.25 L95.76 441.25 L95.93 441.25 L96.1 441.25 L96.26 441.25 L96.43 441.25 L96.6 441.25 L96.76 441.25 L96.93 441.25 L97.09 441.25 L97.26 441.25 L97.43 441.25 L97.59 441.25 L97.76 441.25 L97.92 441.25 L98.09 441.25 L98.26 441.25 L98.42 441.25 L98.59 441.25 L98.75 441.25 L98.92 441.25 L99.09 441.25 L99.25 441.25 L99.42 441.25 L99.58 441.25 L99.75 441.25 L99.92 441.25 L100.08 441.25 L100.25 441.25 L100.41 441.25 L100.58 441.25 L100.75 441.25 L100.91 441.25 L101.08 441.25 L101.24 441.25 L101.41 441.25 L101.58 441.25 L101.74 441.25 L101.91 441.25 L102.07 441.25 L102.24 441.25 L102.41 441.25 L102.57 441.25 L102.74 441.25 L102.9 441.25 L103.07 441.25 L103.24 441.25 L103.4 441.25 L103.57 441.25 L103.73 441.25 L103.9 441.25 L104.07 441.25 L104.23 441.25 L104.4 441.25 L104.57 441.25 L104.73 441.25 L104.9 441.25 L105.06 441.25 L105.23 441.25 L105.4 441.25 L105.56 441.25 L105.73 441.25 L105.89 441.25 L106.06 441.25 L106.23 441.25 L106.39 441.25 L106.56 441.25 L106.72 441.25 L106.89 441.25 L107.06 441.25 L107.22 441.25 L107.39 441.25 L107.55 441.25 L107.72 441.25 L107.89 441.25 L108.05 441.25 L108.22 441.25 L108.38 441.25 L108.55 441.25 L108.72 441.25 L108.88 441.25 L109.05 441.25 L109.21 441.25 L109.38 441.25 L109.55 441.25 L109.71 441.25 L109.88 441.25 L110.04 441.25 L110.21 441.25 L110.38 441.25 L110.54 441.25 L110.71 441.25 L110.87 441.25 L111.04 441.25 L111.21 441.25 L111.37 441.25 L111.54 441.25 L111.71 441.25 L111.87 441.25 L112.04 441.25 L112.2 441.25 L112.37 441.25 L112.54 441.25 L112.7 441.25 L112.87 441.25 L113.03 441.25 L113.2 441.25 L113.37 441.25 L113.53 441.25 L113.7 441.25 L113.86 441.25 L114.03 441.25 L114.2 441.25 L114.36 441.25 L114.53 441.25 L114.69 441.25 L114.86 441.25 L115.03 441.25 L115.19 441.25 L115.36 441.25 L115.52 441.25 L115.69 441.25 L115.86 441.25 L116.02 441.25 L116.19 441.25 L116.35 441.25 L116.52 441.25 L116.69 441.25 L116.85 441.25 L117.02 441.25 L117.18 441.25 L117.35 441.25 L117.52 441.25 L117.68 441.25 L117.85 441.25 L118.01 441.25 L118.18 441.25 L118.35 441.25 L118.51 441.25 L118.68 441.25 L118.84 441.25 L119.01 441.25 L119.18 441.25 L119.34 441.25 L119.51 441.25 L119.68 441.25 L119.84 441.25 L120.01 441.25 L120.17 441.25 L120.34 441.25 L120.51 441.25 L120.67 441.25 L120.84 441.25 L121 441.25 L121.17 441.25 L121.34 441.25 L121.5 441.25 L121.67 441.25 L121.83 441.25 L122 441.25 L122.17 441.25 L122.33 441.25 L122.5 441.25 L122.66 441.25 L122.83 441.25 L123 441.25 L123.16 441.25 L123.33 441.25 L123.49 441.25 L123.66 441.25 L123.83 441.25 L123.99 441.25 L124.16 441.25 L124.32 441.25 L124.49 441.25 L124.66 441.25 L124.82 441.25 L124.99 441.25 L125.15 441.25 L125.32 441.25 L125.49 441.25 L125.65 441.25 L125.82 441.25 L125.98 441.25 L126.15 441.25 L126.32 441.25 L126.48 441.25 L126.65 441.25 L126.82 441.25 L126.98 441.25 L127.15 441.25 L127.31 441.25 L127.48 441.25 L127.65 441.25 L127.81 441.25 L127.98 441.25 L128.14 441.25 L128.31 441.25 L128.48 441.25 L128.64 441.25 L128.81 441.25 L128.97 441.25 L129.14 441.25 L129.31 441.25 L129.47 441.25 L129.64 441.25 L129.8 441.25 L129.97 441.25 L130.14 441.25 L130.3 441.25 L130.47 441.25 L130.63 441.25 L130.8 441.25 L130.97 441.25 L131.13 441.25 L131.3 441.25 L131.46 441.25 L131.63 441.25 L131.8 441.25 L131.96 441.25 L132.13 441.25 L132.29 441.25 L132.46 441.25 L132.63 441.25 L132.79 441.25 L132.96 441.25 L133.12 441.25 L133.29 441.25 L133.46 441.25 L133.62 441.25 L133.79 441.25 L133.95 441.25 L134.12 441.25 L134.29 441.25 L134.45 441.25 L134.62 441.25 L134.79 441.25 L134.95 441.25 L135.12 441.25 L135.28 441.25 L135.45 441.25 L135.62 441.25 L135.78 441.25 L135.95 441.25 L136.11 441.25 L136.28 441.25 L136.45 441.25 L136.61 441.25 L136.78 441.25 L136.94 441.25 L137.11 441.25 L137.28 441.25 L137.44 441.25 L137.61 441.25 L137.77 441.25 L137.94 441.25 L138.11 441.25 L138.27 441.25 L138.44 441.25 L138.6 441.25 L138.77 441.25 L138.94 441.25 L139.1 441.25 L139.27 441.25 L139.43 441.25 L139.6 441.25 L139.77 441.25 L139.93 441.25 L140.1 441.25 L140.26 441.25 L140.43 441.25 L140.6 441.25 L140.76 441.25 L140.93 441.25 L141.09 441.25 L141.26 441.25 L141.43 441.25 L141.59 441.25 L141.76 441.25 L141.93 441.25 L142.09 441.25 L142.26 441.25 L142.42 441.25 L142.59 441.25 L142.76 441.25 L142.92 441.25 L143.09 441.25 L143.25 441.25 L143.42 441.25 L143.59 441.25 L143.75 441.25 L143.92 441.25 L144.08 441.25 L144.25 441.25 L144.42 441.25 L144.58 441.25 L144.75 441.25 L144.91 441.25 L145.08 441.25 L145.25 441.25 L145.41 441.25 L145.58 441.25 L145.74 441.25 L145.91 441.25 L146.08 441.25 L146.24 441.25 L146.41 441.25 L146.57 441.25 L146.74 441.25 L146.91 441.25 L147.07 441.25 L147.24 441.25 L147.4 441.25 L147.57 441.25 L147.74 441.25 L147.9 441.25 L148.07 441.25 L148.23 441.25 L148.4 441.25 L148.57 441.25 L148.73 441.25 L148.9 441.25 L149.06 441.25 L149.23 441.25 L149.4 441.25 L149.56 441.25 L149.73 441.25 L149.9 441.25 L150.06 441.25 L150.23 441.25 L150.39 441.25 L150.56 441.25 L150.73 441.25 L150.89 441.25 L151.06 441.25 L151.22 441.25 L151.39 441.25 L151.56 441.25 L151.72 441.25 L151.89 441.25 L152.05 441.25 L152.22 441.25 L152.39 441.25 L152.55 441.25 L152.72 441.25 L152.88 441.25 L153.05 441.25 L153.22 441.25 L153.38 441.25 L153.55 441.25 L153.71 441.25 L153.88 441.25 L154.05 441.25 L154.21 441.25 L154.38 441.25 L154.54 441.25 L154.71 441.25 L154.88 441.25 L155.04 441.25 L155.21 441.25 L155.37 441.25 L155.54 441.25 L155.71 441.25 L155.87 441.25 L156.04 441.25 L156.2 441.25 L156.37 441.25 L156.54 441.25 L156.7 441.25 L156.87 441.25 L157.04 441.25 L157.2 441.25 L157.37 441.25 L157.53 441.25 L157.7 441.25 L157.87 441.25 L158.03 441.25 L158.2 441.25 L158.36 441.25 L158.53 441.25 L158.7 441.25 L158.86 441.25 L159.03 441.25 L159.19 441.25 L159.36 441.25 L159.53 441.25 L159.69 441.25 L159.86 441.25 L160.02 441.25 L160.19 441.25 L160.36 441.25 L160.52 441.25 L160.69 441.25 L160.85 441.25 L161.02 441.25 L161.19 441.25 L161.35 441.25 L161.52 441.25 L161.68 441.25 L161.85 441.25 L162.02 441.25 L162.18 441.25 L162.35 441.25 L162.51 441.25 L162.68 441.25 L162.85 441.25 L163.01 441.25 L163.18 441.25 L163.34 441.25 L163.51 441.25 L163.68 441.25 L163.84 441.25 L164.01 441.25 L164.17 441.25 L164.34 441.25 L164.51 441.25 L164.67 441.25 L164.84 441.25 L165.01 441.25 L165.17 441.25 L165.34 441.25 L165.5 441.25 L165.67 441.25 L165.84 441.25 L166 441.25 L166.17 441.25 L166.33 441.25 L166.5 441.25 L166.67 441.25 L166.83 441.25 L167 441.25 L167.16 441.25 L167.33 441.25 L167.5 441.25 L167.66 441.25 L167.83 441.25 L167.99 441.25 L168.16 441.25 L168.33 441.25 L168.49 441.25 L168.66 441.25 L168.82 441.25 L168.99 441.25 L169.16 441.25 L169.32 441.25 L169.49 441.25 L169.65 441.25 L169.82 441.25 L169.99 441.25 L170.15 441.25 L170.32 441.25 L170.48 441.25 L170.65 441.25 L170.82 441.25 L170.98 441.25 L171.15 441.25 L171.31 441.25 L171.48 441.25 L171.65 441.25 L171.81 441.25 L171.98 441.25 L172.15 441.25 L172.31 441.25 L172.48 441.25 L172.64 441.25 L172.81 441.25 L172.98 441.25 L173.14 441.25 L173.31 441.25 L173.47 441.25 L173.64 441.25 L173.81 441.25 L173.97 441.25 L174.14 441.25 L174.3 441.25 L174.47 441.25 L174.64 441.25 L174.8 441.25 L174.97 441.25 L175.13 441.25 L175.3 441.25 L175.47 441.25 L175.63 441.25 L175.8 441.25 L175.96 441.25 L176.13 441.25 L176.3 441.25 L176.46 441.25 L176.63 441.25 L176.79 441.25 L176.96 441.25 L177.13 441.25 L177.29 441.25 L177.46 441.25 L177.62 441.25 L177.79 441.25 L177.96 441.25 L178.12 441.25 L178.29 441.25 L178.45 441.25 L178.62 441.25 L178.79 441.25 L178.95 441.25 L179.12 441.25 L179.28 441.25 L179.45 441.25 L179.62 441.25 L179.78 441.25 L179.95 441.25 L180.12 441.25 L180.28 441.25 L180.45 441.25 L180.61 441.25 L180.78 441.25 L180.95 441.25 L181.11 441.25 L181.28 441.25 L181.44 441.25 L181.61 441.25 L181.78 441.25 L181.94 441.25 L182.11 441.25 L182.27 441.25 L182.44 441.25 L182.61 441.25 L182.77 441.25 L182.94 441.25 L183.1 441.25 L183.27 441.25 L183.44 441.25 L183.6 441.25 L183.77 441.25 L183.93 441.25 L184.1 441.25 L184.27 441.25 L184.43 441.25 L184.6 441.25 L184.76 441.25 L184.93 441.25 L185.1 441.25 L185.26 441.25 L185.43 441.25 L185.59 441.25 L185.76 441.25 L185.93 441.25 L186.09 441.25 L186.26 441.25 L186.42 441.25 L186.59 441.25 L186.76 441.25 L186.92 441.25 L187.09 441.25 L187.26 441.25 L187.42 441.25 L187.59 441.25 L187.75 441.25 L187.92 441.25 L188.09 441.25 L188.25 441.25 L188.42 441.25 L188.58 441.25 L188.75 441.25 L188.92 441.25 L189.08 441.25 L189.25 441.25 L189.41 441.25 L189.58 441.25 L189.75 441.25 L189.91 441.25 L190.08 441.25 L190.24 441.25 L190.41 441.25 L190.58 441.25 L190.74 441.25 L190.91 441.25 L191.07 441.25 L191.24 441.25 L191.41 441.25 L191.57 441.25 L191.74 441.25 L191.9 441.25 L192.07 441.25 L192.24 441.25 L192.4 441.25 L192.57 441.25 L192.73 441.25 L192.9 441.25 L193.07 441.25 L193.23 441.25 L193.4 441.25 L193.56 441.25 L193.73 441.25 L193.9 441.25 L194.06 441.25 L194.23 441.25 L194.39 441.25 L194.56 441.25 L194.73 441.25 L194.89 441.25 L195.06 441.25 L195.23 441.25 L195.39 441.25 L195.56 441.25 L195.72 441.25 L195.89 441.25 L196.06 441.25 L196.22 441.25 L196.39 441.25 L196.55 441.25 L196.72 441.25 L196.89 441.25 L197.05 441.25 L197.22 441.25 L197.38 441.25 L197.55 441.25 L197.72 441.25 L197.88 441.25 L198.05 441.25 L198.21 441.25 L198.38 441.25 L198.55 441.25 L198.71 441.25 L198.88 441.25 L199.04 441.25 L199.21 441.25 L199.38 441.25 L199.54 441.25 L199.71 441.25 L199.87 441.25 L200.04 441.25 L200.21 441.25 L200.37 441.25 L200.54 441.25 L200.7 441.25 L200.87 441.25 L201.04 441.25 L201.2 441.25 L201.37 441.25 L201.53 441.25 L201.7 441.25 L201.87 441.25 L202.03 441.25 L202.2 441.25 L202.37 441.25 L202.53 441.25 L202.7 441.25 L202.86 441.25 L203.03 441.25 L203.2 441.25 L203.36 441.25 L203.53 441.25 L203.69 441.25 L203.86 441.25 L204.03 441.25 L204.19 441.25 L204.36 441.25 L204.52 441.25 L204.69 441.25 L204.86 441.25 L205.02 441.25 L205.19 441.25 L205.35 441.25 L205.52 441.25 L205.69 441.25 L205.85 441.25 L206.02 441.25 L206.18 441.25 L206.35 441.25 L206.52 441.25 L206.68 441.25 L206.85 441.25 L207.01 441.25 L207.18 441.25 L207.35 441.25 L207.51 441.25 L207.68 441.25 L207.84 441.25 L208.01 441.25 L208.18 441.25 L208.34 441.25 L208.51 441.25 L208.67 441.25 L208.84 441.25 L209.01 441.25 L209.17 441.25 L209.34 441.25 L209.51 441.25 L209.67 441.25 L209.84 441.25 L210 441.25 L210.17 441.25 L210.34 441.25 L210.5 441.25 L210.67 441.25 L210.83 439.88 L211 438.05 L211.17 436.24 L211.33 434.46 L211.5 432.71 L211.66 430.98 L211.83 429.28 L212 427.61 L212.16 425.97 L212.33 424.35 L212.49 422.76 L212.66 421.2 L212.83 419.67 L212.99 418.16 L213.16 416.68 L213.32 415.23 L213.49 413.81 L213.66 412.41 L213.82 411.04 L213.99 409.7 L214.15 408.39 L214.32 407.1 L214.49 405.84 L214.65 404.61 L214.82 403.41 L214.98 402.23 L215.15 401.08 L215.32 399.96 L215.48 398.87 L215.65 397.8 L215.81 396.76 L215.98 395.75 L216.15 394.77 L216.31 393.81 L216.48 392.88 L216.64 391.98 L216.81 391.1 L216.98 390.26 L217.14 389.44 L217.31 388.65 L217.48 387.88 L217.64 387.15 L217.81 386.44 L217.97 385.75 L218.14 385.1 L218.31 384.47 L218.47 383.87 L218.64 383.3 L218.8 382.76 L218.97 382.24 L219.14 381.75 L219.3 381.29 L219.47 380.85 L219.63 380.45 L219.8 380.07 L219.97 379.71 L220.13 379.39 L220.3 379.09 L220.46 378.82 L220.63 378.58 L220.8 378.37 L220.96 378.18 L221.13 378.02 L221.29 377.89 L221.46 377.78 L221.63 377.7 L221.79 377.65 L221.96 377.63 L222.12 377.63 L222.29 377.63 L222.46 377.63 L222.62 377.63 L222.79 377.63 L222.95 377.63 L223.12 377.63 L223.29 377.63 L223.45 377.63 L223.62 377.63 L223.78 377.63 L223.95 377.63 L224.12 377.63 L224.28 377.63 L224.45 377.63 L224.62 377.63 L224.78 377.63 L224.95 377.63 L225.11 377.63 L225.28 377.63 L225.45 377.63 L225.61 377.63 L225.78 377.63 L225.94 377.63 L226.11 377.63 L226.28 377.63 L226.44 377.63 L226.61 377.63 L226.77 377.63 L226.94 377.63 L227.11 377.63 L227.27 377.63 L227.44 377.63 L227.6 377.63 L227.77 377.63 L227.94 377.63 L228.1 377.63 L228.27 377.63 L228.43 377.63 L228.6 377.63 L228.77 377.63 L228.93 377.63 L229.1 377.63 L229.26 377.63 L229.43 377.63 L229.6 377.63 L229.76 377.63 L229.93 377.63 L230.09 377.63 L230.26 377.63 L230.43 377.63 L230.59 377.63 L230.76 377.63 L230.92 377.63 L231.09 377.63 L231.26 377.63 L231.42 377.63 L231.59 377.63 L231.75 377.63 L231.92 377.63 L232.09 377.63 L232.25 377.63 L232.42 377.63 L232.59 377.63 L232.75 377.63 L232.92 377.63 L233.08 377.63 L233.25 377.63 L233.42 377.63 L233.58 377.63 L233.75 377.63 L233.91 377.63 L234.08 377.63 L234.25 377.63 L234.41 377.63 L234.58 377.63 L234.74 377.63 L234.91 377.63 L235.08 377.63 L235.24 377.63 L235.41 377.63 L235.57 377.63 L235.74 377.63 L235.91 377.63 L236.07 377.63 L236.24 377.63 L236.4 377.63 L236.57 377.63 L236.74 377.63 L236.9 377.63 L237.07 377.63 L237.23 377.63 L237.4 377.63 L237.57 377.63 L237.73 377.63 L237.9 377.63 L238.06 377.63 L238.23 377.63 L238.4 377.63 L238.56 377.63 L238.73 377.63 L238.89 377.63 L239.06 377.63 L239.23 377.63 L239.39 377.63 L239.56 377.63 L239.73 377.63 L239.89 377.63 L240.06 377.63 L240.22 377.63 L240.39 377.63 L240.56 377.63 L240.72 377.63 L240.89 377.63 L241.05 377.63 L241.22 377.63 L241.39 377.63 L241.55 377.63 L241.72 377.63 L241.88 377.63 L242.05 377.63 L242.22 377.63 L242.38 377.63 L242.55 377.63 L242.71 377.63 L242.88 377.63 L243.05 377.63 L243.21 377.63 L243.38 377.63 L243.54 377.63 L243.71 377.63 L243.88 377.63 L244.04 377.63 L244.21 377.63 L244.37 377.63 L244.54 377.63 L244.71 377.63 L244.87 377.63 L245.04 377.63 L245.2 377.63 L245.37 377.63 L245.54 377.63 L245.7 377.63 L245.87 377.63 L246.03 377.63 L246.2 377.63 L246.37 377.63 L246.53 377.63 L246.7 377.63 L246.86 377.63 L247.03 377.63 L247.2 377.63 L247.36 377.63 L247.53 377.63 L247.7 377.63 L247.86 377.63 L248.03 377.63 L248.19 377.63 L248.36 377.63 L248.53 377.63 L248.69 377.63 L248.86 377.63 L249.02 377.63 L249.19 377.63 L249.36 377.63 L249.52 377.63 L249.69 377.63 L249.85 377.63 L250.02 377.63 L250.19 377.63 L250.35 377.63 L250.52 377.63 L250.68 377.63 L250.85 377.63 L251.02 377.63 L251.18 377.63 L251.35 377.63 L251.51 377.63 L251.68 377.63 L251.85 377.63 L252.01 377.63 L252.18 377.63 L252.34 377.63 L252.51 377.63 L252.68 377.63 L252.84 377.63 L253.01 377.63 L253.17 377.63 L253.34 377.63 L253.51 377.63 L253.67 377.63 L253.84 377.63 L254 377.63 L254.17 377.63 L254.34 377.63 L254.5 377.63 L254.67 377.63 L254.84 377.63 L255 377.63 L255.17 377.63 L255.33 377.63 L255.5 377.63 L255.67 377.63 L255.83 377.63 L256 377.63 L256.16 377.63 L256.33 377.63 L256.5 377.63 L256.66 377.63 L256.83 377.63 L256.99 377.63 L257.16 377.63 L257.33 377.63 L257.49 377.63 L257.66 377.63 L257.82 377.63 L257.99 377.63 L258.16 377.63 L258.32 377.63 L258.49 377.63 L258.65 377.63 L258.82 377.63 L258.99 377.63 L259.15 377.63 L259.32 377.63 L259.48 377.63 L259.65 377.63 L259.82 377.63 L259.98 377.63 L260.15 377.63 L260.31 377.63 L260.48 377.63 L260.65 377.63 L260.81 377.63 L260.98 377.63 L261.14 377.63 L261.31 377.63 L261.48 377.63 L261.64 377.63 L261.81 377.63 L261.97 377.63 L262.14 377.63 L262.31 377.63 L262.47 377.63 L262.64 377.63 L262.81 377.63 L262.97 377.63 L263.14 377.63 L263.3 377.63 L263.47 377.63 L263.64 377.63 L263.8 377.63 L263.97 377.63 L264.13 377.63 L264.3 377.63 L264.47 377.63 L264.63 377.63 L264.8 377.63 L264.96 377.63 L265.13 377.63 L265.3 377.63 L265.46 377.63 L265.63 377.63 L265.79 377.63 L265.96 377.63 L266.13 377.63 L266.29 377.63 L266.46 377.63 L266.62 377.63 L266.79 377.63 L266.96 377.63 L267.12 377.63 L267.29 377.63 L267.45 377.63 L267.62 377.63 L267.79 377.63 L267.95 377.63 L268.12 377.63 L268.28 377.63 L268.45 377.63 L268.62 377.63 L268.78 377.63 L268.95 377.63 L269.11 377.63 L269.28 377.63 L269.45 377.63 L269.61 377.63 L269.78 377.63 L269.95 377.63 L270.11 377.63 L270.28 377.63 L270.44 377.63 L270.61 377.63 L270.78 377.63 L270.94 377.63 L271.11 377.63 L271.27 377.63 L271.44 377.63 L271.61 377.63 L271.77 377.63 L271.94 377.63 L272.1 377.63 L272.27 377.63 L272.44 377.63 L272.6 377.63 L272.77 377.63 L272.93 377.63 L273.1 377.63 L273.27 377.63 L273.43 377.63 L273.6 377.63 L273.76 377.63 L273.93 377.63 L274.1 377.63 L274.26 377.63 L274.43 377.63 L274.59 377.63 L274.76 377.63 L274.93 377.63 L275.09 377.63 L275.26 377.63 L275.42 377.63 L275.59 377.63 L275.76 377.63 L275.92 377.63 L276.09 377.63 L276.25 377.63 L276.42 377.63 L276.59 377.63 L276.75 377.63 L276.92 377.63 L277.08 377.63 L277.25 377.63 L277.42 377.63 L277.58 377.63 L277.75 377.63 L277.92 377.63 L278.08 377.63 L278.25 377.63 L278.41 377.63 L278.58 377.63 L278.75 377.63 L278.91 377.63 L279.08 377.63 L279.24 377.63 L279.41 377.63 L279.58 377.63 L279.74 377.63 L279.91 377.63 L280.07 377.63 L280.24 377.63 L280.41 377.63 L280.57 377.63 L280.74 377.63 L280.9 377.63 L281.07 377.63 L281.24 377.63 L281.4 377.63 L281.57 377.63 L281.73 377.63 L281.9 377.63 L282.07 377.63 L282.23 377.63 L282.4 377.63 L282.56 377.63 L282.73 377.63 L282.9 377.63 L283.06 377.63 L283.23 377.63 L283.39 377.63 L283.56 377.63 L283.73 377.63 L283.89 377.63 L284.06 377.63 L284.22 377.63 L284.39 377.63 L284.56 377.63 L284.72 377.63 L284.89 377.63 L285.06 377.63 L285.22 377.63 L285.39 377.63 L285.55 377.63 L285.72 377.63 L285.89 377.63 L286.05 377.63 L286.22 377.63 L286.38 377.63 L286.55 377.63 L286.72 377.63 L286.88 377.63 L287.05 377.63 L287.21 377.63 L287.38 377.63 L287.55 377.63 L287.71 377.63 L287.88 377.63 L288.04 377.63 L288.21 377.63 L288.38 377.63 L288.54 377.63 L288.71 377.63 L288.87 377.63 L289.04 377.63 L289.21 377.63 L289.37 377.63 L289.54 377.63 L289.7 377.63 L289.87 377.63 L290.04 377.63 L290.2 377.63 L290.37 377.63 L290.53 377.63 L290.7 377.63 L290.87 377.63 L291.03 377.63 L291.2 377.63 L291.36 377.63 L291.53 377.63 L291.7 377.63 L291.86 377.63 L292.03 377.63 L292.19 377.63 L292.36 377.63 L292.53 377.63 L292.69 377.63 L292.86 377.63 L293.03 377.63 L293.19 377.63 L293.36 377.63 L293.52 377.63 L293.69 377.63 L293.86 377.63 L294.02 377.63 L294.19 377.63 L294.35 377.63 L294.52 377.63 L294.69 377.63 L294.85 377.63 L295.02 377.63 L295.18 377.63 L295.35 377.63 L295.52 377.63 L295.68 377.63 L295.85 377.63 L296.01 377.63 L296.18 377.63 L296.35 377.63 L296.51 377.63 L296.68 377.63 L296.84 377.63 L297.01 377.63 L297.18 377.63 L297.34 377.63 L297.51 377.63 L297.67 377.63 L297.84 377.63 L298.01 377.63 L298.17 377.63 L298.34 377.63 L298.5 377.63 L298.67 377.63 L298.84 377.63 L299 377.63 L299.17 377.63 L299.33 377.63 L299.5 377.63 L299.67 377.63 L299.83 377.63 L300 377.63 L300.17 377.63 L300.33 377.63 L300.5 377.63 L300.66 377.63 L300.83 377.63 L301 377.63 L301.16 377.63 L301.33 377.63 L301.49 377.63 L301.66 377.63 L301.83 377.63 L301.99 377.63 L302.16 377.63 L302.32 377.63 L302.49 377.63 L302.66 377.63 L302.82 377.63 L302.99 377.63 L303.15 377.63 L303.32 377.63 L303.49 377.63 L303.65 377.63 L303.82 377.63 L303.98 377.63 L304.15 377.63 L304.32 377.63 L304.48 377.63 L304.65 377.63 L304.81 377.63 L304.98 377.63 L305.15 377.63 L305.31 377.63 L305.48 377.63 L305.64 377.63 L305.81 377.63 L305.98 377.63 L306.14 377.63 L306.31 377.63 L306.47 377.63 L306.64 377.63 L306.81 377.63 L306.97 377.63 L307.14 377.63 L307.3 377.63 L307.47 377.63 L307.64 377.63 L307.8 377.63 L307.97 377.63 L308.14 377.63 L308.3 377.63 L308.47 377.63 L308.63 377.63 L308.8 377.63 L308.97 377.63 L309.13 377.63 L309.3 377.63 L309.46 377.63 L309.63 377.63 L309.8 377.63 L309.96 377.63 L310.13 377.63 L310.29 377.63 L310.46 377.63 L310.63 377.63 L310.79 377.63 L310.96 377.63 L311.12 377.63 L311.29 377.63 L311.46 377.63 L311.62 377.63 L311.79 377.63 L311.95 377.63 L312.12 377.63 L312.29 377.63 L312.45 377.63 L312.62 377.63 L312.78 377.63 L312.95 377.63 L313.12 377.63 L313.28 377.63 L313.45 377.63 L313.61 377.63 L313.78 377.63 L313.95 377.63 L314.11 377.63 L314.28 377.63 L314.44 377.63 L314.61 377.63 L314.78 377.63 L314.94 377.63 L315.11 377.63 L315.28 377.63 L315.44 377.63 L315.61 377.63 L315.77 377.63 L315.94 377.63 L316.11 377.63 L316.27 377.63 L316.44 377.63 L316.6 377.63 L316.77 377.63 L316.94 377.63 L317.1 377.63 L317.27 377.63 L317.43 377.63 L317.6 377.63 L317.77 377.63 L317.93 377.63 L318.1 377.63 L318.26 377.63 L318.43 377.63 L318.6 377.63 L318.76 377.63 L318.93 377.63 L319.09 377.63 L319.26 377.63 L319.43 377.63 L319.59 377.63 L319.76 377.63 L319.92 377.63 L320.09 377.63 L320.26 377.63 L320.42 377.63 L320.59 377.63 L320.75 377.63 L320.92 377.63 L321.09 377.63 L321.25 377.63 L321.42 377.63 L321.58 377.63 L321.75 377.63 L321.92 377.63 L322.08 377.63 L322.25 377.63 L322.41 377.63 L322.58 377.63 L322.75 377.63 L322.91 377.63 L323.08 377.63 L323.25 377.63 L323.41 377.63 L323.58 377.63 L323.74 377.63 L323.91 377.63 L324.08 377.63 L324.24 377.63 L324.41 377.63 L324.57 377.63 L324.74 377.63 L324.91 377.63 L325.07 377.63 L325.24 377.63 L325.4 377.63 L325.57 377.63 L325.74 377.63 L325.9 377.63 L326.07 377.63 L326.23 377.63 L326.4 377.63" fill="none" stroke="#14a04b" stroke-width="2.8" stroke-linejoin="round" />
<path d="M77.6 450.5 L78.8 440.9 L83.1 452.2 L84.4 450.1 L86.5 448.1 L87.7 437.7 L89.3 438.5 L90.9 434.1 L92.1 439.7 L94.5 439.7 L95.7 441.3 L97.5 449.3 L99.3 435.3 L101.7 443.3 L104.1 444.5 L106.1 445.7 L109 457.4 L112.6 432.1 L114.4 447.7 L115.8 442.1 L117.4 449.3 L119.4 439.3 L120.6 455.4 L122.5 430.5 L124.2 454.6 L127.2 444.1 L130.4 440.1 L133.6 461 L136.1 442.5 L138.1 441.7 L140.5 440.5 L143.7 455.8 L145.5 431.7 L147.3 436.1 L149.3 444.9 L150.5 444.1 L153.3 461.4 L157.4 436.9 L159 461.4 L161 443.3 L163.4 438.1 L165.4 443.7 L167.4 430.5 L169.4 439.3 L172.2 438.1 L173.6 435.7 L175.4 443.4 L177.2 437.3 L178.6 446.6 L180.4 429.3 L182.3 448.2 L185.3 430.5 L187.3 445.4 L188.5 439.3 L190.5 442.2 L192.1 440.5 L193.7 432.5 L196.9 433.7 L198.5 446.2 L200.9 429.7 L202.1 430.1 L203.8 444.6 L206.2 427.7 L208.6 426.5 L210.4 444.6 L212.2 430.1 L213.9 405.2 L215.5 402.1 L216.6 405.2 L218.4 388.2 L220.2 382 L222 377.1 L223.3 378.4 L225.4 381.5 L227.3 376.6 L229.6 373.5 L231.6 382.4 L233.6 365.4 L235.8 372.1 L238.5 376.2 L240 374.3 L241.4 372.7 L243.2 377.5 L246.4 390.4 L248.4 378.3 L249.6 379.1 L251.7 374.3 L253.5 385.5 L254.9 373.9 L256.5 370.7 L258.3 379.1 L259.7 373.1 L261.3 376.3 L263.3 357.4 L265.3 367.9 L266.5 397.2 L268.5 380.7 L270.1 382.3 L271.4 387.2 L273.1 367.9 L275 381.5 L276.6 383.9 L278.2 382.7 L279.8 370.7 L281.6 367.1 L283.4 369.9 L284.6 380.3 L286.6 370.3 L288.3 367.1 L289.6 367.9 L291.5 367.5 L293.2 389.2 L294.7 365.5 L296.5 368.7 L298.1 383.9 L299.7 373.9 L301.3 378.7 L302.9 373.1 L304.5 373.5 L306.5 376.3 L308.1 363 L309.7 367.9 L312.5 393.2 L314.5 364.2 L316.1 372.7 L318 385.5 L319.4 367.9 L321.4 361.4 L323.4 374.7 L324.6 371.5 L326 374.7" fill="none" stroke="#000" stroke-width="1.1" stroke-linejoin="round" />
<rect x="77.5" y="308.4" width="248.9" height="208.6" fill="none" stroke="#222" stroke-width="1.0"/>
<line x1="73.5" y1="464.85" x2="77.5" y2="464.85" stroke="#333" stroke-width="1.0"/>
<line x1="73.5" y1="399.66" x2="77.5" y2="399.66" stroke="#333" stroke-width="1.0"/>
<line x1="73.5" y1="334.48" x2="77.5" y2="334.48" stroke="#333" stroke-width="1.0"/>
<line x1="75.5" y1="497.44" x2="77.5" y2="497.44" stroke="#333" stroke-width="1.0"/>
<line x1="75.5" y1="432.26" x2="77.5" y2="432.26" stroke="#333" stroke-width="1.0"/>
<line x1="75.5" y1="367.07" x2="77.5" y2="367.07" stroke="#333" stroke-width="1.0"/>
<line x1="77.5" y1="517" x2="77.5" y2="513" stroke="#333" stroke-width="1.0"/>
<line x1="160.47" y1="517" x2="160.47" y2="513" stroke="#333" stroke-width="1.0"/>
<line x1="243.43" y1="517" x2="243.43" y2="513" stroke="#333" stroke-width="1.0"/>
<line x1="326.4" y1="517" x2="326.4" y2="513" stroke="#333" stroke-width="1.0"/>
<line x1="118.98" y1="517" x2="118.98" y2="515" stroke="#333" stroke-width="1.0"/>
<line x1="201.95" y1="517" x2="201.95" y2="515" stroke="#333" stroke-width="1.0"/>
<line x1="284.92" y1="517" x2="284.92" y2="515" stroke="#333" stroke-width="1.0"/>
<path d="M432.2 130.56 L432.36 130.18 L432.51 130.22 L432.67 130.72 L432.82 130.66 L432.98 130.72 L433.14 130.41 L433.29 130.59 L433.45 130.36 L433.6 131.1 L433.76 130.12 L433.91 130.6 L434.07 130.38 L434.23 130.61 L434.38 130.68 L434.54 130.44 L434.69 130.33 L434.85 130.63 L435.01 130.61 L435.16 130.37 L435.32 130.82 L435.47 131 L435.63 130.46 L435.79 130.76 L435.94 131.12 L436.1 130.8 L436.25 130.7 L436.41 130.91 L436.56 131 L436.72 130.56 L436.88 130.31 L437.03 130.64 L437.19 130.78 L437.34 130.46 L437.5 130.37 L437.66 130.66 L437.81 130.41 L437.97 130.27 L438.12 130.63 L438.28 130.8 L438.44 130.47 L438.59 130.5 L438.75 130.26 L438.9 130.94 L439.06 130.76 L439.21 130.81 L439.37 131.07 L439.53 130.53 L439.68 130.42 L439.84 130.78 L439.99 130.17 L440.15 130.34 L440.31 130.39 L440.46 130.46 L440.62 130.3 L440.77 130.95 L440.93 130.39 L441.09 130.4 L441.24 131.08 L441.4 130.47 L441.55 130.64 L441.71 130.35 L441.86 130.7 L442.02 130.58 L442.18 130.47 L442.33 130.82 L442.49 130.4 L442.64 130.6 L442.8 130.43 L442.96 130.72 L443.11 130.26 L443.27 130.4 L443.42 130.62 L443.58 130.39 L443.74 130.21 L443.89 130.06 L444.05 131.02 L444.2 130.32 L444.36 130.43 L444.51 130.58 L444.67 130.79 L444.83 129.97 L444.98 130.24 L445.14 128.7 L445.29 126.43 L445.45 123.61 L445.61 117.5 L445.76 109.67 L445.92 98.89 L446.07 86.56 L446.23 73.77 L446.38 62.62 L446.54 51.4 L446.7 42.18 L446.85 35.36 L447.01 31.31 L447.16 29.12 L447.32 27.64 L447.48 27.36 L447.63 27.38 L447.79 27.57 L447.94 27.52 L448.1 28.37 L448.26 30.82 L448.41 33.84 L448.57 38.65 L448.72 44.63 L448.88 52.06 L449.03 61.88 L449.19 72.74 L449.35 82.92 L449.5 93.9 L449.66 103.3 L449.81 112.29 L449.97 119.11 L450.13 124.29 L450.28 126.8 L450.44 128.49 L450.59 130.62 L450.75 131.16 L450.91 131.09 L451.06 131.62 L451.22 131.5 L451.37 131.55 L451.53 131.4 L451.68 131.15 L451.84 131.46 L452 131.21 L452.15 131.6 L452.31 131.39 L452.46 132.09 L452.62 131.9 L452.78 131.25 L452.93 131.65 L453.09 131.31 L453.24 131.32 L453.4 131.09 L453.56 131.23 L453.71 131.17 L453.87 131.48 L454.02 131.64 L454.18 131.64 L454.33 131.57 L454.49 131.74 L454.65 131.56 L454.8 131.42 L454.96 131.31 L455.11 131.46 L455.27 131.91 L455.43 131.36 L455.58 131.26 L455.74 131 L455.89 131.13 L456.05 131.46 L456.21 131.47 L456.36 130.67 L456.52 131.01 L456.67 130.69 L456.83 130.58 L456.98 131.41 L457.14 131.05 L457.3 131.01 L457.45 130.96 L457.61 130.95 L457.76 131.03 L457.92 131.02 L458.08 131.48 L458.23 131.08 L458.39 131.23 L458.54 130.96 L458.7 131.12 L458.86 130.79 L459.01 130.72 L459.17 130.85 L459.32 130.83 L459.48 130.88 L459.63 131.02 L459.79 130.92 L459.95 131 L460.1 130.74 L460.26 130.83 L460.41 130.65 L460.57 131.19 L460.73 130.54 L460.88 131 L461.04 130.98 L461.19 130.82 L461.35 130.91 L461.51 130.66 L461.66 130.89 L461.82 131.03 L461.97 130.95 L462.13 130.33 L462.28 130.68 L462.44 131.02 L462.6 130.68 L462.75 131.12 L462.91 130.15 L463.06 131.1 L463.22 130.52 L463.38 130.49 L463.53 131.06 L463.69 130.55 L463.84 130.35 L464 130.49 L464.16 130.55 L464.31 130.35 L464.47 130.57 L464.62 130.52 L464.78 130.65 L464.93 130.43 L465.09 130.87 L465.25 130.37 L465.4 130.74 L465.56 130.91 L465.71 130.49 L465.87 130.11 L466.03 130.31 L466.18 130.74 L466.34 130.39 L466.49 130.72 L466.65 130.62 L466.81 130.56 L466.96 131.25 L467.12 130.53 L467.27 130.87 L467.43 130.78 L467.58 131 L467.74 131.01 L467.9 130.85 L468.05 130.34 L468.21 130.1 L468.36 130.58 L468.52 130.26 L468.68 130.65 L468.83 131.12 L468.99 130.53 L469.14 130.45 L469.3 130.7 L469.46 130.49 L469.61 130.41 L469.77 130.82 L469.92 131 L470.08 130.64 L470.23 130.63 L470.39 130.67 L470.55 130.29 L470.7 130.08 L470.86 130.69 L471.01 130.37 L471.17 130.3 L471.33 130.37 L471.48 130.27 L471.64 130.68 L471.79 130.36 L471.95 129.99 L472.1 130.34 L472.26 130.75 L472.42 130.4 L472.57 130.21 L472.73 130.47 L472.88 130.73 L473.04 130.13 L473.2 130.93 L473.35 130.43 L473.51 130.58 L473.66 130.91 L473.82 130.22 L473.98 130.47 L474.13 130.9 L474.29 130.4 L474.44 130.69 L474.6 131.12 L474.75 130.77 L474.91 130.5 L475.07 130.39 L475.22 130.52 L475.38 130.56 L475.53 130.43 L475.69 130.61 L475.85 130.15 L476 130.25 L476.16 129.71 L476.31 128.51 L476.47 126.75 L476.63 122.76 L476.78 116.09 L476.94 108.02 L477.09 97.62 L477.25 85.33 L477.4 72.91 L477.56 60.58 L477.72 50.2 L477.87 41.36 L478.03 35.6 L478.18 30.65 L478.34 28.84 L478.5 28.1 L478.65 27.41 L478.81 27.43 L478.96 27.33 L479.12 28.03 L479.28 28.5 L479.43 30.05 L479.59 34.61 L479.74 38.86 L479.9 45.48 L480.05 53.45 L480.21 63.61 L480.37 74.01 L480.52 84.54 L480.68 95.36 L480.83 104.57 L480.99 113.44 L481.15 119.64 L481.3 123.53 L481.46 127.71 L481.61 129.67 L481.77 130.49 L481.93 131.04 L482.08 131.04 L482.24 131.35 L482.39 131.65 L482.55 131.39 L482.7 130.7 L482.86 131.1 L483.02 132.27 L483.17 131.52 L483.33 131.73 L483.48 131.3 L483.64 131.53 L483.8 130.93 L483.95 131.21 L484.11 131.22 L484.26 131.42 L484.42 131.49 L484.58 131.37 L484.73 131.09 L484.89 131.3 L485.04 131.55 L485.2 131.08 L485.35 131.38 L485.51 131.45 L485.67 131.64 L485.82 131.57 L485.98 131.57 L486.13 132.18 L486.29 131.07 L486.45 131.19 L486.6 131.4 L486.76 131.02 L486.91 131.18 L487.07 131.19 L487.23 131.99 L487.38 131.33 L487.54 131.09 L487.69 130.77 L487.85 130.68 L488 130.78 L488.16 131.51 L488.32 131.79 L488.47 130.98 L488.63 131.11 L488.78 130.83 L488.94 131.12 L489.1 131.01 L489.25 131.48 L489.41 130.9 L489.56 131.14 L489.72 130.9 L489.88 130.85 L490.03 131 L490.19 130.86 L490.34 130.94 L490.5 130.7 L490.65 130.76 L490.81 131.04 L490.97 131.04 L491.12 130.36 L491.28 130.87 L491.43 130.55 L491.59 130.71 L491.75 130.97 L491.9 131.01 L492.06 130.75 L492.21 130.7 L492.37 130.58 L492.53 131.11 L492.68 130.91 L492.84 130.76 L492.99 130.26 L493.15 131.39 L493.3 130.58 L493.46 130.85 L493.62 130.56 L493.77 130.82 L493.93 130.57 L494.08 130.22 L494.24 130.56 L494.4 130.53 L494.55 130.54 L494.71 130.86 L494.86 130.48 L495.02 130.69 L495.17 130.86 L495.33 130.63 L495.49 130.68 L495.64 130.4 L495.8 130.62 L495.95 130.76 L496.11 130.19 L496.27 130.32 L496.42 130.24 L496.58 130.42 L496.73 130.63 L496.89 130.71 L497.05 130.67 L497.2 130.32 L497.36 130.56 L497.51 131.01 L497.67 130.6 L497.82 130.99 L497.98 130.54 L498.14 130.93 L498.29 130.94 L498.45 130.55 L498.6 130.6 L498.76 131.05 L498.92 130.36 L499.07 129.96 L499.23 131 L499.38 130.05 L499.54 130.77 L499.7 130.72 L499.85 130.63 L500.01 130.99 L500.16 130.2 L500.32 130.43 L500.47 130.79 L500.63 130.65 L500.79 131.01 L500.94 130.67 L501.1 130.3 L501.25 131.06 L501.41 130.7 L501.57 130.53 L501.72 130.27 L501.88 130.18 L502.03 130.7 L502.19 130.78 L502.35 130.44 L502.5 130.68 L502.66 130.66 L502.81 130.26 L502.97 130.09 L503.12 130.49 L503.28 130.63 L503.44 130.41 L503.59 131.11 L503.75 130.58 L503.9 130.87 L504.06 129.89 L504.22 130.36 L504.37 130.53 L504.53 130.63 L504.68 131.29 L504.84 130.37 L505 130.1 L505.15 130.78 L505.31 130.37 L505.46 130.36 L505.62 131.01 L505.77 130.3 L505.93 130.18 L506.09 130.51 L506.24 130.59 L506.4 130.34 L506.55 131.01 L506.71 130.54 L506.87 130.24 L507.02 130.83 L507.18 129.97 L507.33 129.82 L507.49 129.06 L507.65 126.09 L507.8 122.21 L507.96 115.52 L508.11 107.24 L508.27 95.79 L508.42 84.06 L508.58 71.11 L508.74 59.4 L508.89 48.91 L509.05 40.18 L509.2 34.46 L509.36 30.76 L509.52 28.86 L509.67 27.25 L509.83 27.13 L509.98 27.42 L510.14 27.32 L510.3 28.07 L510.45 29.08 L510.61 31.64 L510.76 34.65 L510.92 39.58 L511.07 46.53 L511.23 54.42 L511.39 64.14 L511.54 75 L511.7 85.74 L511.85 96.71 L512.01 106.19 L512.17 114.01 L512.32 120.37 L512.48 124.61 L512.63 128.15 L512.79 129.18 L512.95 130.8 L513.1 131.12 L513.26 131.69 L513.41 131.22 L513.57 131.07 L513.72 131.14 L513.88 131.22 L514.04 131.91 L514.19 131.7 L514.35 131.61 L514.5 131.75 L514.66 131.16 L514.82 131.43 L514.97 131.49 L515.13 131.34 L515.28 131.75 L515.44 131.74 L515.6 131.73 L515.75 131.33 L515.91 131.37 L516.06 131.29 L516.22 131.14 L516.37 131.83 L516.53 131.59 L516.69 131.38 L516.84 131.8 L517 131.55 L517.15 131.1 L517.31 131.06 L517.47 131.06 L517.62 131.34 L517.78 131.4 L517.93 131.01 L518.09 131.41 L518.25 131.19 L518.4 130.9 L518.56 131.36 L518.71 131.42 L518.87 131.23 L519.02 131.04 L519.18 131.05 L519.34 131.13 L519.49 131 L519.65 131.6 L519.8 131.37 L519.96 131.05 L520.12 131.35 L520.27 131.45 L520.43 131.39 L520.58 131.29 L520.74 131.07 L520.89 131.29 L521.05 130.91 L521.21 130.48 L521.36 130.99 L521.52 130.57 L521.67 130.83 L521.83 131.22 L521.99 130.96 L522.14 131.15 L522.3 130.64 L522.45 131.17 L522.61 130.45 L522.77 130.65 L522.92 131.38 L523.08 130.57 L523.23 130.34 L523.39 131 L523.54 130.48 L523.7 131.26 L523.86 130.66 L524.01 131.2 L524.17 130.58 L524.32 131.22 L524.48 131.46 L524.64 130.58 L524.79 130.03 L524.95 130.85 L525.1 130.43 L525.26 130.63 L525.42 130.75 L525.57 130.48 L525.73 130.18 L525.88 130.99 L526.04 130.47 L526.19 130.53 L526.35 131.04 L526.51 130.16 L526.66 130.06 L526.82 130.89 L526.97 130.11 L527.13 130.59 L527.29 130.65 L527.44 130.17 L527.6 130.54 L527.75 130.51 L527.91 130.16 L528.07 130.22 L528.22 130.34 L528.38 130.99 L528.53 131.04 L528.69 130.26 L528.84 130.85 L529 130.54 L529.16 130.89 L529.31 130.63 L529.47 130.95 L529.62 130.11 L529.78 130.87 L529.94 130.61 L530.09 130.63 L530.25 130.23 L530.4 130.98 L530.56 130.59 L530.72 130.64 L530.87 130.42 L531.03 130.44 L531.18 130.71 L531.34 130.5 L531.49 130.68 L531.65 130.44 L531.81 130.6 L531.96 130.76 L532.12 130.58 L532.27 130.47 L532.43 129.92 L532.59 130.71 L532.74 130.48 L532.9 130.15 L533.05 131.17 L533.21 131.07 L533.37 130.91 L533.52 130.6 L533.68 129.87 L533.83 130.46 L533.99 130.22 L534.14 130.63 L534.3 131.28 L534.46 131.23 L534.61 130.28 L534.77 130.52 L534.92 130.94 L535.08 130.25 L535.24 131.01 L535.39 130.25 L535.55 130.15 L535.7 130.79 L535.86 130.89 L536.02 130.33 L536.17 130.88 L536.33 130.32 L536.48 130.91 L536.64 130.34 L536.79 130.54 L536.95 130.69 L537.11 130.83 L537.26 130.5 L537.42 131.11 L537.57 130.65 L537.73 130.68 L537.89 130.37 L538.04 130.9 L538.2 129.96 L538.35 130.3 L538.51 129.91 L538.67 127.84 L538.82 125.17 L538.98 121.32 L539.13 114.9 L539.29 105.65 L539.44 94.81 L539.6 82.36 L539.76 69.21 L539.91 57.72 L540.07 47.62 L540.22 39.55 L540.38 33.94 L540.54 30.05 L540.69 28.08 L540.85 27.63 L541 27.3 L541.16 26.63 L541.32 27.3 L541.47 27.91 L541.63 28.39 L541.78 31.74 L541.94 35.59 L542.09 40.21 L542.25 47.52 L542.41 55.92 L542.56 65.57 L542.72 76.46 L542.87 87.62 L543.03 98.04 L543.19 107.41 L543.34 114.69 L543.5 121.22 L543.65 125.45 L543.81 127.49 L543.97 129.9 L544.12 130.23 L544.28 130.73 L544.43 131.36 L544.59 131.81 L544.74 131.31 L544.9 131.26 L545.06 131.18 L545.21 131.45 L545.37 131.13 L545.52 131.08 L545.68 131.78 L545.84 131.07 L545.99 131.43 L546.15 131.64 L546.3 131.57 L546.46 130.94 L546.61 131.19 L546.77 131.99 L546.93 131.44 L547.08 131.5 L547.24 131.51 L547.39 131.6 L547.55 131.86 L547.71 131.19 L547.86 131.69 L548.02 131.52 L548.17 131.57 L548.33 131.6 L548.49 131.16 L548.64 131.25 L548.8 131.54 L548.95 131.61 L549.11 131.45 L549.26 131.03 L549.42 131.25 L549.58 131.21 L549.73 131.35 L549.89 131.31 L550.04 131.16 L550.2 131.73 L550.36 130.73 L550.51 131.4 L550.67 131.32 L550.82 130.75 L550.98 131.05 L551.14 131.09 L551.29 131.25 L551.45 131.51 L551.6 130.99 L551.76 130.69 L551.91 131.27 L552.07 130.6 L552.23 131.3 L552.38 131.17 L552.54 130.8 L552.69 130.93 L552.85 130.72 L553.01 131.11 L553.16 131.18 L553.32 131.4 L553.47 131.2 L553.63 131.15 L553.79 131.24 L553.94 130.73 L554.1 130.99 L554.25 131.36 L554.41 130.07 L554.56 131.01 L554.72 131.12 L554.88 130.39 L555.03 130.4 L555.19 131.06 L555.34 131.14 L555.5 130.99 L555.66 130.38 L555.81 130.78 L555.97 130.92 L556.12 130.69 L556.28 130.33 L556.44 131.06 L556.59 130.77 L556.75 131.05 L556.9 130.02 L557.06 130.12 L557.21 130.36 L557.37 130.67 L557.53 130.44 L557.68 131.22 L557.84 130.54 L557.99 131 L558.15 130.99 L558.31 130.81 L558.46 130.71 L558.62 130.44 L558.77 130.4 L558.93 130.52 L559.09 130.87 L559.24 130.4 L559.4 130.63 L559.55 130.25 L559.71 130.85 L559.86 131.38 L560.02 130.72 L560.18 129.97 L560.33 130.45 L560.49 130.64 L560.64 130.33 L560.8 130.44 L560.96 130.45 L561.11 130.73 L561.27 130.56 L561.42 130.52 L561.58 130.76 L561.74 130.9 L561.89 130.54 L562.05 130.3 L562.2 130.39 L562.36 130.43 L562.51 130.43 L562.67 129.83 L562.83 130.5 L562.98 130.27 L563.14 130.01 L563.29 130.56 L563.45 130.5 L563.61 130.27 L563.76 130.09 L563.92 130.48 L564.07 130.47 L564.23 130.55 L564.39 130.92 L564.54 130.25 L564.7 130.64 L564.85 131.06 L565.01 130.61 L565.16 131.07 L565.32 130.86 L565.48 130.56 L565.63 130.83 L565.79 130.26 L565.94 130.99 L566.1 130.49 L566.26 130.41 L566.41 130.15 L566.57 130.3 L566.72 130.5 L566.88 130.55 L567.04 130.59 L567.19 130.24 L567.35 130.76 L567.5 130.42 L567.66 130.59 L567.81 130.5 L567.97 130.64 L568.13 129.96 L568.28 130.76 L568.44 130.5 L568.59 130.49 L568.75 130.39 L568.91 130.44 L569.06 130.44 L569.22 130.25 L569.37 130.86 L569.53 130.15 L569.68 129.82 L569.84 127.92 L570 125.55 L570.15 120.84 L570.31 113.67 L570.46 103.98 L570.62 92.96 L570.78 80.6 L570.93 67.71 L571.09 56.72 L571.24 47.13 L571.4 38.93 L571.56 33.44 L571.71 29.61 L571.87 27.56 L572.02 27.85 L572.18 26.61 L572.33 26.87 L572.49 27.2 L572.65 27.84 L572.8 28.49 L572.96 32.08 L573.11 35.95 L573.27 41.12 L573.43 48.63 L573.58 56.81 L573.74 67 L573.89 77.7 L574.05 88.64 L574.21 99.43 L574.36 107.93 L574.52 116.16 L574.67 121.38 L574.83 126.16 L574.98 128.23 L575.14 130.12 L575.3 130.72 L575.45 131.33 L575.61 131.95 L575.76 131.72 L575.92 131.42 L576.08 131.27 L576.23 131.88 L576.39 132.07 L576.54 131.72 L576.7 131.53 L576.86 131.66 L577.01 131.71 L577.17 131.23 L577.32 131.2 L577.48 131.26 L577.63 131.74 L577.79 131.45 L577.95 131.52 L578.1 131.87 L578.26 131.2 L578.41 131.43 L578.57 131.58 L578.73 131.03 L578.88 131.21 L579.04 131.17 L579.19 131.06 L579.35 131.19 L579.51 131.75 L579.66 131.48 L579.82 131.07 L579.97 131.56 L580.13 131.32 L580.28 131.2 L580.44 130.89 L580.6 130.91 L580.75 131.01 L580.91 131.3 L581.06 130.97 L581.22 131.07 L581.38 131.25 L581.53 130.79 L581.69 131.02 L581.84 131.36 L582 130.77 L582.16 131.18 L582.31 130.92 L582.47 131.51 L582.62 131.06 L582.78 131.31 L582.93 131.3 L583.09 131.55 L583.25 130.38 L583.4 131.02 L583.56 130.89 L583.71 130.62 L583.87 130.96 L584.03 130.76 L584.18 131.28 L584.34 130.82 L584.49 130.98 L584.65 130.71 L584.81 130.78 L584.96 131.22 L585.12 131.34 L585.27 131.09 L585.43 130.58 L585.58 130.65 L585.74 130.65 L585.9 131.33 L586.05 131.51 L586.21 130.91 L586.36 130.82 L586.52 130.89 L586.68 130.6 L586.83 130.75 L586.99 131.03 L587.14 130.93 L587.3 130.63 L587.46 130.65 L587.61 130.68 L587.77 130.01 L587.92 130.72 L588.08 130.61 L588.23 130.92 L588.39 130.74 L588.55 130.48 L588.7 130.46 L588.86 130.67 L589.01 130.5 L589.17 130.6 L589.33 131.15 L589.48 131.55 L589.64 129.94 L589.79 130.36 L589.95 130.62 L590.11 131.1 L590.26 130.96 L590.42 130.2 L590.57 131.39 L590.73 130.68 L590.88 130.34 L591.04 130.55 L591.2 130.37 L591.35 130.62 L591.51 129.9 L591.66 130.88 L591.82 130.97 L591.98 130.5 L592.13 130.17 L592.29 130.59 L592.44 130.28 L592.6 130.73 L592.76 130.92 L592.91 130.17 L593.07 130.13 L593.22 130.14 L593.38 130.7 L593.53 130.9 L593.69 130.91 L593.85 130.64 L594 130.41 L594.16 130.43 L594.31 130.98 L594.47 130.52 L594.63 130.57 L594.78 130.55 L594.94 130.58 L595.09 130.63 L595.25 130.4 L595.4 130.54 L595.56 130.51 L595.72 130.77 L595.87 130.46 L596.03 130.61 L596.18 131.18 L596.34 130.43 L596.5 130.65 L596.65 130.31 L596.81 130.62 L596.96 130.6 L597.12 130.51 L597.28 130.57 L597.43 130.7 L597.59 131.08 L597.74 130.04 L597.9 131.02 L598.05 130.67 L598.21 130.38 L598.37 130.46 L598.52 130.41 L598.68 130.35 L598.83 130.21 L598.99 130.49 L599.15 129.74 L599.3 130.86 L599.46 130.51 L599.61 130.67 L599.77 130.73 L599.93 130.49 L600.08 130.15 L600.24 130.76 L600.39 130.73 L600.55 130.21 L600.7 129.94 L600.86 128.78 L601.02 127.43 L601.17 124.68 L601.33 119.93 L601.48 112.56 L601.64 103.12 L601.8 92.01 L601.95 79.1 L602.11 66.64 L602.26 55.17 L602.42 45.56 L602.58 37.52 L602.73 32.64 L602.89 29.4 L603.04 28.22 L603.2 27.73 L603.35 27.4 L603.51 27.26 L603.67 27.58 L603.82 28.11 L603.98 29.13 L604.13 32.4 L604.29 36.68 L604.45 42.08 L604.6 49.43 L604.76 58.09 L604.91 68.63 L605.07 79.22 L605.23 89.89 L605.38 100.34 L605.54 109.61 L605.69 116.87 L605.85 122.2 L606 125.97 L606.16 128.34 L606.32 130.07 L606.47 131.18 L606.63 130.77 L606.78 131.26 L606.94 131.3 L607.1 131.35 L607.25 131.75 L607.41 131.55 L607.56 131.4 L607.72 131.18 L607.88 131.46 L608.03 132.37 L608.19 131.55 L608.34 131.38 L608.5 131.11 L608.65 131.28 L608.81 130.77 L608.97 131.07 L609.12 131.09 L609.28 131.2 L609.43 131.86 L609.59 131.21 L609.75 131.28 L609.9 131.59 L610.06 131.26 L610.21 131.3 L610.37 131.54 L610.53 131.43 L610.68 131.46 L610.84 131.31 L610.99 131.48 L611.15 131.19 L611.3 131.88 L611.46 131.4 L611.62 131.78 L611.77 131.42 L611.93 131.12 L612.08 131.25 L612.24 131.27 L612.4 131.2 L612.55 130.75 L612.71 131.5 L612.86 130.91 L613.02 131.58 L613.18 131.26 L613.33 131.07 L613.49 131.34 L613.64 131.02 L613.8 130.85 L613.95 131.38 L614.11 131.05 L614.27 131.12 L614.42 131.55 L614.58 131.03 L614.73 131.19 L614.89 130.56 L615.05 131.18 L615.2 130.42 L615.36 131.05 L615.51 130.32 L615.67 130.71 L615.83 130.72 L615.98 130.61 L616.14 130.57 L616.29 130.41 L616.45 130.3 L616.6 130.89 L616.76 131.13 L616.92 131.53 L617.07 130.86 L617.23 130.53 L617.38 130.63 L617.54 130.69 L617.7 130.82 L617.85 130.89 L618.01 130.78 L618.16 130.58 L618.32 131.19 L618.48 130.47 L618.63 131.09 L618.79 130.71 L618.94 130.84 L619.1 130.76 L619.25 130.94 L619.41 130.97 L619.57 130.7 L619.72 130.94 L619.88 129.92 L620.03 130.74 L620.19 130.81 L620.35 130.77 L620.5 130.92 L620.66 131.31 L620.81 130.68 L620.97 130.51 L621.12 131.03 L621.28 130.6 L621.44 130.94 L621.59 130.61 L621.75 130.49 L621.9 130.45 L622.06 130.47 L622.22 130.79 L622.37 130.33 L622.53 130.71 L622.68 130.48 L622.84 130.38 L623 130.67 L623.15 130.95 L623.31 130.41 L623.46 130.9 L623.62 130.83 L623.77 130.89 L623.93 130.34 L624.09 130.62 L624.24 131.22 L624.4 130.37 L624.55 129.98 L624.71 130.06 L624.87 130.74 L625.02 130.55 L625.18 130.43 L625.33 130.32 L625.49 130.57 L625.65 130.89 L625.8 130.36 L625.96 130.4 L626.11 130.96 L626.27 130.68 L626.42 130.5 L626.58 130.58 L626.74 130.42 L626.89 130.35 L627.05 130.42 L627.2 130.61 L627.36 130.96 L627.52 130.4 L627.67 130.17 L627.83 130.01 L627.98 130.58 L628.14 130.58 L628.3 130.16 L628.45 130.16 L628.61 130.48 L628.76 130.37 L628.92 130.79 L629.07 130.41 L629.23 130.81 L629.39 130.62 L629.54 130.61 L629.7 130.71 L629.85 131.18 L630.01 130.81 L630.17 130.48 L630.32 130.59 L630.48 130.69 L630.63 130.45 L630.79 130.38 L630.95 130.33 L631.1 130.81 L631.26 130.57 L631.41 130.66 L631.57 130.77 L631.72 130.82 L631.88 130.07 L632.04 129.45 L632.19 126.83 L632.35 124.28 L632.5 119.13 L632.66 111.67 L632.82 101.19 L632.97 90.36 L633.13 77.57 L633.28 65.3 L633.44 53.83 L633.6 44.4 L633.75 36.93 L633.91 32.75 L634.06 29.4 L634.22 27.47 L634.37 27.55 L634.53 27.38 L634.69 27.6 L634.84 28.28 L635 28.21 L635.15 29.31 L635.31 33.03 L635.47 37.53 L635.62 42.7 L635.78 50.26 L635.93 59.07 L636.09 69.37 L636.25 80.63 L636.4 91.31 L636.56 102.08 L636.71 110.05 L636.87 117.43 L637.02 122.5 L637.18 126.18 L637.34 128.9 L637.49 130.21 L637.65 131.12 L637.8 131.81 L637.96 131.4 L638.12 131.38 L638.27 131.76 L638.43 131.26 L638.58 131.44 L638.74 131.34 L638.9 131.7 L639.05 131.99 L639.21 131.26 L639.36 131.31 L639.52 131.52 L639.67 131.61 L639.83 131.56 L639.99 131.52 L640.14 131.63 L640.3 132.05 L640.45 131.25 L640.61 131.89 L640.77 131.55 L640.92 131.54 L641.08 131.37 L641.23 131.9 L641.39 131.08 L641.55 131.22 L641.7 131.18 L641.86 131.03 L642.01 131.6 L642.17 132.26 L642.32 131.25 L642.48 130.96 L642.64 130.98 L642.79 131.46 L642.95 131.31 L643.1 131.19 L643.26 131.77 L643.42 131.43 L643.57 131.4 L643.73 130.75 L643.88 131.37 L644.04 130.72 L644.19 131.14 L644.35 131.61 L644.51 130.48 L644.66 131.37 L644.82 130.9 L644.97 130.57 L645.13 131.19 L645.29 131.37 L645.44 130.71 L645.6 130.97 L645.75 131.32 L645.91 131.27 L646.07 131.05 L646.22 130.65 L646.38 130.99 L646.53 130.71 L646.69 130.4 L646.84 130.5 L647 130.44 L647.16 130.48 L647.31 131.28 L647.47 130.46 L647.62 130.7 L647.78 130.82 L647.94 131.08 L648.09 131.22 L648.25 131.07 L648.4 130.75 L648.56 131.07 L648.72 130.96 L648.87 130.89 L649.03 130.51 L649.18 130.78 L649.34 130.73 L649.49 130.3 L649.65 130.77 L649.81 130.5 L649.96 130.96 L650.12 130.56 L650.27 130.61 L650.43 130.59 L650.59 130.77 L650.74 130.93 L650.9 130.72 L651.05 130.76 L651.21 130.32 L651.37 130.36 L651.52 130.96 L651.68 130.43 L651.83 130.74 L651.99 130.47 L652.14 130.74 L652.3 131.02 L652.46 130.31 L652.61 130.47 L652.77 130.94 L652.92 131.13 L653.08 130.74 L653.24 130.93 L653.39 130.69 L653.55 130.41 L653.7 130.16 L653.86 130.68 L654.02 130.19 L654.17 130.25 L654.33 130.7 L654.48 131.06 L654.64 130.33 L654.79 130.4 L654.95 129.9 L655.11 130.17 L655.26 130.35 L655.42 130.09 L655.57 130.87 L655.73 130.52 L655.89 130.65 L656.04 130.07 L656.2 130.41 L656.35 131.45 L656.51 130.18 L656.67 130.83 L656.82 130.35 L656.98 130.71 L657.13 130.5 L657.29 130.39 L657.44 130.51 L657.6 130.84 L657.76 130.17 L657.91 130.45 L658.07 130.57 L658.22 130.36 L658.38 130.72 L658.54 130.03 L658.69 130.5 L658.85 130.46 L659 130.47 L659.16 130.83 L659.32 130.9 L659.47 130.5 L659.63 130.46 L659.78 130.18 L659.94 130.44 L660.09 130.88 L660.25 130.41 L660.41 130.33 L660.56 130.28 L660.72 130.47 L660.87 130.92 L661.03 130.23 L661.19 130.77 L661.34 130.4 L661.5 131.02 L661.65 130.35 L661.81 130.79 L661.97 130.26 L662.12 130.06 L662.28 130.23 L662.43 130.9 L662.59 130.82 L662.74 130.75 L662.9 130.17 L663.06 129.86 L663.21 128.98 L663.37 127.04 L663.52 123.55 L663.68 118.06 L663.84 109.95 L663.99 100.37 L664.15 88.48 L664.3 76.46 L664.46 63.96 L664.62 52.69 L664.77 43.7 L664.93 36.44 L665.08 31.57 L665.24 29.26 L665.39 27.95 L665.55 27.52 L665.71 27.28 L665.86 27.5 L666.02 27.45 L666.17 28.22 L666.33 29.8 L666.49 33.1 L666.64 37.62 L666.8 43.58 L666.95 50.82 L667.11 60.59 L667.27 70.74 L667.42 81.91 L667.58 92.88 L667.73 102.87 L667.89 111.59 L668.04 118.24 L668.2 123.53 L668.36 126.96 L668.51 128.68 L668.67 130.31 L668.82 130.6 L668.98 131.16 L669.14 131.12 L669.29 131.6 L669.45 131.4 L669.6 130.7 L669.76 131.23 L669.91 131.18 L670.07 131.41 L670.23 131.23 L670.38 131.81 L670.54 131.73 L670.69 131.36 L670.85 131.25 L671.01 131.6 L671.16 131.53 L671.32 131.58 L671.47 131.53 L671.63 131.81 L671.79 131.87 L671.94 131.48 L672.1 131.95 L672.25 131.72 L672.41 131.62 L672.56 131.72 L672.72 131.34 L672.88 131.53 L673.03 131.41 L673.19 131.66 L673.34 131.57 L673.5 131.2 L673.66 131.23 L673.81 131.45 L673.97 131.2 L674.12 131.23 L674.28 131.23 L674.44 130.8 L674.59 131.35 L674.75 131.1 L674.9 131.08 L675.06 131.25 L675.21 131.5 L675.37 130.95 L675.53 131.06 L675.68 131.1 L675.84 131.09 L675.99 131.08 L676.15 131.32 L676.31 130.96 L676.46 131.55 L676.62 131.02 L676.77 131.43 L676.93 131.08 L677.09 130.76 L677.24 131.02 L677.4 131.07 L677.55 130.77 L677.71 130.98 L677.86 131.01 L678.02 130.99 L678.18 130.43 L678.33 130.66 L678.49 130.7 L678.64 131.16 L678.8 130.63 L678.96 131.17 L679.11 130.65 L679.27 131.1 L679.42 130.21 L679.58 131.24 L679.74 130.4 L679.89 130.51 L680.05 131.24 L680.2 130.79 L680.36 130.3 L680.51 130.38 L680.67 131.17 L680.83 130.84 L680.98 131.02 L681.14 130.97 L681.29 130.86 L681.45 130.14" fill="none" stroke="#000" stroke-width="1.1" stroke-linejoin="round" />
<rect x="432.2" y="13" width="249.25" height="130.2" fill="none" stroke="#222" stroke-width="1.0"/>
<line x1="428.2" y1="130.18" x2="432.2" y2="130.18" stroke="#333" stroke-width="1.0"/>
<line x1="428.2" y1="104.14" x2="432.2" y2="104.14" stroke="#333" stroke-width="1.0"/>
<line x1="428.2" y1="78.1" x2="432.2" y2="78.1" stroke="#333" stroke-width="1.0"/>
<line x1="428.2" y1="52.06" x2="432.2" y2="52.06" stroke="#333" stroke-width="1.0"/>
<line x1="428.2" y1="26.02" x2="432.2" y2="26.02" stroke="#333" stroke-width="1.0"/>
<line x1="430.2" y1="143.2" x2="432.2" y2="143.2" stroke="#333" stroke-width="1.0"/>
<line x1="430.2" y1="117.16" x2="432.2" y2="117.16" stroke="#333" stroke-width="1.0"/>
<line x1="430.2" y1="91.12" x2="432.2" y2="91.12" stroke="#333" stroke-width="1.0"/>
<line x1="430.2" y1="65.08" x2="432.2" y2="65.08" stroke="#333" stroke-width="1.0"/>
<line x1="430.2" y1="39.04" x2="432.2" y2="39.04" stroke="#333" stroke-width="1.0"/>
<line x1="430.2" y1="13" x2="432.2" y2="13" stroke="#333" stroke-width="1.0"/>
<line x1="432.2" y1="143.2" x2="432.2" y2="147.2" stroke="#333" stroke-width="1.0"/>
<line x1="494.51" y1="143.2" x2="494.51" y2="147.2" stroke="#333" stroke-width="1.0"/>
<line x1="556.83" y1="143.2" x2="556.83" y2="147.2" stroke="#333" stroke-width="1.0"/>
<line x1="619.14" y1="143.2" x2="619.14" y2="147.2" stroke="#333" stroke-width="1.0"/>
<line x1="681.45" y1="143.2" x2="681.45" y2="147.2" stroke="#333" stroke-width="1.0"/>
<line x1="463.36" y1="143.2" x2="463.36" y2="145.2" stroke="#333" stroke-width="1.0"/>
<line x1="525.67" y1="143.2" x2="525.67" y2="145.2" stroke="#333" stroke-width="1.0"/>
<line x1="587.98" y1="143.2" x2="587.98" y2="145.2" stroke="#333" stroke-width="1.0"/>
<line x1="650.29" y1="143.2" x2="650.29" y2="145.2" stroke="#333" stroke-width="1.0"/>
<path d="M432.2 306.26 L432.3 308.17 L432.41 304.22 L432.51 301.76 L432.62 299.13 L432.72 302.9 L432.82 305.34 L432.93 306.19 L433.03 300.55 L433.14 297.3 L433.24 302.3 L433.34 307.83 L433.45 306.82 L433.55 297.42 L433.65 302.55 L433.76 309.66 L433.86 303.6 L433.97 307.57 L434.07 305.61 L434.17 305.08 L434.28 305.91 L434.38 301.26 L434.49 303.52 L434.59 305.45 L434.69 301.78 L434.8 300.23 L434.9 309.31 L435.01 304.22 L435.11 306.87 L435.21 303.91 L435.32 308 L435.42 303.19 L435.52 303.4 L435.63 304.37 L435.73 307.1 L435.84 304.7 L435.94 307.25 L436.04 308.21 L436.15 302.41 L436.25 307.3 L436.36 298.93 L436.46 300.59 L436.56 310.54 L436.67 302.2 L436.77 307.24 L436.88 303.06 L436.98 303.02 L437.08 310.46 L437.19 304.01 L437.29 304.09 L437.39 299.61 L437.5 307.46 L437.6 300.41 L437.71 307.13 L437.81 304.3 L437.91 306.15 L438.02 297.74 L438.12 300.95 L438.23 294.11 L438.33 300.65 L438.43 299.88 L438.54 299.87 L438.64 305.15 L438.75 303.16 L438.85 297.93 L438.95 304.29 L439.06 302.12 L439.16 302.84 L439.27 300.5 L439.37 304.01 L439.47 303.18 L439.58 301.68 L439.68 302.12 L439.78 305.56 L439.89 299.05 L439.99 306.93 L440.1 306.44 L440.2 306.58 L440.3 298.22 L440.41 302.84 L440.51 304.81 L440.62 305.12 L440.72 299.15 L440.82 304.12 L440.93 304.49 L441.03 297.19 L441.14 303.19 L441.24 299.44 L441.34 297.64 L441.45 298.48 L441.55 296.27 L441.65 290.4 L441.76 296.1 L441.86 297.75 L441.97 298.75 L442.07 291.85 L442.17 291.27 L442.28 288 L442.38 289.54 L442.49 288.61 L442.59 288.59 L442.69 287.14 L442.8 284.17 L442.9 285.63 L443.01 283.73 L443.11 277.45 L443.21 282.48 L443.32 289.77 L443.42 278.85 L443.52 284.03 L443.63 288.87 L443.73 283.16 L443.84 286.6 L443.94 289.09 L444.04 289.42 L444.15 290.74 L444.25 287.38 L444.36 283.99 L444.46 288.14 L444.56 285.36 L444.67 280.28 L444.77 289.05 L444.88 283.68 L444.98 284.35 L445.08 285.4 L445.19 283.98 L445.29 279.7 L445.39 276.95 L445.5 277.96 L445.6 274.64 L445.71 271.05 L445.81 270.17 L445.91 266.67 L446.02 265.41 L446.12 262.95 L446.23 257.52 L446.33 257.4 L446.43 255.47 L446.54 251.27 L446.64 250.78 L446.75 246.16 L446.85 240.67 L446.95 236.92 L447.06 231.63 L447.16 228.75 L447.27 224.97 L447.37 217.4 L447.47 216.79 L447.58 218.18 L447.68 217.17 L447.78 218.53 L447.89 220.47 L447.99 220.63 L448.1 221.93 L448.2 221.81 L448.3 225.31 L448.41 226.74 L448.51 228.82 L448.62 231.16 L448.72 234.17 L448.82 235.4 L448.93 236.9 L449.03 240.18 L449.14 245.31 L449.24 248.67 L449.34 249.56 L449.45 254.04 L449.55 256.95 L449.65 262.14 L449.76 257.42 L449.86 262.44 L449.97 269.64 L450.07 267.83 L450.17 269.28 L450.28 281.61 L450.38 279.2 L450.49 281.1 L450.59 280.3 L450.69 284.6 L450.8 286.86 L450.9 288.13 L451.01 283.72 L451.11 284.15 L451.21 294.26 L451.32 296.9 L451.42 285.9 L451.52 299.36 L451.63 298.94 L451.73 297.68 L451.84 296.87 L451.94 295.6 L452.04 298.43 L452.15 303.44 L452.25 298.97 L452.36 300.28 L452.46 294.74 L452.56 301.86 L452.67 306.9 L452.77 306.07 L452.88 297.17 L452.98 304.57 L453.08 310.42 L453.19 304.96 L453.29 302.93 L453.4 298.65 L453.5 306.78 L453.6 300.67 L453.71 300.24 L453.81 305.75 L453.91 303.9 L454.02 296.74 L454.12 296.94 L454.23 300.13 L454.33 302.06 L454.43 299.11 L454.54 303.81 L454.64 303.65 L454.75 306.46 L454.85 303.29 L454.95 303.61 L455.06 293.12 L455.16 304.02 L455.27 298.64 L455.37 298.46 L455.47 304 L455.58 299.02 L455.68 311.31 L455.78 302.97 L455.89 300.17 L455.99 312.13 L456.1 307.58 L456.2 299.44 L456.3 304.26 L456.41 307.35 L456.51 304.69 L456.62 305.31 L456.72 300.65 L456.82 301.65 L456.93 304.35 L457.03 305.76 L457.14 303.51 L457.24 298.45 L457.34 302.03 L457.45 300.97 L457.55 303.87 L457.65 308.06 L457.76 305.93 L457.86 300.92 L457.97 302.94 L458.07 306.64 L458.17 309.26 L458.28 302.91 L458.38 304.56 L458.49 304.6 L458.59 304.53 L458.69 302.27 L458.8 302.23 L458.9 299.78 L459.01 299.91 L459.11 298.42 L459.21 300.35 L459.32 304.55 L459.42 303.52 L459.53 301.5 L459.63 304.46 L459.73 301.3 L459.84 299.08 L459.94 306.26 L460.04 309.82 L460.15 298.93 L460.25 303.25 L460.36 300.71 L460.46 308.21 L460.56 296.95 L460.67 300.6 L460.77 303.78 L460.88 304.61 L460.98 302.9 L461.08 303.93 L461.19 304.34 L461.29 307.43 L461.4 298.68 L461.5 303.46 L461.6 303.04 L461.71 302.97 L461.81 311.98 L461.91 301.38 L462.02 304.52 L462.12 304.38 L462.23 303.06 L462.33 306.89 L462.43 300.21 L462.54 305.87 L462.64 306.63 L462.75 306.48 L462.85 302.73 L462.95 300.57 L463.06 305.5 L463.16 308.86 L463.27 299.41 L463.37 307.22 L463.47 298.92 L463.58 303.51 L463.68 305.87 L463.78 305.66 L463.89 301.61 L463.99 300.04 L464.1 304.03 L464.2 299.83 L464.3 295.64 L464.41 304.07 L464.51 307.52 L464.62 307.17 L464.72 308.41 L464.82 305.65 L464.93 305.96 L465.03 308.16 L465.14 301.35 L465.24 312.89 L465.34 308.14 L465.45 295.89 L465.55 299.48 L465.65 301.37 L465.76 301.61 L465.86 296.78 L465.97 301.31 L466.07 302.99 L466.17 307.79 L466.28 303.54 L466.38 305.96 L466.49 305.86 L466.59 305.89 L466.69 303.42 L466.8 304.47 L466.9 300.05 L467.01 308.12 L467.11 303.87 L467.21 296.41 L467.32 303.09 L467.42 298.83 L467.53 299.05 L467.63 298.38 L467.73 300.5 L467.84 308.27 L467.94 304.17 L468.04 304.58 L468.15 308.86 L468.25 304.87 L468.36 307.74 L468.46 309.26 L468.56 302.36 L468.67 303.28 L468.77 305.63 L468.88 306.58 L468.98 305.07 L469.08 304.51 L469.19 304.55 L469.29 303.23 L469.4 304.61 L469.5 301.58 L469.6 301.06 L469.71 301.64 L469.81 305.35 L469.91 305.15 L470.02 301.28 L470.12 303.56 L470.23 302.96 L470.33 311.87 L470.43 312.58 L470.54 301.44 L470.64 301.41 L470.75 297.47 L470.85 299.85 L470.95 301.59 L471.06 302.24 L471.16 307.38 L471.27 298.84 L471.37 304.09 L471.47 299.88 L471.58 300.77 L471.68 300.26 L471.78 297.73 L471.89 302.41 L471.99 301.66 L472.1 302.92 L472.2 300.71 L472.3 292.79 L472.41 299.51 L472.51 293.26 L472.62 293.81 L472.72 293.35 L472.82 292.2 L472.93 297.76 L473.03 291.79 L473.14 286.41 L473.24 293.46 L473.34 290.05 L473.45 291.25 L473.55 286.65 L473.66 290.61 L473.76 280.3 L473.86 286.55 L473.97 290.05 L474.07 278.04 L474.17 280.69 L474.28 282.23 L474.38 282.32 L474.49 285.64 L474.59 285.56 L474.69 282.81 L474.8 282.68 L474.9 283.14 L475.01 286.01 L475.11 288.64 L475.21 288 L475.32 283.91 L475.42 282.89 L475.53 288.46 L475.63 288.58 L475.73 282.71 L475.84 283.76 L475.94 283.11 L476.04 288.29 L476.15 284.42 L476.25 283.65 L476.36 280.27 L476.46 284.21 L476.56 274.45 L476.67 275.5 L476.77 273.41 L476.88 275.7 L476.98 270.71 L477.08 265.28 L477.19 269.84 L477.29 263.05 L477.4 259.62 L477.5 259.73 L477.6 253.77 L477.71 252.76 L477.81 246.69 L477.91 244.34 L478.02 240.99 L478.12 234.65 L478.23 231.9 L478.33 226.92 L478.43 224.09 L478.54 218.24 L478.64 216.95 L478.75 217.11 L478.85 218.06 L478.95 218.17 L479.06 220.12 L479.16 220.35 L479.27 222.56 L479.37 222.95 L479.47 225.29 L479.58 227.33 L479.68 228.77 L479.79 229.15 L479.89 234.6 L479.99 236.73 L480.1 237.23 L480.2 242.02 L480.3 241.56 L480.41 246.81 L480.51 249.98 L480.62 252.45 L480.72 252.69 L480.82 257.71 L480.93 260.87 L481.03 264.3 L481.14 271.4 L481.24 272.6 L481.34 269.22 L481.45 273.38 L481.55 276.59 L481.66 278.47 L481.76 284.03 L481.86 283.48 L481.97 289.15 L482.07 286.94 L482.17 292.08 L482.28 292.01 L482.38 291.21 L482.49 295.05 L482.59 292.93 L482.69 294.59 L482.8 295.84 L482.9 293.3 L483.01 303.82 L483.11 304.94 L483.21 297.7 L483.32 297.03 L483.42 293.63 L483.53 298.5 L483.63 298.55 L483.73 305.03 L483.84 299.35 L483.94 299.84 L484.04 306.32 L484.15 305.89 L484.25 303.15 L484.36 301.8 L484.46 313.72 L484.56 302.75 L484.67 302.22 L484.77 303.77 L484.88 302.18 L484.98 301.52 L485.08 306.93 L485.19 301.71 L485.29 304.18 L485.4 306.74 L485.5 302.51 L485.6 297.82 L485.71 308.66 L485.81 309.37 L485.91 309.38 L486.02 296.04 L486.12 304.23 L486.23 303.53 L486.33 306.2 L486.43 306.77 L486.54 310.76 L486.64 302.69 L486.75 302.36 L486.85 310.58 L486.95 307.15 L487.06 306.05 L487.16 303.41 L487.27 302.42 L487.37 299.18 L487.47 298.3 L487.58 299.39 L487.68 298.39 L487.79 307.6 L487.89 305.35 L487.99 299.11 L488.1 302.26 L488.2 303.25 L488.3 310.59 L488.41 310.15 L488.51 300.63 L488.62 302.06 L488.72 304.4 L488.82 304.83 L488.93 309.66 L489.03 301.95 L489.14 299.52 L489.24 297.28 L489.34 303.14 L489.45 304.07 L489.55 307.34 L489.66 298.82 L489.76 297.05 L489.86 305.57 L489.97 302.25 L490.07 302.98 L490.17 305.42 L490.28 312.49 L490.38 304.66 L490.49 301.08 L490.59 308.62 L490.69 306.4 L490.8 315.38 L490.9 298.6 L491.01 301.48 L491.11 303.15 L491.21 304.31 L491.32 305.66 L491.42 303.61 L491.53 304.46 L491.63 304.23 L491.73 303.44 L491.84 302.85 L491.94 297.62 L492.04 308.64 L492.15 302.35 L492.25 305.61 L492.36 307.5 L492.46 312.01 L492.56 301.08 L492.67 306.95 L492.77 306.11 L492.88 301.62 L492.98 307.33 L493.08 303.25 L493.19 303.63 L493.29 300.4 L493.4 299.64 L493.5 306.53 L493.6 299.98 L493.71 303.7 L493.81 302.9 L493.92 304.13 L494.02 300.5 L494.12 307.8 L494.23 302.39 L494.33 299.03 L494.43 304.39 L494.54 295.9 L494.64 306.05 L494.75 302.56 L494.85 305.12 L494.95 305.62 L495.06 307.44 L495.16 305.33 L495.27 303.53 L495.37 306.29 L495.47 300.1 L495.58 297.75 L495.68 308.95 L495.79 300.27 L495.89 302.65 L495.99 302.44 L496.1 294.3 L496.2 298.91 L496.3 302.1 L496.41 302.66 L496.51 311.25 L496.62 300.45 L496.72 306.04 L496.82 302.64 L496.93 302.93 L497.03 299.76 L497.14 295.82 L497.24 299.67 L497.34 298.6 L497.45 304.13 L497.55 301.6 L497.66 300.44 L497.76 308.55 L497.86 295.76 L497.97 305.88 L498.07 307.94 L498.17 297.25 L498.28 295.47 L498.38 305.82 L498.49 305.48 L498.59 291.8 L498.69 302.81 L498.8 310.5 L498.9 305.45 L499.01 295.85 L499.11 300.77 L499.21 300.42 L499.32 298.68 L499.42 300.69 L499.53 304.38 L499.63 308.99 L499.73 301.5 L499.84 307.21 L499.94 303.32 L500.05 296.65 L500.15 301.1 L500.25 302.85 L500.36 302.81 L500.46 300.35 L500.56 299.64 L500.67 307.81 L500.77 302.29 L500.88 296.67 L500.98 300.16 L501.08 305.69 L501.19 305.35 L501.29 310.37 L501.4 305.7 L501.5 296.89 L501.6 302.97 L501.71 305.79 L501.81 304.71 L501.92 302.95 L502.02 302.86 L502.12 303.68 L502.23 305.09 L502.33 299.85 L502.43 296.43 L502.54 303.94 L502.64 303.65 L502.75 297.15 L502.85 306.53 L502.95 303.07 L503.06 301.96 L503.16 299.6 L503.27 300.77 L503.37 302.48 L503.47 297.61 L503.58 302.4 L503.68 303.7 L503.79 303.97 L503.89 293.17 L503.99 301.19 L504.1 292.41 L504.2 290.6 L504.3 289.06 L504.41 291.47 L504.51 291.7 L504.62 288.37 L504.72 289.74 L504.82 291.23 L504.93 281.45 L505.03 288.28 L505.14 278.34 L505.24 282.45 L505.34 285.62 L505.45 282.52 L505.55 279.95 L505.66 289.17 L505.76 288.01 L505.86 288.88 L505.97 285.27 L506.07 284.97 L506.17 286.67 L506.28 289.54 L506.38 289.13 L506.49 283.68 L506.59 283.92 L506.69 286.93 L506.8 291.15 L506.9 284.58 L507.01 285.02 L507.11 284.36 L507.21 279.02 L507.32 280.74 L507.42 284.83 L507.53 283.46 L507.63 275.41 L507.73 277.19 L507.84 273.72 L507.94 274.6 L508.05 274.84 L508.15 269.58 L508.25 264.33 L508.36 264.97 L508.46 265.79 L508.56 261.3 L508.67 258.83 L508.77 254.48 L508.88 249.77 L508.98 244.89 L509.08 244.21 L509.19 241.29 L509.29 236.46 L509.4 232.14 L509.5 227.86 L509.6 222.45 L509.71 217.3 L509.81 218.02 L509.92 217.3 L510.02 218.24 L510.12 219.26 L510.23 219.2 L510.33 220.9 L510.43 220.6 L510.54 222.97 L510.64 224.97 L510.75 227.61 L510.85 229.4 L510.95 230.36 L511.06 234.45 L511.16 235.27 L511.27 241.69 L511.37 241.36 L511.47 243.24 L511.58 246.86 L511.68 250.38 L511.79 251.46 L511.89 258 L511.99 261.32 L512.1 261.96 L512.2 262.3 L512.3 266.81 L512.41 271.04 L512.51 272.4 L512.62 274.5 L512.72 281.52 L512.82 288.35 L512.93 285.49 L513.03 288.99 L513.14 288.17 L513.24 291.91 L513.34 292.53 L513.45 289.85 L513.55 292.29 L513.66 293.94 L513.76 289.36 L513.86 297.56 L513.97 298.21 L514.07 293.3 L514.18 302.33 L514.28 304.83 L514.38 294.99 L514.49 298.92 L514.59 298.4 L514.69 298.63 L514.8 297.98 L514.9 303.22 L515.01 302.02 L515.11 305.99 L515.21 301.6 L515.32 301.4 L515.42 304.02 L515.53 300.02 L515.63 291.73 L515.73 306.83 L515.84 299.61 L515.94 299.23 L516.05 298.81 L516.15 305.7 L516.25 298.37 L516.36 300.37 L516.46 303.24 L516.56 304.04 L516.67 301.88 L516.77 299.35 L516.88 299.53 L516.98 294.36 L517.08 304.06 L517.19 300.48 L517.29 304.33 L517.4 299.87 L517.5 302.26 L517.6 304.94 L517.71 307.62 L517.81 305.57 L517.92 301.86 L518.02 297.34 L518.12 299.9 L518.23 307.14 L518.33 304.54 L518.43 302.64 L518.54 303.27 L518.64 302.62 L518.75 300.04 L518.85 302.16 L518.95 305.53 L519.06 310.09 L519.16 304.29 L519.27 309.24 L519.37 303.7 L519.47 301.98 L519.58 308.09 L519.68 303.74 L519.79 304.52 L519.89 296.31 L519.99 301.67 L520.1 310.3 L520.2 301.77 L520.31 301.9 L520.41 304.18 L520.51 304.84 L520.62 301.28 L520.72 301.06 L520.82 301.91 L520.93 307.18 L521.03 304.47 L521.14 309.29 L521.24 309.07 L521.34 305.65 L521.45 307.48 L521.55 305.14 L521.66 294.53 L521.76 301.84 L521.86 306.92 L521.97 311.62 L522.07 306.78 L522.18 308.99 L522.28 311.81 L522.38 301.09 L522.49 305.53 L522.59 302.15 L522.69 292.42 L522.8 302.78 L522.9 303.34 L523.01 302.49 L523.11 304.75 L523.21 306.81 L523.32 304.55 L523.42 299.57 L523.53 304.76 L523.63 308.8 L523.73 308.34 L523.84 307.54 L523.94 303.71 L524.05 301.97 L524.15 301.96 L524.25 299.34 L524.36 304.44 L524.46 300.6 L524.56 302.44 L524.67 301.02 L524.77 310.35 L524.88 298.98 L524.98 309.21 L525.08 307.65 L525.19 300.63 L525.29 304.9 L525.4 296.96 L525.5 302.84 L525.6 307.19 L525.71 302.84 L525.81 304.87 L525.92 297.69 L526.02 297.4 L526.12 300.66 L526.23 304.86 L526.33 303.05 L526.43 299.5 L526.54 306.29 L526.64 306.27 L526.75 300.22 L526.85 300.63 L526.95 304.19 L527.06 304.32 L527.16 310.5 L527.27 298.99 L527.37 303.76 L527.47 308.57 L527.58 307.46 L527.68 306.6 L527.79 297.06 L527.89 300.77 L527.99 308.21 L528.1 296.48 L528.2 298.38 L528.31 307.18 L528.41 313.05 L528.51 299.74 L528.62 305.49 L528.72 303.77 L528.82 305.19 L528.93 298.64 L529.03 297.83 L529.14 300.28 L529.24 303.8 L529.34 302.29 L529.45 300.96 L529.55 309.02 L529.66 298.67 L529.76 304.4 L529.86 302.25 L529.97 302.7 L530.07 299.87 L530.18 299.27 L530.28 295.07 L530.38 304.46 L530.49 306.46 L530.59 302.63 L530.69 305.51 L530.8 299.93 L530.9 306.03 L531.01 302.57 L531.11 299.59 L531.21 299.3 L531.32 302.25 L531.42 297.81 L531.53 298.24 L531.63 309.16 L531.73 301.6 L531.84 302.23 L531.94 303.95 L532.05 305.17 L532.15 302.64 L532.25 301.36 L532.36 301.73 L532.46 297.71 L532.56 299.03 L532.67 304.77 L532.77 305.35 L532.88 299.43 L532.98 305.01 L533.08 301.79 L533.19 300.59 L533.29 298.48 L533.4 300.25 L533.5 296.75 L533.6 303.54 L533.71 299.27 L533.81 303.91 L533.92 300.61 L534.02 300.58 L534.12 304.1 L534.23 309.83 L534.33 296.55 L534.44 298.25 L534.54 298.56 L534.64 301.04 L534.75 299.09 L534.85 295.56 L534.95 296.36 L535.06 291.44 L535.16 294.28 L535.27 296.67 L535.37 290.54 L535.47 293.91 L535.58 289.8 L535.68 295.9 L535.79 289.65 L535.89 285.43 L535.99 288.76 L536.1 285.74 L536.2 282.9 L536.31 284.21 L536.41 277.89 L536.51 284.83 L536.62 284.56 L536.72 284.66 L536.82 291.16 L536.93 290.03 L537.03 283.49 L537.14 286.9 L537.24 281.65 L537.34 286.99 L537.45 287.65 L537.55 283.97 L537.66 286.55 L537.76 282.26 L537.86 290.59 L537.97 285.5 L538.07 284.27 L538.18 284.02 L538.28 281.43 L538.38 280.91 L538.49 282.82 L538.59 283.36 L538.69 277.62 L538.8 278.84 L538.9 274.8 L539.01 272.12 L539.11 273.42 L539.21 274.31 L539.32 270.59 L539.42 265.88 L539.53 265.97 L539.63 260.32 L539.73 260.17 L539.84 257.15 L539.94 255.59 L540.05 251.35 L540.15 245.92 L540.25 244.61 L540.36 240.65 L540.46 236.99 L540.57 230.76 L540.67 228.24 L540.77 222.3 L540.88 216.81 L540.98 216.61 L541.08 217.79 L541.19 217.56 L541.29 219.97 L541.4 219.17 L541.5 220.54 L541.6 222.93 L541.71 224.95 L541.81 225.71 L541.92 226.97 L542.02 228.94 L542.12 231.46 L542.23 233.11 L542.33 235.69 L542.44 241.12 L542.54 242.59 L542.64 245.69 L542.75 246.12 L542.85 251.65 L542.95 251.87 L543.06 256.55 L543.16 254.77 L543.27 262.7 L543.37 265.44 L543.47 268.51 L543.58 270.57 L543.68 267.24 L543.79 277.4 L543.89 280.84 L543.99 281.25 L544.1 280.85 L544.2 287.79 L544.31 284.24 L544.41 286.04 L544.51 290.57 L544.62 292.34 L544.72 295.48 L544.82 295.03 L544.93 297.94 L545.03 291.99 L545.14 291.53 L545.24 298.94 L545.34 298.82 L545.45 306.02 L545.55 301.76 L545.66 299.16 L545.76 299.82 L545.86 300.73 L545.97 298.44 L546.07 301.44 L546.18 303.42 L546.28 296.39 L546.38 309.37 L546.49 306.75 L546.59 305.35 L546.69 305.43 L546.8 305.69 L546.9 303.75 L547.01 305.6 L547.11 303.26 L547.21 300.93 L547.32 303.03 L547.42 302.67 L547.53 306.61 L547.63 307.37 L547.73 304.29 L547.84 299.84 L547.94 301.87 L548.05 299.27 L548.15 299.62 L548.25 299.15 L548.36 306.22 L548.46 298.74 L548.57 300.5 L548.67 295.68 L548.77 301.12 L548.88 302.08 L548.98 303.75 L549.08 302.67 L549.19 309.31 L549.29 304.19 L549.4 303.41 L549.5 299.66 L549.6 305.67 L549.71 302.79 L549.81 296.6 L549.92 305.2 L550.02 300.19 L550.12 305.22 L550.23 303.64 L550.33 301.59 L550.44 300.05 L550.54 305.07 L550.64 307 L550.75 297.74 L550.85 302.59 L550.95 300.38 L551.06 299.94 L551.16 300.51 L551.27 304.22 L551.37 303.76 L551.47 308.93 L551.58 302.61 L551.68 304.98 L551.79 303.35 L551.89 296.47 L551.99 300.77 L552.1 303.08 L552.2 308.21 L552.31 300.62 L552.41 297.74 L552.51 306.26 L552.62 301.73 L552.72 305.15 L552.82 303.82 L552.93 304.59 L553.03 309.11 L553.14 305.13 L553.24 309.14 L553.34 298.25 L553.45 299.5 L553.55 303.11 L553.66 302.26 L553.76 303.06 L553.86 302.55 L553.97 302.56 L554.07 304.14 L554.18 303.87 L554.28 308.13 L554.38 306.89 L554.49 305.46 L554.59 302.52 L554.7 304.61 L554.8 296.39 L554.9 303.95 L555.01 304.56 L555.11 301.71 L555.21 299.55 L555.32 296.58 L555.42 299.75 L555.53 305.38 L555.63 303.87 L555.73 299.47 L555.84 302.32 L555.94 300.37 L556.05 303.52 L556.15 297.48 L556.25 298.03 L556.36 299.19 L556.46 302.67 L556.57 309.03 L556.67 308.08 L556.77 302.05 L556.88 300.87 L556.98 313.69 L557.08 304.92 L557.19 299.07 L557.29 299.78 L557.4 305 L557.5 300.92 L557.6 303.09 L557.71 303.99 L557.81 299.18 L557.92 299.1 L558.02 305.08 L558.12 306.58 L558.23 307.88 L558.33 308.29 L558.44 298.39 L558.54 296.45 L558.64 302.41 L558.75 299.39 L558.85 305.62 L558.95 303.41 L559.06 299.87 L559.16 302.02 L559.27 303.27 L559.37 309.11 L559.47 308.35 L559.58 304.62 L559.68 305.12 L559.79 303.4 L559.89 305.41 L559.99 303.9 L560.1 302.9 L560.2 301.27 L560.31 302.88 L560.41 305.08 L560.51 304.1 L560.62 299.87 L560.72 303.84 L560.83 306.56 L560.93 306.7 L561.03 302.08 L561.14 301.08 L561.24 298.71 L561.34 304.22 L561.45 298.15 L561.55 304.3 L561.66 303.89 L561.76 305.08 L561.86 301.17 L561.97 299.29 L562.07 303.11 L562.18 304.8 L562.28 308.51 L562.38 302.46 L562.49 304.2 L562.59 303.68 L562.7 305.2 L562.8 306.05 L562.9 304.44 L563.01 301.3 L563.11 299.47 L563.21 302.9 L563.32 301.68 L563.42 303.51 L563.53 303.22 L563.63 307.6 L563.73 299.58 L563.84 300.56 L563.94 297.46 L564.05 304.75 L564.15 302.07 L564.25 305.72 L564.36 301.53 L564.46 302.72 L564.57 299.79 L564.67 302.58 L564.77 299.65 L564.88 303.48 L564.98 299.46 L565.08 302.39 L565.19 302.6 L565.29 300.46 L565.4 299.13 L565.5 304.97 L565.6 304.89 L565.71 298.41 L565.81 298.7 L565.92 304.96 L566.02 303.11 L566.12 299.07 L566.23 294.45 L566.33 293.94 L566.44 290.19 L566.54 288.6 L566.64 283.4 L566.75 295.45 L566.85 289.53 L566.96 284.67 L567.06 291.6 L567.16 291.19 L567.27 284.91 L567.37 281.2 L567.47 280.17 L567.58 290.06 L567.68 288.01 L567.79 284.28 L567.89 285.9 L567.99 283.39 L568.1 284.44 L568.2 279.59 L568.31 286.07 L568.41 285.75 L568.51 286.53 L568.62 283.59 L568.72 290.87 L568.83 286.23 L568.93 289.8 L569.03 291.56 L569.14 283.21 L569.24 284.71 L569.34 281.45 L569.45 284.06 L569.55 281.97 L569.66 282.39 L569.76 279.97 L569.86 281.39 L569.97 274.16 L570.07 279.59 L570.18 271.11 L570.28 274.25 L570.38 269.66 L570.49 269.41 L570.59 266.5 L570.7 261.85 L570.8 262.36 L570.9 261.92 L571.01 256.66 L571.11 252.88 L571.21 255.07 L571.32 245.79 L571.42 242.06 L571.53 242.09 L571.63 235.72 L571.73 230.21 L571.84 227.28 L571.94 221.48 L572.05 217.51 L572.15 217.13 L572.25 217.1 L572.36 218.21 L572.46 218.84 L572.57 219.2 L572.67 220.54 L572.77 222.31 L572.88 222.75 L572.98 226.7 L573.08 227.32 L573.19 230 L573.29 232.41 L573.4 234.1 L573.5 236.86 L573.6 236.31 L573.71 241.47 L573.81 244.73 L573.92 245.48 L574.02 249.38 L574.12 257.6 L574.23 256.87 L574.33 258.52 L574.44 264.29 L574.54 265.15 L574.64 269.68 L574.75 270.36 L574.85 278.07 L574.96 281.55 L575.06 280.25 L575.16 280.35 L575.27 279.24 L575.37 285.92 L575.47 289.22 L575.58 285.83 L575.68 290.15 L575.79 285.94 L575.89 293.36 L575.99 300.72 L576.1 298.06 L576.2 299.61 L576.31 302.04 L576.41 300.75 L576.51 301.18 L576.62 300.42 L576.72 301.9 L576.83 299.02 L576.93 299.42 L577.03 300.62 L577.14 300.86 L577.24 308.58 L577.34 308.05 L577.45 305.43 L577.55 301.52 L577.66 307.86 L577.76 304.22 L577.86 301.9 L577.97 295.69 L578.07 302 L578.18 304.94 L578.28 299.09 L578.38 302.35 L578.49 304.21 L578.59 299.12 L578.7 306.52 L578.8 302.51 L578.9 302.93 L579.01 299.95 L579.11 307.42 L579.21 307.97 L579.32 304.69 L579.42 304.28 L579.53 303.14 L579.63 304.66 L579.73 301.74 L579.84 300.8 L579.94 302.5 L580.05 307.16 L580.15 299.12 L580.25 308.91 L580.36 304.08 L580.46 300.09 L580.57 305.59 L580.67 298.63 L580.77 296.37 L580.88 297.6 L580.98 301.76 L581.09 299.77 L581.19 305.22 L581.29 301.89 L581.4 301.69 L581.5 303.01 L581.6 302.79 L581.71 304.11 L581.81 310.51 L581.92 301.89 L582.02 302.21 L582.12 295.86 L582.23 300.75 L582.33 303.1 L582.44 300.16 L582.54 301.08 L582.64 303.41 L582.75 304.74 L582.85 308.71 L582.96 302.9 L583.06 297.41 L583.16 310.16 L583.27 306.82 L583.37 300.59 L583.47 302.64 L583.58 301.81 L583.68 310.14 L583.79 305.5 L583.89 301.5 L583.99 301.19 L584.1 302.27 L584.2 306.57 L584.31 301.37 L584.41 307.71 L584.51 306.78 L584.62 307.61 L584.72 298.08 L584.83 304.86 L584.93 303.15 L585.03 311.39 L585.14 299.34 L585.24 301.65 L585.34 309.41 L585.45 309.23 L585.55 297.28 L585.66 306.81 L585.76 296.61 L585.86 305.07 L585.97 312.45 L586.07 299.3 L586.18 301.52 L586.28 300.86 L586.38 305.22 L586.49 304.14 L586.59 299.85 L586.7 306.37 L586.8 310.57 L586.9 300.03 L587.01 305.64 L587.11 298.69 L587.22 305.13 L587.32 304.93 L587.42 304.29 L587.53 312 L587.63 299.05 L587.73 305.67 L587.84 304.08 L587.94 298 L588.05 302.94 L588.15 300.08 L588.25 302.13 L588.36 300.53 L588.46 302.34 L588.57 299.12 L588.67 304.13 L588.77 301.66 L588.88 305.95 L588.98 299 L589.09 311.36 L589.19 302.67 L589.29 302.02 L589.4 302.09 L589.5 303.37 L589.6 298.43 L589.71 295.58 L589.81 305.53 L589.92 310.35 L590.02 307.33 L590.12 306.32 L590.23 303.83 L590.33 303.53 L590.44 299.37 L590.54 304.89 L590.64 303.46 L590.75 302.92 L590.85 306.54 L590.96 304.48 L591.06 293.2 L591.16 303.65 L591.27 306.84 L591.37 311.3 L591.47 299.49 L591.58 304.48 L591.68 305.62 L591.79 294.32 L591.89 298.03 L591.99 309.56 L592.1 304.55 L592.2 299.61 L592.31 300.2 L592.41 307.34 L592.51 296.73 L592.62 296.45 L592.72 307.3 L592.83 309.7 L592.93 308.32 L593.03 300.77 L593.14 299.25 L593.24 302.52 L593.34 305.36 L593.45 303.51 L593.55 301.09 L593.66 307.59 L593.76 309.35 L593.86 303.43 L593.97 298.58 L594.07 302.38 L594.18 302.35 L594.28 305.51 L594.38 299.65 L594.49 309.24 L594.59 303.21 L594.7 305.11 L594.8 303.47 L594.9 306.26 L595.01 300.1 L595.11 303.08 L595.22 304.92 L595.32 300.83 L595.42 302.82 L595.53 304.45 L595.63 304.62 L595.73 299.53 L595.84 305.66 L595.94 302.91 L596.05 302.91 L596.15 300.59 L596.25 302.21 L596.36 293.42 L596.46 307.26 L596.57 298.44 L596.67 300.3 L596.77 295.72 L596.88 305.08 L596.98 294.26 L597.09 302.98 L597.19 294.81 L597.29 294.68 L597.4 295.56 L597.5 297.39 L597.6 296.69 L597.71 292.39 L597.81 294.34 L597.92 297.51 L598.02 295.89 L598.12 285.59 L598.23 284.51 L598.33 284.69 L598.44 285.53 L598.54 283.72 L598.64 282.84 L598.75 283.38 L598.85 286.86 L598.96 286.69 L599.06 288.31 L599.16 284.18 L599.27 288.48 L599.37 286.14 L599.47 281.69 L599.58 287.83 L599.68 283.78 L599.79 282.2 L599.89 293.48 L599.99 292.25 L600.1 286.01 L600.2 289.55 L600.31 285.23 L600.41 284.17 L600.51 287.26 L600.62 282.34 L600.72 278.67 L600.83 279.97 L600.93 284.09 L601.03 280.62 L601.14 280.24 L601.24 272.89 L601.35 275.98 L601.45 275.43 L601.55 271.56 L601.66 268.33 L601.76 268.25 L601.86 264.74 L601.97 262.44 L602.07 258.19 L602.18 254.91 L602.28 253.25 L602.38 251.3 L602.49 246.32 L602.59 244.59 L602.7 237.83 L602.8 234.62 L602.9 230.27 L603.01 227.77 L603.11 218.98 L603.22 216.55 L603.32 216.78 L603.42 217.71 L603.53 217.9 L603.63 217.25 L603.73 220.37 L603.84 220.56 L603.94 221.98 L604.05 223.88 L604.15 225.46 L604.25 228.64 L604.36 229.22 L604.46 233.61 L604.57 232.48 L604.67 236.22 L604.77 241.11 L604.88 245.84 L604.98 245.46 L605.09 247.69 L605.19 253.3 L605.29 251.29 L605.4 256.9 L605.5 261.37 L605.6 266.39 L605.71 266.39 L605.81 269.36 L605.92 269.9 L606.02 271.37 L606.12 276.5 L606.23 277.64 L606.33 277.06 L606.44 281.43 L606.54 286 L606.64 285.14 L606.75 290.4 L606.85 288.87 L606.96 291.6 L607.06 296.72 L607.16 292.26 L607.27 295.09 L607.37 293.84 L607.48 301.83 L607.58 294.15 L607.68 294.67 L607.79 300.57 L607.89 300.23 L607.99 300.18 L608.1 300.85 L608.2 298.12 L608.31 304.02 L608.41 305.88 L608.51 302.83 L608.62 295.24 L608.72 303.74 L608.83 306.12 L608.93 305.95 L609.03 302.09 L609.14 298.48 L609.24 305.56 L609.35 302.28 L609.45 302.18 L609.55 301.3 L609.66 302.51 L609.76 299.21 L609.86 300.57 L609.97 305.37 L610.07 294.21 L610.18 308.14 L610.28 307.98 L610.38 299.35 L610.49 302.47 L610.59 304.07 L610.7 302.43 L610.8 300.65 L610.9 304.73 L611.01 305.51 L611.11 307.03 L611.22 306.35 L611.32 306.13 L611.42 298.98 L611.53 302.17 L611.63 301.2 L611.73 305.27 L611.84 299.35 L611.94 308.94 L612.05 301.47 L612.15 300.66 L612.25 305.34 L612.36 306.99 L612.46 301.31 L612.57 305.83 L612.67 306.51 L612.77 303.31 L612.88 307.34 L612.98 303.74 L613.09 295.79 L613.19 304.84 L613.29 299.9 L613.4 307.11 L613.5 302.93 L613.6 304.23 L613.71 303.85 L613.81 300.46 L613.92 295.34 L614.02 303.71 L614.12 298.45 L614.23 301.96 L614.33 300.54 L614.44 304.96 L614.54 305.84 L614.64 303.98 L614.75 306.09 L614.85 303.28 L614.96 307.13 L615.06 303.23 L615.16 302.6 L615.27 296.58 L615.37 296.92 L615.48 301.37 L615.58 305.09 L615.68 301.01 L615.79 300.24 L615.89 303.96 L615.99 306.36 L616.1 309.82 L616.2 303.39 L616.31 296.18 L616.41 304 L616.51 301.82 L616.62 301.9 L616.72 301.46 L616.83 300.4 L616.93 310.6 L617.03 303.79 L617.14 301.85 L617.24 303.56 L617.35 298.76 L617.45 304.59 L617.55 299.84 L617.66 296.73 L617.76 304.14 L617.86 303.1 L617.97 304.28 L618.07 300.38 L618.18 311.06 L618.28 308.57 L618.38 304.27 L618.49 299.98 L618.59 301.01 L618.7 306.18 L618.8 297.27 L618.9 302.76 L619.01 305.46 L619.11 301.21 L619.22 298.36 L619.32 303.4 L619.42 308.73 L619.53 305.17 L619.63 302.8 L619.73 299.68 L619.84 306.82 L619.94 302.17 L620.05 307.49 L620.15 302.85 L620.25 308.03 L620.36 304.83 L620.46 308.73 L620.57 306.73 L620.67 308.97 L620.77 310.36 L620.88 298.62 L620.98 298.78 L621.09 301.35 L621.19 304.42 L621.29 297.7 L621.4 304.13 L621.5 301.52 L621.61 298.91 L621.71 302.26 L621.81 297.63 L621.92 303.59 L622.02 303.62 L622.12 302.57 L622.23 307.29 L622.33 306.99 L622.44 300.18 L622.54 309.38 L622.64 298.87 L622.75 302 L622.85 298.65 L622.96 300.19 L623.06 300.78 L623.16 296.57 L623.27 303.25 L623.37 303.34 L623.48 298.81 L623.58 305.37 L623.68 298.77 L623.79 300.4 L623.89 304.76 L623.99 307.59 L624.1 310.34 L624.2 296.01 L624.31 308.37 L624.41 307.31 L624.51 299.7 L624.62 301.13 L624.72 302.08 L624.83 302.54 L624.93 304.4 L625.03 306.21 L625.14 305.53 L625.24 300.61 L625.35 298.83 L625.45 298.42 L625.55 302.88 L625.66 310.96 L625.76 300.83 L625.86 303.21 L625.97 312.47 L626.07 297.52 L626.18 301.74 L626.28 302.7 L626.38 301.73 L626.49 301.95 L626.59 301.44 L626.7 301.81 L626.8 302.05 L626.9 299.93 L627.01 300.62 L627.11 292.93 L627.22 301.04 L627.32 303.21 L627.42 303.28 L627.53 299.42 L627.63 300.05 L627.74 299.24 L627.84 300.45 L627.94 299.91 L628.05 296.01 L628.15 293.22 L628.25 296.25 L628.36 297.17 L628.46 300.17 L628.57 299.31 L628.67 294.06 L628.77 294.13 L628.88 292.57 L628.98 295.12 L629.09 290.52 L629.19 295.92 L629.29 292.18 L629.4 289.78 L629.5 284.02 L629.61 287.47 L629.71 288.02 L629.81 283.32 L629.92 284.33 L630.02 280.7 L630.12 282.86 L630.23 283.48 L630.33 285.21 L630.44 282.77 L630.54 287.99 L630.64 291.16 L630.75 283.49 L630.85 288.5 L630.96 287.1 L631.06 285.42 L631.16 284.22 L631.27 296.74 L631.37 290.52 L631.48 282.93 L631.58 291.53 L631.68 284.08 L631.79 285.79 L631.89 286.37 L631.99 282.98 L632.1 286.26 L632.2 278.86 L632.31 275.27 L632.41 280.84 L632.51 277.02 L632.62 270.28 L632.72 270.49 L632.83 270.12 L632.93 263.69 L633.03 268.5 L633.14 262.73 L633.24 259.2 L633.35 257.12 L633.45 251.9 L633.55 253 L633.66 246.48 L633.76 243.96 L633.86 237.18 L633.97 233.28 L634.07 230.7 L634.18 226.01 L634.28 219.94 L634.38 217.85 L634.49 217.84 L634.59 217.61 L634.7 218.66 L634.8 218 L634.9 220.04 L635.01 221.62 L635.11 223.48 L635.22 224.66 L635.32 225.08 L635.42 227.52 L635.53 228.75 L635.63 231.09 L635.74 234.37 L635.84 238.55 L635.94 240.59 L636.05 243.1 L636.15 248.74 L636.25 248.47 L636.36 253.9 L636.46 255.16 L636.57 259.02 L636.67 259.67 L636.77 257.9 L636.88 269.46 L636.98 269.46 L637.09 266.87 L637.19 277.11 L637.29 277.73 L637.4 279.75 L637.5 280.77 L637.61 288.57 L637.71 284.77 L637.81 285.64 L637.92 281.13 L638.02 291.02 L638.12 294.1 L638.23 293.07 L638.33 303.51 L638.44 294.62 L638.54 291.36 L638.64 297.72 L638.75 298.5 L638.85 299.92 L638.96 299.17 L639.06 304.65 L639.16 295.11 L639.27 302.72 L639.37 303.06 L639.48 295.69 L639.58 301.88 L639.68 303.71 L639.79 296.32 L639.89 301.84 L639.99 299.19 L640.1 304.83 L640.2 309.33 L640.31 302.26 L640.41 297.7 L640.51 304.71 L640.62 301.71 L640.72 300.42 L640.83 302.14 L640.93 302.86 L641.03 300.29 L641.14 302.37 L641.24 305.13 L641.35 299.27 L641.45 300.21 L641.55 301.78 L641.66 300.51 L641.76 312.91 L641.87 302.18 L641.97 303.03 L642.07 310.51 L642.18 295.52 L642.28 301.88 L642.38 304.79 L642.49 304.56 L642.59 302.18 L642.7 303.23 L642.8 309.11 L642.9 304.64 L643.01 301.51 L643.11 300.89 L643.22 299.96 L643.32 307.07 L643.42 305.48 L643.53 301.77 L643.63 305.39 L643.74 302.35 L643.84 306.2 L643.94 300.96 L644.05 302.89 L644.15 300.96 L644.25 302.97 L644.36 306 L644.46 307.59 L644.57 302.92 L644.67 305.33 L644.77 308.56 L644.88 305.09 L644.98 300.14 L645.09 298.49 L645.19 300.24 L645.29 298.02 L645.4 304.41 L645.5 303.58 L645.61 306.54 L645.71 305.88 L645.81 297.07 L645.92 301.41 L646.02 300.61 L646.12 293.38 L646.23 295.88 L646.33 306.19 L646.44 299.38 L646.54 305.78 L646.64 299.33 L646.75 309.93 L646.85 306.45 L646.96 306.37 L647.06 295.58 L647.16 309.55 L647.27 298.87 L647.37 299 L647.48 302.54 L647.58 299.9 L647.68 293.43 L647.79 302.04 L647.89 304 L648 297.96 L648.1 300.08 L648.2 307.24 L648.31 302.28 L648.41 301.92 L648.51 307.22 L648.62 306.51 L648.72 305.44 L648.83 307.45 L648.93 301.07 L649.03 301.87 L649.14 311.24 L649.24 304.57 L649.35 302.43 L649.45 308.03 L649.55 304.05 L649.66 301.94 L649.76 309.35 L649.87 304.18 L649.97 311.85 L650.07 300.27 L650.18 305.8 L650.28 308.48 L650.38 309.97 L650.49 309.25 L650.59 298.36 L650.7 306.28 L650.8 305.29 L650.9 304.64 L651.01 308.8 L651.11 300.35 L651.22 312.54 L651.32 299.89 L651.42 306.05 L651.53 303.07 L651.63 302.14 L651.74 300.12 L651.84 307.87 L651.94 300.98 L652.05 303.45 L652.15 303.84 L652.25 304.32 L652.36 299.1 L652.46 301.51 L652.57 298.52 L652.67 299.85 L652.77 310.66 L652.88 303.65 L652.98 299.51 L653.09 306.64 L653.19 309.55 L653.29 311.84 L653.4 295.85 L653.5 306.72 L653.61 302.64 L653.71 307.29 L653.81 301.69 L653.92 297.08 L654.02 308.69 L654.12 303.5 L654.23 306.12 L654.33 310.28 L654.44 306.59 L654.54 303.13 L654.64 298.61 L654.75 298.43 L654.85 303.27 L654.96 309.4 L655.06 300.71 L655.16 303.2 L655.27 303.23 L655.37 307.45 L655.48 303.73 L655.58 295.77 L655.68 297.53 L655.79 298.33 L655.89 300.58 L656 304.56 L656.1 303.05 L656.2 302.47 L656.31 301.56 L656.41 304.3 L656.51 306.21 L656.62 298.76 L656.72 304.32 L656.83 299.75 L656.93 303.52 L657.03 300.3 L657.14 300.88 L657.24 299.99 L657.35 300.15 L657.45 306.21 L657.55 307.68 L657.66 302.73 L657.76 296.32 L657.87 305.51 L657.97 305.77 L658.07 293.73 L658.18 307.83 L658.28 304.05 L658.38 303.27 L658.49 304.06 L658.59 303.7 L658.7 297.03 L658.8 299.95 L658.9 299.68 L659.01 306.05 L659.11 296.53 L659.22 298.33 L659.32 297.79 L659.42 294.66 L659.53 295.81 L659.63 296.27 L659.74 293.77 L659.84 296.95 L659.94 296.67 L660.05 297.25 L660.15 287.74 L660.25 292.51 L660.36 288.42 L660.46 284.01 L660.57 280.53 L660.67 287.43 L660.77 284.79 L660.88 284.43 L660.98 288.97 L661.09 285.76 L661.19 274.16 L661.29 284.3 L661.4 278.14 L661.5 282.02 L661.61 279.05 L661.71 281.06 L661.81 285.34 L661.92 290.78 L662.02 282.16 L662.13 284.92 L662.23 285.86 L662.33 284.66 L662.44 289.99 L662.54 286.72 L662.64 286.73 L662.75 290.84 L662.85 289.16 L662.96 284.95 L663.06 290.28 L663.16 280.24 L663.27 278.93 L663.37 280.04 L663.48 277.55 L663.58 281.75 L663.68 274.54 L663.79 271.18 L663.89 269.88 L664 266.77 L664.1 266.94 L664.2 259.79 L664.31 260.84 L664.41 257.38 L664.51 253.95 L664.62 254.42 L664.72 251.62 L664.83 244.83 L664.93 244.16 L665.03 239.06 L665.14 232.79 L665.24 230.46 L665.35 225.27 L665.45 220.02 L665.55 217.97 L665.66 216.49 L665.76 217.59 L665.87 217.89 L665.97 220.45 L666.07 221.82 L666.18 222.23 L666.28 222.03 L666.38 223.49 L666.49 228.04 L666.59 229.99 L666.7 229.81 L666.8 232.57 L666.9 234.82 L667.01 237.12 L667.11 242.18 L667.22 243.38 L667.32 246.94 L667.42 247.28 L667.53 252.98 L667.63 259.11 L667.74 255.74 L667.84 257.36 L667.94 261.98 L668.05 267.83 L668.15 272.16 L668.26 269.84 L668.36 276.44 L668.46 276.01 L668.57 277.55 L668.67 282.39 L668.77 290.13 L668.88 284.46 L668.98 291 L669.09 294.54 L669.19 291.2 L669.29 292.01 L669.4 294.08 L669.5 292.77 L669.61 302.63 L669.71 294.93 L669.81 292.07 L669.92 298.88 L670.02 301.07 L670.13 300.49 L670.23 295.94 L670.33 301.53 L670.44 304.14 L670.54 307.81 L670.64 296.68 L670.75 296.86 L670.85 302.31 L670.96 294.83 L671.06 304.15 L671.16 300.11 L671.27 307.79 L671.37 306.76 L671.48 303.11 L671.58 301.36 L671.68 300.88 L671.79 306.57 L671.89 305.24 L672 303.7 L672.1 304.36 L672.2 304.29 L672.31 300.29 L672.41 299 L672.51 310.25 L672.62 298.43 L672.72 302.69 L672.83 302.13 L672.93 302.1 L673.03 299.87 L673.14 300.75 L673.24 309.08 L673.35 300.11 L673.45 307.56 L673.55 301.91 L673.66 302.54 L673.76 309.1 L673.87 303.29 L673.97 304.29 L674.07 305.85 L674.18 295.76 L674.28 302.74 L674.38 304.72 L674.49 296.83 L674.59 303.45 L674.7 303.84 L674.8 310.81 L674.9 301.09 L675.01 299.6 L675.11 296.2 L675.22 307.11 L675.32 299.43 L675.42 298.1 L675.53 300.63 L675.63 303.32 L675.74 309.48 L675.84 302.63 L675.94 305.4 L676.05 309.83 L676.15 301.08 L676.26 303.78 L676.36 304.21 L676.46 295.97 L676.57 305.32 L676.67 311.08 L676.77 311.62 L676.88 301.38 L676.98 304.16 L677.09 306.17 L677.19 311.26 L677.29 306.45 L677.4 307.55 L677.5 303.78 L677.61 306.58 L677.71 306.64 L677.81 303.56 L677.92 306.33 L678.02 302.19 L678.13 316.14 L678.23 308.03 L678.33 298.89 L678.44 302.66 L678.54 307.47 L678.64 304.12 L678.75 305.58 L678.85 304.81 L678.96 298.1 L679.06 304.99 L679.16 302.66 L679.27 306.61 L679.37 306.21 L679.48 309.21 L679.58 305.89 L679.68 304.98 L679.79 304.6 L679.89 303.24 L680 303.09 L680.1 301 L680.2 304.24 L680.31 298.56 L680.41 301.18 L680.51 298.3 L680.62 303.63 L680.72 298.91 L680.83 303.08 L680.93 309.58 L681.03 303.51 L681.14 304.08 L681.24 308.84 L681.35 307.09 L681.45 305.68" fill="none" stroke="#ee2a2e" stroke-width="0.9" stroke-linejoin="round" />
<rect x="432.2" y="200.4" width="249.25" height="130" fill="none" stroke="#222" stroke-width="1.0"/>
<line x1="428.2" y1="318.15" x2="432.2" y2="318.15" stroke="#333" stroke-width="1.0"/>
<line x1="428.2" y1="271.05" x2="432.2" y2="271.05" stroke="#333" stroke-width="1.0"/>
<line x1="428.2" y1="223.95" x2="432.2" y2="223.95" stroke="#333" stroke-width="1.0"/>
<line x1="430.2" y1="294.6" x2="432.2" y2="294.6" stroke="#333" stroke-width="1.0"/>
<line x1="430.2" y1="247.5" x2="432.2" y2="247.5" stroke="#333" stroke-width="1.0"/>
<line x1="430.2" y1="200.4" x2="432.2" y2="200.4" stroke="#333" stroke-width="1.0"/>
<line x1="432.2" y1="330.4" x2="432.2" y2="334.4" stroke="#333" stroke-width="1.0"/>
<line x1="494.51" y1="330.4" x2="494.51" y2="334.4" stroke="#333" stroke-width="1.0"/>
<line x1="556.83" y1="330.4" x2="556.83" y2="334.4" stroke="#333" stroke-width="1.0"/>
<line x1="619.14" y1="330.4" x2="619.14" y2="334.4" stroke="#333" stroke-width="1.0"/>
<line x1="681.45" y1="330.4" x2="681.45" y2="334.4" stroke="#333" stroke-width="1.0"/>
<line x1="463.36" y1="330.4" x2="463.36" y2="332.4" stroke="#333" stroke-width="1.0"/>
<line x1="525.67" y1="330.4" x2="525.67" y2="332.4" stroke="#333" stroke-width="1.0"/>
<line x1="587.98" y1="330.4" x2="587.98" y2="332.4" stroke="#333" stroke-width="1.0"/>
<line x1="650.29" y1="330.4" x2="650.29" y2="332.4" stroke="#333" stroke-width="1.0"/>
<path d="M432.2 407.91 L432.38 424.74 L432.56 414.05 L432.73 417.76 L432.91 417.47 L433.09 416.73 L433.27 423.49 L433.45 417.22 L433.63 419.76 L433.8 404.78 L433.98 416.27 L434.16 418.61 L434.34 418.59 L434.52 420.23 L434.69 421.87 L434.87 419.7 L435.05 416.76 L435.23 419.62 L435.41 415.5 L435.59 419.95 L435.76 419.37 L435.94 414.08 L436.12 417.95 L436.3 422.25 L436.48 421.66 L436.65 419.62 L436.83 415.13 L437.01 423.72 L437.19 424.21 L437.37 420.26 L437.54 427.71 L437.72 426.13 L437.9 422.44 L438.08 424.12 L438.26 426.43 L438.44 424.82 L438.61 438.03 L438.79 424.53 L438.97 432.22 L439.15 435.29 L439.33 428.71 L439.5 427.66 L439.68 432.32 L439.86 435.1 L440.04 431.59 L440.22 432.36 L440.4 427.53 L440.57 430.4 L440.75 432.89 L440.93 430.03 L441.11 435.29 L441.29 438.38 L441.46 433.37 L441.64 433.85 L441.82 437.76 L442 440.88 L442.18 438.25 L442.36 449.19 L442.53 438.67 L442.71 440.45 L442.89 449.24 L443.07 444.11 L443.25 449.08 L443.42 444.87 L443.6 455.82 L443.78 453.84 L443.96 450.73 L444.14 451.39 L444.32 461.62 L444.49 458.31 L444.67 457.38 L444.85 460.76 L445.03 457.37 L445.21 465.51 L445.38 464.64 L445.56 469.2 L445.74 467.63 L445.92 471.88 L446.1 474.44 L446.27 477.73 L446.45 477.26 L446.63 480.22 L446.81 484.37 L446.99 488.84 L447.17 492.72 L447.34 494.21 L447.52 497.91 L447.7 502.1 L447.88 496.13 L448.06 492.27 L448.23 488.47 L448.41 483.42 L448.59 478.18 L448.77 472.94 L448.95 467.84 L449.13 462.75 L449.3 457.66 L449.48 452.57 L449.66 447.48 L449.84 442.39 L450.02 437.67 L450.19 433.05 L450.37 428.43 L450.55 423.81 L450.73 419.19 L450.91 415.5 L451.09 412.62 L451.26 409.74 L451.44 406.04 L451.62 396.84 L451.8 400.89 L451.98 401.13 L452.15 414.21 L452.33 408.27 L452.51 409.48 L452.69 405.56 L452.87 416.01 L453.05 403.69 L453.22 404.31 L453.4 413.08 L453.58 411.98 L453.76 411.42 L453.94 408.44 L454.11 406.35 L454.29 401.32 L454.47 409.57 L454.65 406.14 L454.83 408.45 L455 402.7 L455.18 406.49 L455.36 404.3 L455.54 413.27 L455.72 410.14 L455.9 412.53 L456.07 404.29 L456.25 407.55 L456.43 411.23 L456.61 411.94 L456.79 408.72 L456.96 413.21 L457.14 414.22 L457.32 409.27 L457.5 402.25 L457.68 412.28 L457.86 413.58 L458.03 416 L458.21 416.77 L458.39 410.16 L458.57 409.09 L458.75 412.26 L458.92 411.19 L459.1 412.09 L459.28 412.12 L459.46 418.29 L459.64 414.52 L459.82 412.56 L459.99 415.92 L460.17 414.92 L460.35 416.28 L460.53 414.62 L460.71 410.42 L460.88 415.11 L461.06 414.31 L461.24 410.9 L461.42 411.64 L461.6 407.94 L461.78 421.83 L461.95 411.24 L462.13 416.23 L462.31 414.11 L462.49 411.68 L462.67 410.91 L462.84 411.19 L463.02 414.53 L463.2 409.37 L463.38 416.37 L463.56 415.98 L463.73 412.68 L463.91 417.72 L464.09 407.98 L464.27 412.26 L464.45 408.27 L464.63 416.51 L464.8 418.04 L464.98 416.28 L465.16 414.45 L465.34 419.49 L465.52 416.21 L465.69 417.89 L465.87 412.2 L466.05 420.71 L466.23 414.74 L466.41 421.12 L466.59 422.51 L466.76 421.83 L466.94 423.81 L467.12 419.19 L467.3 416.21 L467.48 419.89 L467.65 418.8 L467.83 415.72 L468.01 421.25 L468.19 422.11 L468.37 424.4 L468.55 429.82 L468.72 421.8 L468.9 431.53 L469.08 423.35 L469.26 426.36 L469.44 422.73 L469.61 427.56 L469.79 430.8 L469.97 427 L470.15 430.83 L470.33 429.94 L470.51 429.63 L470.68 430.76 L470.86 431.45 L471.04 434.28 L471.22 432.43 L471.4 440 L471.57 433.27 L471.75 437.53 L471.93 429.58 L472.11 429.51 L472.29 441.69 L472.46 434.55 L472.64 436.01 L472.82 439.86 L473 435.18 L473.18 439.84 L473.36 445.64 L473.53 441.23 L473.71 441.85 L473.89 441.98 L474.07 447.89 L474.25 442.23 L474.42 443.28 L474.6 451.54 L474.78 451.58 L474.96 451.49 L475.14 454.68 L475.32 450.02 L475.49 455.48 L475.67 459.75 L475.85 460.25 L476.03 459.61 L476.21 456.14 L476.38 463.73 L476.56 465.33 L476.74 466.92 L476.92 470 L477.1 469.31 L477.28 474.87 L477.45 475.86 L477.63 478.58 L477.81 480.57 L477.99 485.16 L478.17 489.39 L478.34 492.91 L478.52 494.39 L478.7 498.45 L478.88 501.36 L479.06 495.59 L479.24 491.79 L479.41 488 L479.59 482.77 L479.77 477.53 L479.95 472.29 L480.13 467.2 L480.3 462.11 L480.48 457.02 L480.66 451.93 L480.84 446.84 L481.02 441.75 L481.19 437.09 L481.37 432.47 L481.55 427.85 L481.73 423.23 L481.91 418.62 L482.09 415.14 L482.26 412.26 L482.44 409.38 L482.62 405.17 L482.8 401.8 L482.98 409.32 L483.15 401.19 L483.33 404.88 L483.51 409.06 L483.69 406.55 L483.87 413.1 L484.05 409.81 L484.22 401.35 L484.4 411.47 L484.58 401.65 L484.76 408.74 L484.94 404.91 L485.11 408.45 L485.29 416.84 L485.47 410.86 L485.65 408.17 L485.83 413.13 L486.01 413.92 L486.18 407.78 L486.36 411.56 L486.54 415.44 L486.72 411.85 L486.9 406.32 L487.07 411.32 L487.25 406.38 L487.43 404.41 L487.61 410.02 L487.79 414.43 L487.97 415.23 L488.14 410.78 L488.32 407.66 L488.5 410.06 L488.68 409.23 L488.86 413.01 L489.03 410.49 L489.21 413.48 L489.39 413.13 L489.57 416.78 L489.75 417.91 L489.92 414.06 L490.1 416.44 L490.28 416.01 L490.46 410.2 L490.64 413.14 L490.82 402.27 L490.99 409.61 L491.17 415.39 L491.35 410.37 L491.53 412.02 L491.71 415.92 L491.88 409.53 L492.06 416.47 L492.24 424.88 L492.42 410.99 L492.6 416.24 L492.78 408.72 L492.95 416.6 L493.13 418.66 L493.31 408.86 L493.49 418.52 L493.67 414 L493.84 409.59 L494.02 414.57 L494.2 415.4 L494.38 414.86 L494.56 412.31 L494.74 418.41 L494.91 413.38 L495.09 413.63 L495.27 407.37 L495.45 417.2 L495.63 419.53 L495.8 413.77 L495.98 418.12 L496.16 415.86 L496.34 416.67 L496.52 413.14 L496.69 420.01 L496.87 418.2 L497.05 427.37 L497.23 421.57 L497.41 412.99 L497.59 421.28 L497.76 421.59 L497.94 423.71 L498.12 417.41 L498.3 419.11 L498.48 424.3 L498.65 418.14 L498.83 420.2 L499.01 418.98 L499.19 424.64 L499.37 416.57 L499.55 421.98 L499.72 424.48 L499.9 426.52 L500.08 426.1 L500.26 422.67 L500.44 427.35 L500.61 422.97 L500.79 425.27 L500.97 422.98 L501.15 425.4 L501.33 429.08 L501.51 436.29 L501.68 428.75 L501.86 427.46 L502.04 430.23 L502.22 429.29 L502.4 433.52 L502.57 433.67 L502.75 436.19 L502.93 428.29 L503.11 433.13 L503.29 435.97 L503.47 439.5 L503.64 435.69 L503.82 430.36 L504 434.51 L504.18 439.88 L504.36 433.1 L504.53 434.15 L504.71 436.83 L504.89 438.58 L505.07 438.29 L505.25 441.57 L505.42 441.78 L505.6 448.84 L505.78 442.86 L505.96 448.94 L506.14 445.31 L506.32 459.15 L506.49 453.1 L506.67 453.59 L506.85 458.19 L507.03 457.37 L507.21 457.87 L507.38 460.2 L507.56 464.71 L507.74 466.09 L507.92 466.4 L508.1 468.43 L508.28 472.28 L508.45 474.51 L508.63 476.6 L508.81 478.29 L508.99 481.69 L509.17 485.65 L509.34 489.93 L509.52 493.09 L509.7 494.62 L509.88 499 L510.06 500.61 L510.24 495.11 L510.41 491.32 L510.59 487.35 L510.77 482.11 L510.95 476.87 L511.13 471.66 L511.3 466.57 L511.48 461.48 L511.66 456.39 L511.84 451.3 L512.02 446.21 L512.2 441.13 L512.37 436.51 L512.55 431.89 L512.73 427.28 L512.91 422.66 L513.09 418.04 L513.26 414.78 L513.44 411.9 L513.62 409.02 L513.8 406.26 L513.98 406.73 L514.15 403.29 L514.33 408.06 L514.51 403.84 L514.69 404.46 L514.87 409.86 L515.05 407.86 L515.22 408.22 L515.4 401.72 L515.58 398.84 L515.76 408.73 L515.94 408.4 L516.11 416.83 L516.29 407.85 L516.47 408.73 L516.65 412.68 L516.83 406.01 L517.01 414.64 L517.18 409.82 L517.36 408.62 L517.54 413.75 L517.72 406.18 L517.9 405.54 L518.07 414.5 L518.25 414.74 L518.43 407.61 L518.61 410.09 L518.79 414.56 L518.97 411.42 L519.14 410.91 L519.32 411.22 L519.5 407.88 L519.68 409.67 L519.86 404.81 L520.03 406.43 L520.21 409.14 L520.39 407.87 L520.57 407.16 L520.75 409.53 L520.93 416.66 L521.1 409.19 L521.28 412.17 L521.46 406.66 L521.64 412.31 L521.82 410.85 L521.99 411.68 L522.17 406.88 L522.35 412.46 L522.53 414.2 L522.71 412.2 L522.88 415.04 L523.06 412.96 L523.24 413.69 L523.42 412.79 L523.6 406.9 L523.78 415.49 L523.95 414 L524.13 414.98 L524.31 411.94 L524.49 418.8 L524.67 417.15 L524.84 414.9 L525.02 412.89 L525.2 415.17 L525.38 416.94 L525.56 418.4 L525.74 413.51 L525.91 410.25 L526.09 414.45 L526.27 415.06 L526.45 414.25 L526.63 419.42 L526.8 417.37 L526.98 417.44 L527.16 415.63 L527.34 417.06 L527.52 421.6 L527.7 413.33 L527.87 411.5 L528.05 418.85 L528.23 416.68 L528.41 417.39 L528.59 415.75 L528.76 424.22 L528.94 413.21 L529.12 421.01 L529.3 414.95 L529.48 419.49 L529.66 421.47 L529.83 421.15 L530.01 417.96 L530.19 424.94 L530.37 423.74 L530.55 424.71 L530.72 429.78 L530.9 419.4 L531.08 422.6 L531.26 425.36 L531.44 421.64 L531.61 429.93 L531.79 427.22 L531.97 421.17 L532.15 424.37 L532.33 436.51 L532.51 441.03 L532.68 433.18 L532.86 426.04 L533.04 432.11 L533.22 431.68 L533.4 429.16 L533.57 435.08 L533.75 431.57 L533.93 429.94 L534.11 431.6 L534.29 432.33 L534.47 436.43 L534.64 432.85 L534.82 436.75 L535 430.92 L535.18 426.98 L535.36 440.06 L535.53 446.33 L535.71 441.02 L535.89 439.15 L536.07 437.76 L536.25 438.7 L536.43 446.52 L536.6 447.61 L536.78 441.9 L536.96 451.76 L537.14 446.44 L537.32 452.38 L537.49 451.28 L537.67 453.25 L537.85 454.28 L538.03 455.4 L538.21 461 L538.39 459.07 L538.56 461.69 L538.74 463.31 L538.92 463.94 L539.1 468.73 L539.28 471.47 L539.45 473.54 L539.63 475.17 L539.81 476.44 L539.99 479.73 L540.17 481.31 L540.34 486.12 L540.52 490.48 L540.7 493.28 L540.88 495.17 L541.06 499.55 L541.24 499.86 L541.41 494.64 L541.59 490.85 L541.77 486.7 L541.95 481.46 L542.13 476.22 L542.3 471.02 L542.48 465.93 L542.66 460.84 L542.84 455.75 L543.02 450.66 L543.2 445.57 L543.37 440.55 L543.55 435.94 L543.73 431.32 L543.91 426.7 L544.09 422.08 L544.26 417.46 L544.44 414.42 L544.62 411.54 L544.8 408.66 L544.98 407.12 L545.16 401.21 L545.33 405.47 L545.51 408.59 L545.69 401.34 L545.87 410.09 L546.05 403.67 L546.22 409.39 L546.4 406.18 L546.58 412.53 L546.76 411.32 L546.94 404.5 L547.12 407.78 L547.29 408.4 L547.47 410.23 L547.65 407.09 L547.83 413.87 L548.01 412.95 L548.18 409.54 L548.36 412.08 L548.54 411.68 L548.72 409.48 L548.9 409.8 L549.07 410.19 L549.25 403.42 L549.43 405.97 L549.61 405.35 L549.79 410.11 L549.97 412.02 L550.14 415.65 L550.32 411.81 L550.5 418.31 L550.68 413.03 L550.86 408.31 L551.03 405.37 L551.21 407.94 L551.39 414.76 L551.57 410.02 L551.75 414.86 L551.93 409.12 L552.1 412.62 L552.28 409.21 L552.46 403.09 L552.64 409.2 L552.82 404.19 L552.99 412.14 L553.17 414.09 L553.35 408.16 L553.53 406.85 L553.71 415.25 L553.89 413.06 L554.06 418.67 L554.24 414.29 L554.42 410.45 L554.6 414.1 L554.78 415.97 L554.95 419.14 L555.13 412.81 L555.31 411.38 L555.49 412.23 L555.67 413.59 L555.85 419.28 L556.02 408.37 L556.2 415.1 L556.38 415.54 L556.56 412.48 L556.74 423.13 L556.91 415.62 L557.09 416.01 L557.27 414.28 L557.45 410.86 L557.63 414.17 L557.8 422.69 L557.98 417.5 L558.16 415.75 L558.34 416.2 L558.52 421.63 L558.7 423.26 L558.87 415.45 L559.05 416.43 L559.23 418 L559.41 424.43 L559.59 411.95 L559.76 429.17 L559.94 420.19 L560.12 411.5 L560.3 419.91 L560.48 418.73 L560.66 424.1 L560.83 415.19 L561.01 425.41 L561.19 420.36 L561.37 421.38 L561.55 426.27 L561.72 419.81 L561.9 428.76 L562.08 426.68 L562.26 424.88 L562.44 426.86 L562.62 424.24 L562.79 423.16 L562.97 428.08 L563.15 429.47 L563.33 429.87 L563.51 429.82 L563.68 426.04 L563.86 430.26 L564.04 428.48 L564.22 430.78 L564.4 434.01 L564.58 428.3 L564.75 435.7 L564.93 432.38 L565.11 427.48 L565.29 437.33 L565.47 434.03 L565.64 440.06 L565.82 436.63 L566 440.68 L566.18 437.04 L566.36 438.41 L566.53 437.03 L566.71 432.8 L566.89 438.58 L567.07 438.26 L567.25 441.89 L567.43 443.64 L567.6 446.84 L567.78 451.38 L567.96 446.31 L568.14 442.94 L568.32 448.62 L568.49 453.52 L568.67 449 L568.85 456.48 L569.03 458.07 L569.21 460.65 L569.39 461.07 L569.56 460.47 L569.74 457.76 L569.92 464.59 L570.1 468.18 L570.28 469.51 L570.45 471.07 L570.63 474.94 L570.81 475.01 L570.99 476.77 L571.17 479.31 L571.35 482.1 L571.52 486.66 L571.7 491.02 L571.88 493.47 L572.06 495.72 L572.24 500.09 L572.41 499.12 L572.59 494.16 L572.77 490.37 L572.95 486.04 L573.13 480.8 L573.31 475.56 L573.48 470.38 L573.66 465.29 L573.84 460.21 L574.02 455.12 L574.2 450.03 L574.37 444.94 L574.55 439.98 L574.73 435.36 L574.91 430.74 L575.09 426.12 L575.26 421.5 L575.44 416.94 L575.62 414.06 L575.8 411.18 L575.98 408.3 L576.16 405.04 L576.33 400.94 L576.51 409.06 L576.69 403.26 L576.87 410.29 L577.05 409.94 L577.22 411.23 L577.4 405.99 L577.58 411.26 L577.76 407.89 L577.94 412.43 L578.12 404.51 L578.29 401.8 L578.47 407.73 L578.65 402.67 L578.83 406.69 L579.01 400.92 L579.18 408.53 L579.36 414.68 L579.54 403.64 L579.72 409.6 L579.9 412.99 L580.08 411.7 L580.25 415.31 L580.43 410.09 L580.61 413.56 L580.79 404.45 L580.97 407.61 L581.14 416.24 L581.32 415.87 L581.5 412.63 L581.68 417.75 L581.86 411.33 L582.04 411.27 L582.21 414.1 L582.39 413.46 L582.57 409.84 L582.75 406.67 L582.93 406.57 L583.1 412 L583.28 409.12 L583.46 415.03 L583.64 410.96 L583.82 416.06 L583.99 410.03 L584.17 417.3 L584.35 416.41 L584.53 413.05 L584.71 411.11 L584.89 418.47 L585.06 415.31 L585.24 412.98 L585.42 412.75 L585.6 416.74 L585.78 413.45 L585.95 414.89 L586.13 408.94 L586.31 412.14 L586.49 419.1 L586.67 422.41 L586.85 414.17 L587.02 410.36 L587.2 414.15 L587.38 411.7 L587.56 416.79 L587.74 420.11 L587.91 412.56 L588.09 415.04 L588.27 413.04 L588.45 420.67 L588.63 415.11 L588.81 418.17 L588.98 413.12 L589.16 418.4 L589.34 418.74 L589.52 418.89 L589.7 412.41 L589.87 417.13 L590.05 420.24 L590.23 421.43 L590.41 421.74 L590.59 412.87 L590.77 425.02 L590.94 421.75 L591.12 416.58 L591.3 414.85 L591.48 419.91 L591.66 416.75 L591.83 417.08 L592.01 416.62 L592.19 420.61 L592.37 415.35 L592.55 421.16 L592.72 416.9 L592.9 427.04 L593.08 420.2 L593.26 428.76 L593.44 430.21 L593.62 423.52 L593.79 428.92 L593.97 424.85 L594.15 430.85 L594.33 421.6 L594.51 427.89 L594.68 432.53 L594.86 428.26 L595.04 426.17 L595.22 432.67 L595.4 428.47 L595.58 423.4 L595.75 428.17 L595.93 431.85 L596.11 434.35 L596.29 430.65 L596.47 438.74 L596.64 444.74 L596.82 436.59 L597 438.57 L597.18 428.77 L597.36 435.07 L597.54 439.96 L597.71 441.65 L597.89 436.66 L598.07 442.54 L598.25 442.69 L598.43 441.95 L598.6 442.34 L598.78 443.35 L598.96 444.34 L599.14 442.05 L599.32 442.73 L599.5 455.33 L599.67 444.24 L599.85 453.36 L600.03 451.91 L600.21 458.34 L600.39 456.76 L600.56 458.21 L600.74 459.65 L600.92 460.33 L601.1 463.12 L601.28 468.25 L601.45 468.92 L601.63 469.97 L601.81 472.35 L601.99 475.65 L602.17 477.75 L602.35 479.82 L602.52 483.16 L602.7 487.21 L602.88 491.56 L603.06 493.65 L603.24 496.27 L603.41 500.64 L603.59 498.37 L603.77 493.69 L603.95 489.9 L604.13 485.39 L604.31 480.15 L604.48 474.91 L604.66 469.75 L604.84 464.66 L605.02 459.57 L605.2 454.48 L605.37 449.39 L605.55 444.3 L605.73 439.4 L605.91 434.78 L606.09 430.16 L606.27 425.54 L606.44 420.93 L606.62 416.58 L606.8 413.7 L606.98 410.82 L607.16 407.94 L607.33 403.25 L607.51 402.45 L607.69 405.33 L607.87 403.3 L608.05 412.14 L608.23 408.28 L608.4 408.87 L608.58 407.38 L608.76 405.85 L608.94 415.28 L609.12 396.71 L609.29 411.31 L609.47 407 L609.65 405.33 L609.83 405.33 L610.01 407.64 L610.18 419.18 L610.36 412.64 L610.54 406.02 L610.72 412.22 L610.9 412.8 L611.08 417.62 L611.25 404.72 L611.43 407.38 L611.61 412.59 L611.79 410.02 L611.97 410.09 L612.14 413.97 L612.32 411.1 L612.5 409.37 L612.68 408.47 L612.86 406.06 L613.04 410.74 L613.21 412.72 L613.39 409.76 L613.57 413.69 L613.75 416.14 L613.93 407.62 L614.1 413.33 L614.28 411.62 L614.46 409.81 L614.64 416.31 L614.82 410.07 L615 410.88 L615.17 412.98 L615.35 411.3 L615.53 415.6 L615.71 420.98 L615.89 414.11 L616.06 416.5 L616.24 410.15 L616.42 412.45 L616.6 415.45 L616.78 413.47 L616.96 408.84 L617.13 409.74 L617.31 412.65 L617.49 412.55 L617.67 415.25 L617.85 414.84 L618.02 412.35 L618.2 415.05 L618.38 413.65 L618.56 418.92 L618.74 421.05 L618.91 421.29 L619.09 416.83 L619.27 410.53 L619.45 411.18 L619.63 419.23 L619.81 421.39 L619.98 412.97 L620.16 414.34 L620.34 421.24 L620.52 412.66 L620.7 416.1 L620.87 412.16 L621.05 415.97 L621.23 414.21 L621.41 416.52 L621.59 421.39 L621.77 419.01 L621.94 420.86 L622.12 415.62 L622.3 422.49 L622.48 424.68 L622.66 416.87 L622.83 415.42 L623.01 414.57 L623.19 416.25 L623.37 426.28 L623.55 423.92 L623.73 423.96 L623.9 422.63 L624.08 430.96 L624.26 423.75 L624.44 423.29 L624.62 428.34 L624.79 425.03 L624.97 421.71 L625.15 426.43 L625.33 423.25 L625.51 423.9 L625.68 426.59 L625.86 427.17 L626.04 430.41 L626.22 425.04 L626.4 431.76 L626.58 433.07 L626.75 428.46 L626.93 434.16 L627.11 430.46 L627.29 428.64 L627.47 432.66 L627.64 433.05 L627.82 430.56 L628 431.64 L628.18 440.45 L628.36 440.09 L628.54 430.96 L628.71 435.25 L628.89 445.28 L629.07 443.67 L629.25 439.72 L629.43 444.42 L629.6 440.2 L629.78 442.67 L629.96 442.22 L630.14 449.34 L630.32 444.8 L630.5 442.3 L630.67 453 L630.85 448.41 L631.03 451.33 L631.21 453.81 L631.39 456.86 L631.56 460.72 L631.74 461.08 L631.92 458.57 L632.1 460.47 L632.28 462.39 L632.46 465.27 L632.63 467.74 L632.81 471.85 L632.99 474.82 L633.17 475.47 L633.35 477.48 L633.52 479.99 L633.7 483.77 L633.88 487.75 L634.06 492.11 L634.24 493.84 L634.41 496.81 L634.59 501.19 L634.77 497.62 L634.95 493.22 L635.13 489.42 L635.31 484.73 L635.48 479.49 L635.66 474.25 L635.84 469.11 L636.02 464.02 L636.2 458.93 L636.37 453.84 L636.55 448.75 L636.73 443.66 L636.91 438.82 L637.09 434.2 L637.27 429.58 L637.44 424.97 L637.62 420.35 L637.8 416.22 L637.98 413.34 L638.16 410.46 L638.33 407.58 L638.51 410.87 L638.69 408.81 L638.87 400.91 L639.05 405.14 L639.23 404.98 L639.4 408.98 L639.58 404.25 L639.76 407.17 L639.94 411.13 L640.12 409.66 L640.29 407.47 L640.47 404.03 L640.65 408.58 L640.83 406.64 L641.01 401.2 L641.19 411.53 L641.36 413.22 L641.54 405.22 L641.72 407.28 L641.9 409.31 L642.08 408.08 L642.25 410.32 L642.43 407.33 L642.61 410.51 L642.79 406.5 L642.97 413.84 L643.14 412.73 L643.32 409.52 L643.5 411.83 L643.68 407.78 L643.86 410.64 L644.04 412.63 L644.21 410.08 L644.39 412.94 L644.57 416.86 L644.75 415.51 L644.93 414.47 L645.1 413.45 L645.28 411.54 L645.46 408.7 L645.64 410.11 L645.82 405.76 L646 407.7 L646.17 413.13 L646.35 406.56 L646.53 408.37 L646.71 414.42 L646.89 411.76 L647.06 409.02 L647.24 412.23 L647.42 409.53 L647.6 411.89 L647.78 410.89 L647.96 414.71 L648.13 412.29 L648.31 415.1 L648.49 411.45 L648.67 420.16 L648.85 412.93 L649.02 409.73 L649.2 412.29 L649.38 414.61 L649.56 412.68 L649.74 417.84 L649.92 417.91 L650.09 416.32 L650.27 415.68 L650.45 411.75 L650.63 418.64 L650.81 411.87 L650.98 421.35 L651.16 418.62 L651.34 416.08 L651.52 411.97 L651.7 418.65 L651.87 424.45 L652.05 415.37 L652.23 417.23 L652.41 421.3 L652.59 421.4 L652.77 420.37 L652.94 417.72 L653.12 415.9 L653.3 423.92 L653.48 410.47 L653.66 419.16 L653.83 420.62 L654.01 417.05 L654.19 419.34 L654.37 411.69 L654.55 416.78 L654.73 422.68 L654.9 423.34 L655.08 424.32 L655.26 424.33 L655.44 421.23 L655.62 426.6 L655.79 418.97 L655.97 425.71 L656.15 426.53 L656.33 423.1 L656.51 434.23 L656.69 430.93 L656.86 425.85 L657.04 428.47 L657.22 429.05 L657.4 428.06 L657.58 432.18 L657.75 431.1 L657.93 435.92 L658.11 438.28 L658.29 427.36 L658.47 435.82 L658.65 435.51 L658.82 428.31 L659 430.01 L659.18 436.25 L659.36 436.74 L659.54 435.58 L659.71 439.23 L659.89 434.71 L660.07 437.23 L660.25 438.33 L660.43 437.12 L660.6 438.3 L660.78 435.26 L660.96 437.5 L661.14 450.27 L661.32 442.09 L661.5 450.91 L661.67 453.54 L661.85 448.47 L662.03 454.54 L662.21 455.15 L662.39 452.78 L662.56 458.5 L662.74 460.15 L662.92 458.32 L663.1 457.8 L663.28 461.66 L663.46 467.83 L663.63 468.23 L663.81 469.57 L663.99 469.06 L664.17 472.75 L664.35 475.15 L664.52 477.25 L664.7 480.46 L664.88 483.84 L665.06 488.3 L665.24 492.54 L665.42 494.02 L665.59 497.36 L665.77 501.73 L665.95 496.88 L666.13 492.74 L666.31 488.95 L666.48 484.08 L666.66 478.84 L666.84 473.6 L667.02 468.48 L667.2 463.39 L667.38 458.3 L667.55 453.21 L667.73 448.12 L667.91 443.03 L668.09 438.24 L668.27 433.63 L668.44 429.01 L668.62 424.39 L668.8 419.77 L668.98 415.86 L669.16 412.98 L669.33 410.1 L669.51 407.22 L669.69 405.93 L669.87 403.41 L670.05 409.13 L670.23 404.07 L670.4 408.67 L670.58 405.84 L670.76 405.48 L670.94 405.4 L671.12 409.41 L671.29 408.69 L671.47 406.41 L671.65 413.05 L671.83 407.81 L672.01 406.66 L672.19 404.82 L672.36 408.84 L672.54 409.46 L672.72 408.37 L672.9 411.64 L673.08 409.82 L673.25 407.66 L673.43 408.21 L673.61 413.12 L673.79 410.6 L673.97 417.23 L674.15 406.82 L674.32 411.85 L674.5 409.23 L674.68 414.28 L674.86 410.78 L675.04 409.04 L675.21 407.28 L675.39 415.98 L675.57 408.15 L675.75 412 L675.93 414.4 L676.11 410.04 L676.28 413.02 L676.46 413.18 L676.64 414.78 L676.82 411.52 L677 412.32 L677.17 413.19 L677.35 416.15 L677.53 414.65 L677.71 411.44 L677.89 408.37 L678.06 413.23 L678.24 408.11 L678.42 413.4 L678.6 417.43 L678.78 411.29 L678.96 417.2 L679.13 412.35 L679.31 410.03 L679.49 415.16 L679.67 414.48 L679.85 405.32 L680.02 413.54 L680.2 413.57 L680.38 411.82 L680.56 415.13 L680.74 415.22 L680.92 413.64 L681.09 423.83 L681.27 410.13 L681.45 419.27" fill="none" stroke="#2356aa" stroke-width="1.0" stroke-linejoin="round" />
<rect x="432.2" y="387.6" width="249.25" height="129.8" fill="none" stroke="#222" stroke-width="1.0"/>
<line x1="428.2" y1="517.4" x2="432.2" y2="517.4" stroke="#333" stroke-width="1.0"/>
<line x1="428.2" y1="482.79" x2="432.2" y2="482.79" stroke="#333" stroke-width="1.0"/>
<line x1="428.2" y1="448.17" x2="432.2" y2="448.17" stroke="#333" stroke-width="1.0"/>
<line x1="428.2" y1="413.56" x2="432.2" y2="413.56" stroke="#333" stroke-width="1.0"/>
<line x1="430.2" y1="500.09" x2="432.2" y2="500.09" stroke="#333" stroke-width="1.0"/>
<line x1="430.2" y1="465.48" x2="432.2" y2="465.48" stroke="#333" stroke-width="1.0"/>
<line x1="430.2" y1="430.87" x2="432.2" y2="430.87" stroke="#333" stroke-width="1.0"/>
<line x1="430.2" y1="396.25" x2="432.2" y2="396.25" stroke="#333" stroke-width="1.0"/>
<line x1="432.2" y1="517.4" x2="432.2" y2="521.4" stroke="#333" stroke-width="1.0"/>
<line x1="494.51" y1="517.4" x2="494.51" y2="521.4" stroke="#333" stroke-width="1.0"/>
<line x1="556.83" y1="517.4" x2="556.83" y2="521.4" stroke="#333" stroke-width="1.0"/>
<line x1="619.14" y1="517.4" x2="619.14" y2="521.4" stroke="#333" stroke-width="1.0"/>
<line x1="681.45" y1="517.4" x2="681.45" y2="521.4" stroke="#333" stroke-width="1.0"/>
<line x1="463.36" y1="517.4" x2="463.36" y2="519.4" stroke="#333" stroke-width="1.0"/>
<line x1="525.67" y1="517.4" x2="525.67" y2="519.4" stroke="#333" stroke-width="1.0"/>
<line x1="587.98" y1="517.4" x2="587.98" y2="519.4" stroke="#333" stroke-width="1.0"/>
<line x1="650.29" y1="517.4" x2="650.29" y2="519.4" stroke="#333" stroke-width="1.0"/>
<g style="filter:saturate(1)"><text transform="translate(69.6,173.13) scale(1,1.02)" text-anchor="end" font-size="15.0" fill="#000" font-weight="normal" >3.95</text>
<text transform="translate(69.6,108.03) scale(1,1.02)" text-anchor="end" font-size="15.0" fill="#000" font-weight="normal" >4.00</text>
<text transform="translate(69.6,42.94) scale(1,1.02)" text-anchor="end" font-size="15.0" fill="#000" font-weight="normal" >4.05</text>
<text transform="translate(78.3,237.6) scale(1,1.02)" text-anchor="middle" font-size="15.0" fill="#000" font-weight="normal" >0</text>
<text transform="translate(128.04,237.6) scale(1,1.02)" text-anchor="middle" font-size="15.0" fill="#000" font-weight="normal" >20</text>
<text transform="translate(177.78,237.6) scale(1,1.02)" text-anchor="middle" font-size="15.0" fill="#000" font-weight="normal" >40</text>
<text transform="translate(227.52,237.6) scale(1,1.02)" text-anchor="middle" font-size="15.0" fill="#000" font-weight="normal" >60</text>
<text transform="translate(277.26,237.6) scale(1,1.02)" text-anchor="middle" font-size="15.0" fill="#000" font-weight="normal" >80</text>
<text transform="translate(327,237.6) scale(1,1.02)" text-anchor="middle" font-size="15.0" fill="#000" font-weight="normal" >100</text>
<text transform="translate(11.9,119.35) rotate(-90) scale(1,1.02)" text-anchor="middle" font-size="14.5">Integrated intensity</text>
<text transform="translate(30.2,118.8) rotate(-90) scale(1,1.02)" text-anchor="middle" font-size="14.4">(×10<tspan font-size="9" dy="-4.8">5</tspan><tspan dy="4.8"> counts)</tspan></text>
<text transform="translate(203.2,259.5) scale(1,1.02)" text-anchor="middle" font-size="14.6" fill="#000" font-weight="normal" >Time (µs)</text>
<text transform="translate(3.6,13) scale(1,1.0)" text-anchor="start" font-size="15" fill="#000" font-weight="bold" >a</text>
<text transform="translate(69.6,469.45) scale(1,1.02)" text-anchor="end" font-size="15.0" fill="#000" font-weight="normal" >3.95</text>
<text transform="translate(69.6,404.26) scale(1,1.02)" text-anchor="end" font-size="15.0" fill="#000" font-weight="normal" >4.00</text>
<text transform="translate(69.6,339.08) scale(1,1.02)" text-anchor="end" font-size="15.0" fill="#000" font-weight="normal" >4.05</text>
<text transform="translate(78.3,533) scale(1,1.02)" text-anchor="middle" font-size="15.0" fill="#000" font-weight="normal" >19.0</text>
<text transform="translate(161.27,533) scale(1,1.02)" text-anchor="middle" font-size="15.0" fill="#000" font-weight="normal" >19.5</text>
<text transform="translate(244.23,533) scale(1,1.02)" text-anchor="middle" font-size="15.0" fill="#000" font-weight="normal" >20.0</text>
<text transform="translate(327.2,533) scale(1,1.02)" text-anchor="middle" font-size="15.0" fill="#000" font-weight="normal" >20.5</text>
<text transform="translate(11.9,424.45) rotate(-90) scale(1,1.02)" text-anchor="middle" font-size="14.5">Integrated intensity</text>
<text transform="translate(30.2,424.75) rotate(-90) scale(1,1.02)" text-anchor="middle" font-size="14.4">(×10<tspan font-size="9" dy="-4.8">5</tspan><tspan dy="4.8"> counts)</tspan></text>
<text transform="translate(203,555.2) scale(1,1.02)" text-anchor="middle" font-size="14.6" fill="#000" font-weight="normal" >Time (µs)</text>
<text transform="translate(3.7,314) scale(1,1.0)" text-anchor="start" font-size="14.5" fill="#000" font-weight="bold" >b</text>
<text transform="translate(223.1,298.1) scale(1,1.02)" text-anchor="middle" font-size="15.0" fill="#853c9e" font-weight="normal" >60 ns</text>
<text transform="translate(424.1,134.18) scale(1,1.02)" text-anchor="end" font-size="15.0" fill="#000" font-weight="normal" >-4</text>
<text transform="translate(424.1,108.14) scale(1,1.02)" text-anchor="end" font-size="15.0" fill="#000" font-weight="normal" >-2</text>
<text transform="translate(424.1,82.1) scale(1,1.02)" text-anchor="end" font-size="15.0" fill="#000" font-weight="normal" >0</text>
<text transform="translate(424.1,56.06) scale(1,1.02)" text-anchor="end" font-size="15.0" fill="#000" font-weight="normal" >2</text>
<text transform="translate(424.1,30.02) scale(1,1.02)" text-anchor="end" font-size="15.0" fill="#000" font-weight="normal" >4</text>
<text transform="translate(431.4,161) scale(1,1.02)" text-anchor="middle" font-size="15.0" fill="#000" font-weight="normal" >0</text>
<text transform="translate(493.71,161) scale(1,1.02)" text-anchor="middle" font-size="15.0" fill="#000" font-weight="normal" >2</text>
<text transform="translate(556.03,161) scale(1,1.02)" text-anchor="middle" font-size="15.0" fill="#000" font-weight="normal" >4</text>
<text transform="translate(618.34,161) scale(1,1.02)" text-anchor="middle" font-size="15.0" fill="#000" font-weight="normal" >6</text>
<text transform="translate(680.65,161) scale(1,1.02)" text-anchor="middle" font-size="15.0" fill="#000" font-weight="normal" >8</text>
<text transform="translate(400.9,77) rotate(-90) scale(1,1.02)" text-anchor="middle" font-size="14.8">Bias (V)</text>
<text transform="translate(557.1,179.1) scale(1,1.02)" text-anchor="middle" font-size="14.6" fill="#000" font-weight="normal" >Time (µs)</text>
<text transform="translate(365.1,13) scale(1,1.0)" text-anchor="start" font-size="15" fill="#000" font-weight="bold" >c</text>
<text transform="translate(425.8,323.15) scale(1,1.02)" text-anchor="end" font-size="15.0" fill="#000" font-weight="normal" >8.8</text>
<text transform="translate(425.8,276.05) scale(1,1.02)" text-anchor="end" font-size="15.0" fill="#000" font-weight="normal" >8.9</text>
<text transform="translate(425.8,228.95) scale(1,1.02)" text-anchor="end" font-size="15.0" fill="#000" font-weight="normal" >9.0</text>
<text transform="translate(431.4,348) scale(1,1.02)" text-anchor="middle" font-size="15.0" fill="#000" font-weight="normal" >0</text>
<text transform="translate(493.71,348) scale(1,1.02)" text-anchor="middle" font-size="15.0" fill="#000" font-weight="normal" >2</text>
<text transform="translate(556.03,348) scale(1,1.02)" text-anchor="middle" font-size="15.0" fill="#000" font-weight="normal" >4</text>
<text transform="translate(618.34,348) scale(1,1.02)" text-anchor="middle" font-size="15.0" fill="#000" font-weight="normal" >6</text>
<text transform="translate(680.65,348) scale(1,1.02)" text-anchor="middle" font-size="15.0" fill="#000" font-weight="normal" >8</text>
<text transform="translate(393.5,269.6) rotate(-90) scale(1,1.02)" text-anchor="middle" font-size="14.5">Intensity (×10<tspan font-size="9" dy="-4.8">5</tspan><tspan dy="4.8"> counts)</tspan></text>
<text transform="translate(557.1,366.2) scale(1,1.02)" text-anchor="middle" font-size="14.6" fill="#000" font-weight="normal" >Time (µs)</text>
<text transform="translate(365.1,202) scale(1,1.0)" text-anchor="start" font-size="14.5" fill="#000" font-weight="bold" >d</text>
<text transform="translate(425.8,521.7) scale(1,1.02)" text-anchor="end" font-size="15.0" fill="#000" font-weight="normal" >8.9</text>
<text transform="translate(425.8,487.09) scale(1,1.02)" text-anchor="end" font-size="15.0" fill="#000" font-weight="normal" >9.0</text>
<text transform="translate(425.8,452.47) scale(1,1.02)" text-anchor="end" font-size="15.0" fill="#000" font-weight="normal" >9.1</text>
<text transform="translate(425.8,417.86) scale(1,1.02)" text-anchor="end" font-size="15.0" fill="#000" font-weight="normal" >9.2</text>
<text transform="translate(431.4,535) scale(1,1.02)" text-anchor="middle" font-size="15.0" fill="#000" font-weight="normal" >0</text>
<text transform="translate(493.71,535) scale(1,1.02)" text-anchor="middle" font-size="15.0" fill="#000" font-weight="normal" >2</text>
<text transform="translate(556.03,535) scale(1,1.02)" text-anchor="middle" font-size="15.0" fill="#000" font-weight="normal" >4</text>
<text transform="translate(618.34,535) scale(1,1.02)" text-anchor="middle" font-size="15.0" fill="#000" font-weight="normal" >6</text>
<text transform="translate(680.65,535) scale(1,1.02)" text-anchor="middle" font-size="15.0" fill="#000" font-weight="normal" >8</text>
<text transform="translate(393.5,454.45) rotate(-90) scale(1,1.02)" text-anchor="middle" font-size="14.5">Intensity (×10<tspan font-size="9" dy="-4.8">5</tspan><tspan dy="4.8"> counts)</tspan></text>
<text transform="translate(557.1,553.8) scale(1,1.02)" text-anchor="middle" font-size="14.6" fill="#000" font-weight="normal" >Time (µs)</text>
<text transform="translate(364.9,387) scale(1,1.0)" text-anchor="start" font-size="15" fill="#000" font-weight="bold" >e</text></g>
</svg>
</body></html>
